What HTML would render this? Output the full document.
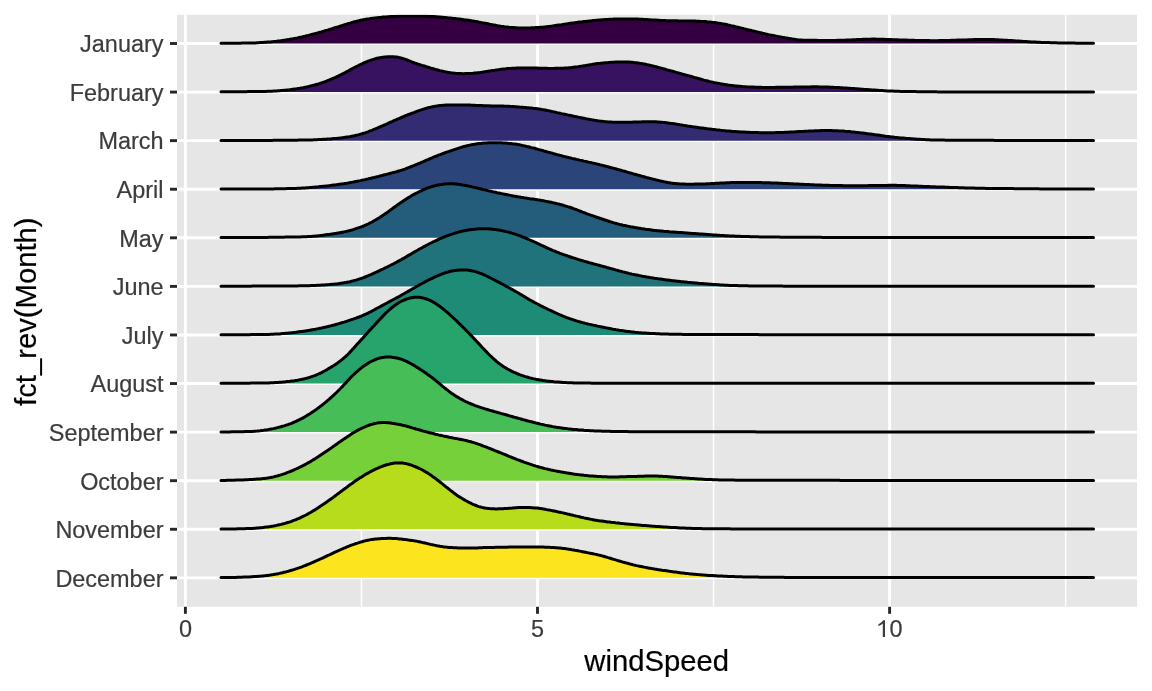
<!DOCTYPE html><html><head><meta charset="utf-8"><style>html,body{margin:0;padding:0;background:#fff;width:1152px;height:691px;overflow:hidden}svg{display:block;will-change:transform}text{font-family:"Liberation Sans",sans-serif}</style></head><body>
<svg width="1152" height="691" viewBox="0 0 1152 691">
<defs><clipPath id="pc"><rect x="177" y="14.8" width="960" height="592"/></clipPath></defs>
<rect x="177" y="14.8" width="960" height="592" fill="#e6e6e6"/>
<g stroke="#fff" fill="none" clip-path="url(#pc)">
<line x1="361.45" y1="14.8" x2="361.45" y2="606.8" stroke-width="1.5"/>
<line x1="713.55" y1="14.8" x2="713.55" y2="606.8" stroke-width="1.5"/>
<line x1="1065.65" y1="14.8" x2="1065.65" y2="606.8" stroke-width="1.5"/>
<line x1="185.40" y1="14.8" x2="185.40" y2="606.8" stroke-width="2.9"/>
<line x1="537.50" y1="14.8" x2="537.50" y2="606.8" stroke-width="2.9"/>
<line x1="889.60" y1="14.8" x2="889.60" y2="606.8" stroke-width="2.9"/>
<line x1="177" y1="43.50" x2="1137" y2="43.50" stroke-width="2.9"/>
<line x1="177" y1="92.08" x2="1137" y2="92.08" stroke-width="2.9"/>
<line x1="177" y1="140.65" x2="1137" y2="140.65" stroke-width="2.9"/>
<line x1="177" y1="189.23" x2="1137" y2="189.23" stroke-width="2.9"/>
<line x1="177" y1="237.81" x2="1137" y2="237.81" stroke-width="2.9"/>
<line x1="177" y1="286.38" x2="1137" y2="286.38" stroke-width="2.9"/>
<line x1="177" y1="334.96" x2="1137" y2="334.96" stroke-width="2.9"/>
<line x1="177" y1="383.54" x2="1137" y2="383.54" stroke-width="2.9"/>
<line x1="177" y1="432.12" x2="1137" y2="432.12" stroke-width="2.9"/>
<line x1="177" y1="480.69" x2="1137" y2="480.69" stroke-width="2.9"/>
<line x1="177" y1="529.27" x2="1137" y2="529.27" stroke-width="2.9"/>
<line x1="177" y1="577.85" x2="1137" y2="577.85" stroke-width="2.9"/>
</g>
<g clip-path="url(#pc)">
<path d="M221.0,43.50 L221.0,43.3 L222.5,43.3 L224.0,43.3 L225.5,43.3 L227.0,43.3 L228.5,43.3 L230.0,43.3 L231.5,43.3 L233.0,43.2 L234.5,43.2 L236.0,43.2 L237.5,43.2 L239.0,43.2 L240.5,43.2 L242.0,43.1 L243.5,43.1 L245.0,43.1 L246.5,43.1 L248.0,43.1 L249.5,43.0 L251.0,43.0 L252.5,43.0 L254.0,42.9 L255.5,42.9 L257.0,42.8 L258.5,42.7 L260.0,42.6 L261.5,42.5 L263.0,42.5 L264.5,42.3 L266.0,42.2 L267.5,42.1 L269.0,42.0 L270.5,41.9 L272.0,41.7 L273.5,41.6 L275.0,41.4 L276.5,41.3 L278.0,41.1 L279.5,40.9 L281.0,40.7 L282.5,40.5 L284.0,40.3 L285.5,40.1 L287.0,39.8 L288.5,39.6 L290.0,39.3 L291.5,39.0 L293.0,38.8 L294.5,38.5 L296.0,38.2 L297.5,37.9 L299.0,37.5 L300.5,37.2 L302.0,36.9 L303.5,36.5 L305.0,36.2 L306.5,35.8 L308.0,35.5 L309.5,35.1 L311.0,34.7 L312.5,34.3 L314.0,33.9 L315.5,33.5 L317.0,33.1 L318.5,32.7 L320.0,32.3 L321.5,31.9 L323.0,31.4 L324.5,31.0 L326.0,30.5 L327.5,30.1 L329.0,29.6 L330.5,29.1 L332.0,28.7 L333.5,28.2 L335.0,27.7 L336.5,27.3 L338.0,26.8 L339.5,26.3 L341.0,25.8 L342.5,25.4 L344.0,24.9 L345.5,24.4 L347.0,24.0 L348.5,23.5 L350.0,23.1 L351.5,22.6 L353.0,22.2 L354.5,21.8 L356.0,21.4 L357.5,21.0 L359.0,20.7 L360.5,20.3 L362.0,20.0 L363.5,19.7 L365.0,19.4 L366.5,19.1 L368.0,18.9 L369.5,18.7 L371.0,18.4 L372.5,18.2 L374.0,18.1 L375.5,17.9 L377.0,17.7 L378.5,17.6 L380.0,17.4 L381.5,17.3 L383.0,17.1 L384.5,17.0 L386.0,16.9 L387.5,16.8 L389.0,16.7 L390.5,16.6 L392.0,16.5 L393.5,16.4 L395.0,16.3 L396.5,16.3 L398.0,16.2 L399.5,16.1 L401.0,16.1 L402.5,16.1 L404.0,16.0 L405.5,16.0 L407.0,16.0 L408.5,15.9 L410.0,15.9 L411.5,15.9 L413.0,15.9 L414.5,15.9 L416.0,15.9 L417.5,16.0 L419.0,16.0 L420.5,16.0 L422.0,16.0 L423.5,16.1 L425.0,16.1 L426.5,16.2 L428.0,16.2 L429.5,16.3 L431.0,16.4 L432.5,16.5 L434.0,16.6 L435.5,16.7 L437.0,16.8 L438.5,16.9 L440.0,17.0 L441.5,17.2 L443.0,17.3 L444.5,17.4 L446.0,17.6 L447.5,17.7 L449.0,17.9 L450.5,18.0 L452.0,18.2 L453.5,18.4 L455.0,18.5 L456.5,18.7 L458.0,18.9 L459.5,19.1 L461.0,19.3 L462.5,19.5 L464.0,19.7 L465.5,19.9 L467.0,20.1 L468.5,20.3 L470.0,20.5 L471.5,20.8 L473.0,21.0 L474.5,21.3 L476.0,21.5 L477.5,21.8 L479.0,22.1 L480.5,22.4 L482.0,22.7 L483.5,22.9 L485.0,23.2 L486.5,23.5 L488.0,23.8 L489.5,24.2 L491.0,24.5 L492.5,24.8 L494.0,25.0 L495.5,25.3 L497.0,25.6 L498.5,25.9 L500.0,26.1 L501.5,26.4 L503.0,26.6 L504.5,26.8 L506.0,26.9 L507.5,27.1 L509.0,27.3 L510.5,27.4 L512.0,27.5 L513.5,27.6 L515.0,27.7 L516.5,27.8 L518.0,27.9 L519.5,27.9 L521.0,28.0 L522.5,28.0 L524.0,28.0 L525.5,28.0 L527.0,27.9 L528.5,27.9 L530.0,27.9 L531.5,27.8 L533.0,27.7 L534.5,27.7 L536.0,27.6 L537.5,27.5 L539.0,27.4 L540.5,27.3 L542.0,27.2 L543.5,27.1 L545.0,26.9 L546.5,26.7 L548.0,26.5 L549.5,26.4 L551.0,26.2 L552.5,26.0 L554.0,25.7 L555.5,25.5 L557.0,25.3 L558.5,25.1 L560.0,24.9 L561.5,24.7 L563.0,24.4 L564.5,24.2 L566.0,24.0 L567.5,23.8 L569.0,23.5 L570.5,23.3 L572.0,23.1 L573.5,22.9 L575.0,22.7 L576.5,22.5 L578.0,22.3 L579.5,22.1 L581.0,21.9 L582.5,21.8 L584.0,21.6 L585.5,21.4 L587.0,21.2 L588.5,21.1 L590.0,20.9 L591.5,20.8 L593.0,20.6 L594.5,20.4 L596.0,20.3 L597.5,20.2 L599.0,20.0 L600.5,19.9 L602.0,19.8 L603.5,19.7 L605.0,19.6 L606.5,19.5 L608.0,19.4 L609.5,19.3 L611.0,19.2 L612.5,19.2 L614.0,19.1 L615.5,19.1 L617.0,19.0 L618.5,19.0 L620.0,19.0 L621.5,19.0 L623.0,19.0 L624.5,19.0 L626.0,19.0 L627.5,19.0 L629.0,19.0 L630.5,19.0 L632.0,19.0 L633.5,19.0 L635.0,19.1 L636.5,19.1 L638.0,19.1 L639.5,19.2 L641.0,19.2 L642.5,19.3 L644.0,19.4 L645.5,19.5 L647.0,19.6 L648.5,19.7 L650.0,19.8 L651.5,19.9 L653.0,20.0 L654.5,20.0 L656.0,20.1 L657.5,20.2 L659.0,20.3 L660.5,20.4 L662.0,20.5 L663.5,20.6 L665.0,20.6 L666.5,20.7 L668.0,20.7 L669.5,20.8 L671.0,20.8 L672.5,20.8 L674.0,20.8 L675.5,20.8 L677.0,20.8 L678.5,20.9 L680.0,20.9 L681.5,20.9 L683.0,20.9 L684.5,20.9 L686.0,20.9 L687.5,20.9 L689.0,21.0 L690.5,21.0 L692.0,21.0 L693.5,21.1 L695.0,21.1 L696.5,21.2 L698.0,21.2 L699.5,21.3 L701.0,21.4 L702.5,21.4 L704.0,21.5 L705.5,21.6 L707.0,21.8 L708.5,21.9 L710.0,22.0 L711.5,22.2 L713.0,22.4 L714.5,22.5 L716.0,22.7 L717.5,23.0 L719.0,23.2 L720.5,23.4 L722.0,23.7 L723.5,23.9 L725.0,24.2 L726.5,24.5 L728.0,24.9 L729.5,25.2 L731.0,25.6 L732.5,25.9 L734.0,26.3 L735.5,26.7 L737.0,27.0 L738.5,27.4 L740.0,27.8 L741.5,28.1 L743.0,28.5 L744.5,28.9 L746.0,29.2 L747.5,29.6 L749.0,30.0 L750.5,30.3 L752.0,30.7 L753.5,31.0 L755.0,31.4 L756.5,31.8 L758.0,32.1 L759.5,32.5 L761.0,32.8 L762.5,33.2 L764.0,33.5 L765.5,33.9 L767.0,34.2 L768.5,34.6 L770.0,34.9 L771.5,35.2 L773.0,35.5 L774.5,35.8 L776.0,36.1 L777.5,36.4 L779.0,36.7 L780.5,37.0 L782.0,37.3 L783.5,37.5 L785.0,37.8 L786.5,38.0 L788.0,38.3 L789.5,38.6 L791.0,38.8 L792.5,39.1 L794.0,39.3 L795.5,39.5 L797.0,39.7 L798.5,39.9 L800.0,40.0 L801.5,40.1 L803.0,40.2 L804.5,40.2 L806.0,40.3 L807.5,40.3 L809.0,40.3 L810.5,40.3 L812.0,40.3 L813.5,40.3 L815.0,40.3 L816.5,40.3 L818.0,40.4 L819.5,40.4 L821.0,40.4 L822.5,40.4 L824.0,40.4 L825.5,40.4 L827.0,40.4 L828.5,40.4 L830.0,40.4 L831.5,40.4 L833.0,40.4 L834.5,40.4 L836.0,40.4 L837.5,40.3 L839.0,40.3 L840.5,40.3 L842.0,40.3 L843.5,40.2 L845.0,40.2 L846.5,40.1 L848.0,40.0 L849.5,40.0 L851.0,39.9 L852.5,39.8 L854.0,39.8 L855.5,39.7 L857.0,39.6 L858.5,39.5 L860.0,39.5 L861.5,39.4 L863.0,39.3 L864.5,39.3 L866.0,39.3 L867.5,39.2 L869.0,39.2 L870.5,39.2 L872.0,39.1 L873.5,39.1 L875.0,39.1 L876.5,39.2 L878.0,39.2 L879.5,39.2 L881.0,39.2 L882.5,39.3 L884.0,39.3 L885.5,39.4 L887.0,39.4 L888.5,39.5 L890.0,39.5 L891.5,39.6 L893.0,39.7 L894.5,39.7 L896.0,39.8 L897.5,39.8 L899.0,39.9 L900.5,39.9 L902.0,40.0 L903.5,40.0 L905.0,40.1 L906.5,40.1 L908.0,40.2 L909.5,40.2 L911.0,40.3 L912.5,40.3 L914.0,40.3 L915.5,40.4 L917.0,40.4 L918.5,40.4 L920.0,40.5 L921.5,40.5 L923.0,40.5 L924.5,40.6 L926.0,40.6 L927.5,40.6 L929.0,40.6 L930.5,40.7 L932.0,40.7 L933.5,40.7 L935.0,40.7 L936.5,40.7 L938.0,40.7 L939.5,40.6 L941.0,40.6 L942.5,40.6 L944.0,40.6 L945.5,40.5 L947.0,40.5 L948.5,40.4 L950.0,40.4 L951.5,40.3 L953.0,40.3 L954.5,40.2 L956.0,40.2 L957.5,40.1 L959.0,40.1 L960.5,40.0 L962.0,40.0 L963.5,39.9 L965.0,39.9 L966.5,39.9 L968.0,39.8 L969.5,39.8 L971.0,39.7 L972.5,39.7 L974.0,39.6 L975.5,39.6 L977.0,39.5 L978.5,39.5 L980.0,39.5 L981.5,39.5 L983.0,39.4 L984.5,39.4 L986.0,39.5 L987.5,39.5 L989.0,39.5 L990.5,39.5 L992.0,39.6 L993.5,39.6 L995.0,39.7 L996.5,39.8 L998.0,39.8 L999.5,39.9 L1001.0,40.0 L1002.5,40.1 L1004.0,40.2 L1005.5,40.2 L1007.0,40.3 L1008.5,40.4 L1010.0,40.5 L1011.5,40.6 L1013.0,40.7 L1014.5,40.8 L1016.0,40.9 L1017.5,41.0 L1019.0,41.1 L1020.5,41.2 L1022.0,41.3 L1023.5,41.4 L1025.0,41.5 L1026.5,41.6 L1028.0,41.7 L1029.5,41.8 L1031.0,41.9 L1032.5,42.0 L1034.0,42.1 L1035.5,42.1 L1037.0,42.2 L1038.5,42.3 L1040.0,42.3 L1041.5,42.4 L1043.0,42.4 L1044.5,42.5 L1046.0,42.5 L1047.5,42.6 L1049.0,42.6 L1050.5,42.7 L1052.0,42.7 L1053.5,42.8 L1055.0,42.8 L1056.5,42.8 L1058.0,42.9 L1059.5,42.9 L1061.0,42.9 L1062.5,42.9 L1064.0,43.0 L1065.5,43.0 L1067.0,43.0 L1068.5,43.0 L1070.0,43.1 L1071.5,43.1 L1073.0,43.1 L1074.5,43.1 L1076.0,43.2 L1077.5,43.2 L1079.0,43.2 L1080.5,43.2 L1082.0,43.2 L1083.5,43.2 L1085.0,43.3 L1086.5,43.3 L1088.0,43.3 L1089.5,43.3 L1091.0,43.3 L1092.5,43.3 L1093.5,43.3 L1093.5,43.50 Z" fill="#340042" stroke="none"/>
<path d="M221.0,43.3 L222.5,43.3 L224.0,43.3 L225.5,43.3 L227.0,43.3 L228.5,43.3 L230.0,43.3 L231.5,43.3 L233.0,43.2 L234.5,43.2 L236.0,43.2 L237.5,43.2 L239.0,43.2 L240.5,43.2 L242.0,43.1 L243.5,43.1 L245.0,43.1 L246.5,43.1 L248.0,43.1 L249.5,43.0 L251.0,43.0 L252.5,43.0 L254.0,42.9 L255.5,42.9 L257.0,42.8 L258.5,42.7 L260.0,42.6 L261.5,42.5 L263.0,42.5 L264.5,42.3 L266.0,42.2 L267.5,42.1 L269.0,42.0 L270.5,41.9 L272.0,41.7 L273.5,41.6 L275.0,41.4 L276.5,41.3 L278.0,41.1 L279.5,40.9 L281.0,40.7 L282.5,40.5 L284.0,40.3 L285.5,40.1 L287.0,39.8 L288.5,39.6 L290.0,39.3 L291.5,39.0 L293.0,38.8 L294.5,38.5 L296.0,38.2 L297.5,37.9 L299.0,37.5 L300.5,37.2 L302.0,36.9 L303.5,36.5 L305.0,36.2 L306.5,35.8 L308.0,35.5 L309.5,35.1 L311.0,34.7 L312.5,34.3 L314.0,33.9 L315.5,33.5 L317.0,33.1 L318.5,32.7 L320.0,32.3 L321.5,31.9 L323.0,31.4 L324.5,31.0 L326.0,30.5 L327.5,30.1 L329.0,29.6 L330.5,29.1 L332.0,28.7 L333.5,28.2 L335.0,27.7 L336.5,27.3 L338.0,26.8 L339.5,26.3 L341.0,25.8 L342.5,25.4 L344.0,24.9 L345.5,24.4 L347.0,24.0 L348.5,23.5 L350.0,23.1 L351.5,22.6 L353.0,22.2 L354.5,21.8 L356.0,21.4 L357.5,21.0 L359.0,20.7 L360.5,20.3 L362.0,20.0 L363.5,19.7 L365.0,19.4 L366.5,19.1 L368.0,18.9 L369.5,18.7 L371.0,18.4 L372.5,18.2 L374.0,18.1 L375.5,17.9 L377.0,17.7 L378.5,17.6 L380.0,17.4 L381.5,17.3 L383.0,17.1 L384.5,17.0 L386.0,16.9 L387.5,16.8 L389.0,16.7 L390.5,16.6 L392.0,16.5 L393.5,16.4 L395.0,16.3 L396.5,16.3 L398.0,16.2 L399.5,16.1 L401.0,16.1 L402.5,16.1 L404.0,16.0 L405.5,16.0 L407.0,16.0 L408.5,15.9 L410.0,15.9 L411.5,15.9 L413.0,15.9 L414.5,15.9 L416.0,15.9 L417.5,16.0 L419.0,16.0 L420.5,16.0 L422.0,16.0 L423.5,16.1 L425.0,16.1 L426.5,16.2 L428.0,16.2 L429.5,16.3 L431.0,16.4 L432.5,16.5 L434.0,16.6 L435.5,16.7 L437.0,16.8 L438.5,16.9 L440.0,17.0 L441.5,17.2 L443.0,17.3 L444.5,17.4 L446.0,17.6 L447.5,17.7 L449.0,17.9 L450.5,18.0 L452.0,18.2 L453.5,18.4 L455.0,18.5 L456.5,18.7 L458.0,18.9 L459.5,19.1 L461.0,19.3 L462.5,19.5 L464.0,19.7 L465.5,19.9 L467.0,20.1 L468.5,20.3 L470.0,20.5 L471.5,20.8 L473.0,21.0 L474.5,21.3 L476.0,21.5 L477.5,21.8 L479.0,22.1 L480.5,22.4 L482.0,22.7 L483.5,22.9 L485.0,23.2 L486.5,23.5 L488.0,23.8 L489.5,24.2 L491.0,24.5 L492.5,24.8 L494.0,25.0 L495.5,25.3 L497.0,25.6 L498.5,25.9 L500.0,26.1 L501.5,26.4 L503.0,26.6 L504.5,26.8 L506.0,26.9 L507.5,27.1 L509.0,27.3 L510.5,27.4 L512.0,27.5 L513.5,27.6 L515.0,27.7 L516.5,27.8 L518.0,27.9 L519.5,27.9 L521.0,28.0 L522.5,28.0 L524.0,28.0 L525.5,28.0 L527.0,27.9 L528.5,27.9 L530.0,27.9 L531.5,27.8 L533.0,27.7 L534.5,27.7 L536.0,27.6 L537.5,27.5 L539.0,27.4 L540.5,27.3 L542.0,27.2 L543.5,27.1 L545.0,26.9 L546.5,26.7 L548.0,26.5 L549.5,26.4 L551.0,26.2 L552.5,26.0 L554.0,25.7 L555.5,25.5 L557.0,25.3 L558.5,25.1 L560.0,24.9 L561.5,24.7 L563.0,24.4 L564.5,24.2 L566.0,24.0 L567.5,23.8 L569.0,23.5 L570.5,23.3 L572.0,23.1 L573.5,22.9 L575.0,22.7 L576.5,22.5 L578.0,22.3 L579.5,22.1 L581.0,21.9 L582.5,21.8 L584.0,21.6 L585.5,21.4 L587.0,21.2 L588.5,21.1 L590.0,20.9 L591.5,20.8 L593.0,20.6 L594.5,20.4 L596.0,20.3 L597.5,20.2 L599.0,20.0 L600.5,19.9 L602.0,19.8 L603.5,19.7 L605.0,19.6 L606.5,19.5 L608.0,19.4 L609.5,19.3 L611.0,19.2 L612.5,19.2 L614.0,19.1 L615.5,19.1 L617.0,19.0 L618.5,19.0 L620.0,19.0 L621.5,19.0 L623.0,19.0 L624.5,19.0 L626.0,19.0 L627.5,19.0 L629.0,19.0 L630.5,19.0 L632.0,19.0 L633.5,19.0 L635.0,19.1 L636.5,19.1 L638.0,19.1 L639.5,19.2 L641.0,19.2 L642.5,19.3 L644.0,19.4 L645.5,19.5 L647.0,19.6 L648.5,19.7 L650.0,19.8 L651.5,19.9 L653.0,20.0 L654.5,20.0 L656.0,20.1 L657.5,20.2 L659.0,20.3 L660.5,20.4 L662.0,20.5 L663.5,20.6 L665.0,20.6 L666.5,20.7 L668.0,20.7 L669.5,20.8 L671.0,20.8 L672.5,20.8 L674.0,20.8 L675.5,20.8 L677.0,20.8 L678.5,20.9 L680.0,20.9 L681.5,20.9 L683.0,20.9 L684.5,20.9 L686.0,20.9 L687.5,20.9 L689.0,21.0 L690.5,21.0 L692.0,21.0 L693.5,21.1 L695.0,21.1 L696.5,21.2 L698.0,21.2 L699.5,21.3 L701.0,21.4 L702.5,21.4 L704.0,21.5 L705.5,21.6 L707.0,21.8 L708.5,21.9 L710.0,22.0 L711.5,22.2 L713.0,22.4 L714.5,22.5 L716.0,22.7 L717.5,23.0 L719.0,23.2 L720.5,23.4 L722.0,23.7 L723.5,23.9 L725.0,24.2 L726.5,24.5 L728.0,24.9 L729.5,25.2 L731.0,25.6 L732.5,25.9 L734.0,26.3 L735.5,26.7 L737.0,27.0 L738.5,27.4 L740.0,27.8 L741.5,28.1 L743.0,28.5 L744.5,28.9 L746.0,29.2 L747.5,29.6 L749.0,30.0 L750.5,30.3 L752.0,30.7 L753.5,31.0 L755.0,31.4 L756.5,31.8 L758.0,32.1 L759.5,32.5 L761.0,32.8 L762.5,33.2 L764.0,33.5 L765.5,33.9 L767.0,34.2 L768.5,34.6 L770.0,34.9 L771.5,35.2 L773.0,35.5 L774.5,35.8 L776.0,36.1 L777.5,36.4 L779.0,36.7 L780.5,37.0 L782.0,37.3 L783.5,37.5 L785.0,37.8 L786.5,38.0 L788.0,38.3 L789.5,38.6 L791.0,38.8 L792.5,39.1 L794.0,39.3 L795.5,39.5 L797.0,39.7 L798.5,39.9 L800.0,40.0 L801.5,40.1 L803.0,40.2 L804.5,40.2 L806.0,40.3 L807.5,40.3 L809.0,40.3 L810.5,40.3 L812.0,40.3 L813.5,40.3 L815.0,40.3 L816.5,40.3 L818.0,40.4 L819.5,40.4 L821.0,40.4 L822.5,40.4 L824.0,40.4 L825.5,40.4 L827.0,40.4 L828.5,40.4 L830.0,40.4 L831.5,40.4 L833.0,40.4 L834.5,40.4 L836.0,40.4 L837.5,40.3 L839.0,40.3 L840.5,40.3 L842.0,40.3 L843.5,40.2 L845.0,40.2 L846.5,40.1 L848.0,40.0 L849.5,40.0 L851.0,39.9 L852.5,39.8 L854.0,39.8 L855.5,39.7 L857.0,39.6 L858.5,39.5 L860.0,39.5 L861.5,39.4 L863.0,39.3 L864.5,39.3 L866.0,39.3 L867.5,39.2 L869.0,39.2 L870.5,39.2 L872.0,39.1 L873.5,39.1 L875.0,39.1 L876.5,39.2 L878.0,39.2 L879.5,39.2 L881.0,39.2 L882.5,39.3 L884.0,39.3 L885.5,39.4 L887.0,39.4 L888.5,39.5 L890.0,39.5 L891.5,39.6 L893.0,39.7 L894.5,39.7 L896.0,39.8 L897.5,39.8 L899.0,39.9 L900.5,39.9 L902.0,40.0 L903.5,40.0 L905.0,40.1 L906.5,40.1 L908.0,40.2 L909.5,40.2 L911.0,40.3 L912.5,40.3 L914.0,40.3 L915.5,40.4 L917.0,40.4 L918.5,40.4 L920.0,40.5 L921.5,40.5 L923.0,40.5 L924.5,40.6 L926.0,40.6 L927.5,40.6 L929.0,40.6 L930.5,40.7 L932.0,40.7 L933.5,40.7 L935.0,40.7 L936.5,40.7 L938.0,40.7 L939.5,40.6 L941.0,40.6 L942.5,40.6 L944.0,40.6 L945.5,40.5 L947.0,40.5 L948.5,40.4 L950.0,40.4 L951.5,40.3 L953.0,40.3 L954.5,40.2 L956.0,40.2 L957.5,40.1 L959.0,40.1 L960.5,40.0 L962.0,40.0 L963.5,39.9 L965.0,39.9 L966.5,39.9 L968.0,39.8 L969.5,39.8 L971.0,39.7 L972.5,39.7 L974.0,39.6 L975.5,39.6 L977.0,39.5 L978.5,39.5 L980.0,39.5 L981.5,39.5 L983.0,39.4 L984.5,39.4 L986.0,39.5 L987.5,39.5 L989.0,39.5 L990.5,39.5 L992.0,39.6 L993.5,39.6 L995.0,39.7 L996.5,39.8 L998.0,39.8 L999.5,39.9 L1001.0,40.0 L1002.5,40.1 L1004.0,40.2 L1005.5,40.2 L1007.0,40.3 L1008.5,40.4 L1010.0,40.5 L1011.5,40.6 L1013.0,40.7 L1014.5,40.8 L1016.0,40.9 L1017.5,41.0 L1019.0,41.1 L1020.5,41.2 L1022.0,41.3 L1023.5,41.4 L1025.0,41.5 L1026.5,41.6 L1028.0,41.7 L1029.5,41.8 L1031.0,41.9 L1032.5,42.0 L1034.0,42.1 L1035.5,42.1 L1037.0,42.2 L1038.5,42.3 L1040.0,42.3 L1041.5,42.4 L1043.0,42.4 L1044.5,42.5 L1046.0,42.5 L1047.5,42.6 L1049.0,42.6 L1050.5,42.7 L1052.0,42.7 L1053.5,42.8 L1055.0,42.8 L1056.5,42.8 L1058.0,42.9 L1059.5,42.9 L1061.0,42.9 L1062.5,42.9 L1064.0,43.0 L1065.5,43.0 L1067.0,43.0 L1068.5,43.0 L1070.0,43.1 L1071.5,43.1 L1073.0,43.1 L1074.5,43.1 L1076.0,43.2 L1077.5,43.2 L1079.0,43.2 L1080.5,43.2 L1082.0,43.2 L1083.5,43.2 L1085.0,43.3 L1086.5,43.3 L1088.0,43.3 L1089.5,43.3 L1091.0,43.3 L1092.5,43.3 L1093.5,43.3" fill="none" stroke="#000" stroke-width="3.0" stroke-linejoin="round" stroke-linecap="round"/>
<path d="M221.0,92.08 L221.0,91.8 L222.5,91.8 L224.0,91.8 L225.5,91.8 L227.0,91.8 L228.5,91.8 L230.0,91.8 L231.5,91.8 L233.0,91.8 L234.5,91.8 L236.0,91.7 L237.5,91.7 L239.0,91.7 L240.5,91.7 L242.0,91.7 L243.5,91.7 L245.0,91.7 L246.5,91.7 L248.0,91.6 L249.5,91.6 L251.0,91.6 L252.5,91.6 L254.0,91.6 L255.5,91.5 L257.0,91.5 L258.5,91.5 L260.0,91.5 L261.5,91.4 L263.0,91.4 L264.5,91.4 L266.0,91.4 L267.5,91.3 L269.0,91.3 L270.5,91.2 L272.0,91.2 L273.5,91.1 L275.0,91.0 L276.5,90.9 L278.0,90.8 L279.5,90.7 L281.0,90.6 L282.5,90.5 L284.0,90.3 L285.5,90.2 L287.0,90.0 L288.5,89.9 L290.0,89.7 L291.5,89.5 L293.0,89.3 L294.5,89.1 L296.0,88.9 L297.5,88.6 L299.0,88.4 L300.5,88.1 L302.0,87.9 L303.5,87.6 L305.0,87.3 L306.5,87.0 L308.0,86.6 L309.5,86.3 L311.0,85.9 L312.5,85.5 L314.0,85.1 L315.5,84.7 L317.0,84.3 L318.5,83.9 L320.0,83.4 L321.5,82.9 L323.0,82.4 L324.5,81.9 L326.0,81.3 L327.5,80.7 L329.0,80.1 L330.5,79.5 L332.0,78.9 L333.5,78.2 L335.0,77.6 L336.5,76.9 L338.0,76.2 L339.5,75.4 L341.0,74.7 L342.5,73.9 L344.0,73.2 L345.5,72.4 L347.0,71.5 L348.5,70.7 L350.0,69.9 L351.5,69.1 L353.0,68.3 L354.5,67.5 L356.0,66.7 L357.5,66.0 L359.0,65.2 L360.5,64.5 L362.0,63.8 L363.5,63.1 L365.0,62.4 L366.5,61.8 L368.0,61.2 L369.5,60.7 L371.0,60.1 L372.5,59.6 L374.0,59.2 L375.5,58.7 L377.0,58.3 L378.5,58.0 L380.0,57.7 L381.5,57.4 L383.0,57.2 L384.5,57.0 L386.0,56.9 L387.5,56.8 L389.0,56.7 L390.5,56.7 L392.0,56.7 L393.5,56.8 L395.0,56.9 L396.5,57.1 L398.0,57.3 L399.5,57.6 L401.0,58.0 L402.5,58.4 L404.0,58.9 L405.5,59.4 L407.0,60.0 L408.5,60.6 L410.0,61.2 L411.5,61.8 L413.0,62.4 L414.5,63.0 L416.0,63.5 L417.5,64.0 L419.0,64.4 L420.5,64.9 L422.0,65.4 L423.5,65.8 L425.0,66.2 L426.5,66.7 L428.0,67.1 L429.5,67.6 L431.0,68.1 L432.5,68.5 L434.0,68.9 L435.5,69.4 L437.0,69.8 L438.5,70.2 L440.0,70.6 L441.5,70.9 L443.0,71.3 L444.5,71.6 L446.0,71.9 L447.5,72.2 L449.0,72.4 L450.5,72.7 L452.0,72.9 L453.5,73.1 L455.0,73.2 L456.5,73.4 L458.0,73.5 L459.5,73.6 L461.0,73.6 L462.5,73.7 L464.0,73.7 L465.5,73.6 L467.0,73.6 L468.5,73.5 L470.0,73.5 L471.5,73.4 L473.0,73.3 L474.5,73.1 L476.0,73.0 L477.5,72.8 L479.0,72.7 L480.5,72.5 L482.0,72.3 L483.5,72.0 L485.0,71.8 L486.5,71.6 L488.0,71.3 L489.5,71.1 L491.0,70.8 L492.5,70.6 L494.0,70.4 L495.5,70.1 L497.0,69.9 L498.5,69.7 L500.0,69.5 L501.5,69.3 L503.0,69.1 L504.5,68.9 L506.0,68.8 L507.5,68.6 L509.0,68.5 L510.5,68.4 L512.0,68.3 L513.5,68.2 L515.0,68.2 L516.5,68.1 L518.0,68.1 L519.5,68.0 L521.0,68.0 L522.5,68.0 L524.0,68.0 L525.5,68.0 L527.0,67.9 L528.5,67.9 L530.0,67.9 L531.5,68.0 L533.0,68.0 L534.5,68.0 L536.0,68.1 L537.5,68.1 L539.0,68.2 L540.5,68.2 L542.0,68.2 L543.5,68.3 L545.0,68.3 L546.5,68.3 L548.0,68.4 L549.5,68.4 L551.0,68.4 L552.5,68.4 L554.0,68.4 L555.5,68.3 L557.0,68.3 L558.5,68.3 L560.0,68.3 L561.5,68.2 L563.0,68.2 L564.5,68.1 L566.0,68.0 L567.5,67.9 L569.0,67.8 L570.5,67.7 L572.0,67.5 L573.5,67.3 L575.0,67.1 L576.5,66.9 L578.0,66.7 L579.5,66.4 L581.0,66.2 L582.5,66.0 L584.0,65.7 L585.5,65.5 L587.0,65.2 L588.5,65.0 L590.0,64.7 L591.5,64.5 L593.0,64.2 L594.5,64.0 L596.0,63.8 L597.5,63.6 L599.0,63.4 L600.5,63.2 L602.0,63.1 L603.5,62.9 L605.0,62.8 L606.5,62.7 L608.0,62.6 L609.5,62.4 L611.0,62.3 L612.5,62.3 L614.0,62.2 L615.5,62.1 L617.0,62.0 L618.5,62.0 L620.0,61.9 L621.5,61.9 L623.0,61.9 L624.5,61.9 L626.0,61.9 L627.5,62.0 L629.0,62.1 L630.5,62.2 L632.0,62.3 L633.5,62.5 L635.0,62.7 L636.5,62.8 L638.0,63.0 L639.5,63.3 L641.0,63.5 L642.5,63.7 L644.0,64.0 L645.5,64.3 L647.0,64.6 L648.5,64.9 L650.0,65.3 L651.5,65.6 L653.0,66.0 L654.5,66.4 L656.0,66.8 L657.5,67.2 L659.0,67.6 L660.5,68.0 L662.0,68.4 L663.5,68.8 L665.0,69.2 L666.5,69.7 L668.0,70.1 L669.5,70.5 L671.0,70.9 L672.5,71.3 L674.0,71.7 L675.5,72.2 L677.0,72.6 L678.5,73.0 L680.0,73.4 L681.5,73.8 L683.0,74.3 L684.5,74.7 L686.0,75.1 L687.5,75.5 L689.0,75.9 L690.5,76.3 L692.0,76.7 L693.5,77.2 L695.0,77.6 L696.5,78.0 L698.0,78.4 L699.5,78.8 L701.0,79.2 L702.5,79.6 L704.0,80.1 L705.5,80.5 L707.0,80.8 L708.5,81.2 L710.0,81.6 L711.5,81.9 L713.0,82.3 L714.5,82.6 L716.0,82.9 L717.5,83.2 L719.0,83.5 L720.5,83.8 L722.0,84.0 L723.5,84.3 L725.0,84.5 L726.5,84.7 L728.0,85.0 L729.5,85.2 L731.0,85.4 L732.5,85.5 L734.0,85.7 L735.5,85.9 L737.0,86.0 L738.5,86.2 L740.0,86.3 L741.5,86.4 L743.0,86.6 L744.5,86.7 L746.0,86.8 L747.5,86.9 L749.0,86.9 L750.5,87.0 L752.0,87.1 L753.5,87.1 L755.0,87.2 L756.5,87.2 L758.0,87.3 L759.5,87.3 L761.0,87.3 L762.5,87.4 L764.0,87.4 L765.5,87.4 L767.0,87.4 L768.5,87.4 L770.0,87.4 L771.5,87.4 L773.0,87.4 L774.5,87.4 L776.0,87.3 L777.5,87.3 L779.0,87.3 L780.5,87.3 L782.0,87.3 L783.5,87.3 L785.0,87.3 L786.5,87.2 L788.0,87.2 L789.5,87.2 L791.0,87.2 L792.5,87.2 L794.0,87.1 L795.5,87.1 L797.0,87.1 L798.5,87.1 L800.0,87.0 L801.5,87.0 L803.0,87.0 L804.5,86.9 L806.0,86.9 L807.5,86.9 L809.0,86.9 L810.5,86.9 L812.0,86.8 L813.5,86.8 L815.0,86.8 L816.5,86.8 L818.0,86.8 L819.5,86.9 L821.0,86.9 L822.5,86.9 L824.0,87.0 L825.5,87.0 L827.0,87.1 L828.5,87.1 L830.0,87.2 L831.5,87.3 L833.0,87.3 L834.5,87.4 L836.0,87.5 L837.5,87.6 L839.0,87.6 L840.5,87.7 L842.0,87.8 L843.5,87.9 L845.0,88.0 L846.5,88.1 L848.0,88.2 L849.5,88.3 L851.0,88.4 L852.5,88.5 L854.0,88.6 L855.5,88.7 L857.0,88.8 L858.5,89.0 L860.0,89.1 L861.5,89.2 L863.0,89.3 L864.5,89.4 L866.0,89.5 L867.5,89.6 L869.0,89.7 L870.5,89.8 L872.0,89.9 L873.5,90.0 L875.0,90.1 L876.5,90.2 L878.0,90.3 L879.5,90.4 L881.0,90.5 L882.5,90.6 L884.0,90.7 L885.5,90.8 L887.0,90.9 L888.5,90.9 L890.0,91.0 L891.5,91.1 L893.0,91.1 L894.5,91.2 L896.0,91.2 L897.5,91.3 L899.0,91.3 L900.5,91.4 L902.0,91.4 L903.5,91.4 L905.0,91.5 L906.5,91.5 L908.0,91.5 L909.5,91.5 L911.0,91.6 L912.5,91.6 L914.0,91.6 L915.5,91.6 L917.0,91.7 L918.5,91.7 L920.0,91.7 L921.5,91.7 L923.0,91.7 L924.5,91.7 L926.0,91.8 L927.5,91.8 L929.0,91.8 L930.5,91.8 L932.0,91.8 L933.5,91.8 L935.0,91.8 L936.5,91.8 L938.0,91.9 L939.5,91.9 L941.0,91.9 L942.5,91.9 L944.0,91.9 L945.5,91.9 L947.0,91.9 L948.5,91.9 L950.0,91.9 L951.5,91.9 L953.0,91.9 L954.5,91.9 L956.0,91.9 L957.5,91.9 L959.0,91.9 L960.5,91.9 L962.0,91.9 L963.5,91.9 L965.0,91.9 L966.5,91.9 L968.0,91.9 L969.5,91.9 L971.0,91.9 L972.5,91.9 L974.0,91.9 L975.5,91.9 L977.0,91.9 L978.5,91.9 L980.0,91.9 L981.5,91.9 L983.0,91.9 L984.5,91.9 L986.0,91.9 L987.5,91.9 L989.0,91.9 L990.5,91.9 L992.0,91.9 L993.5,91.9 L995.0,91.9 L996.5,91.9 L998.0,91.9 L999.5,91.9 L1001.0,91.9 L1002.5,91.9 L1004.0,91.9 L1005.5,91.9 L1007.0,91.9 L1008.5,91.9 L1010.0,91.9 L1011.5,91.9 L1013.0,91.9 L1014.5,91.9 L1016.0,91.9 L1017.5,91.9 L1019.0,91.9 L1020.5,91.9 L1022.0,91.9 L1023.5,91.9 L1025.0,91.9 L1026.5,91.9 L1028.0,91.9 L1029.5,91.9 L1031.0,91.9 L1032.5,91.9 L1034.0,91.9 L1035.5,91.9 L1037.0,91.9 L1038.5,91.9 L1040.0,91.9 L1041.5,91.9 L1043.0,91.9 L1044.5,91.9 L1046.0,91.9 L1047.5,91.9 L1049.0,91.9 L1050.5,91.9 L1052.0,91.9 L1053.5,91.9 L1055.0,91.9 L1056.5,91.9 L1058.0,91.9 L1059.5,91.9 L1061.0,91.9 L1062.5,91.9 L1064.0,91.9 L1065.5,91.9 L1067.0,91.9 L1068.5,91.9 L1070.0,91.9 L1071.5,91.9 L1073.0,91.9 L1074.5,91.9 L1076.0,91.9 L1077.5,91.9 L1079.0,91.9 L1080.5,91.9 L1082.0,91.9 L1083.5,91.9 L1085.0,91.9 L1086.5,91.9 L1088.0,91.9 L1089.5,91.9 L1091.0,91.9 L1092.5,91.9 L1093.5,91.9 L1093.5,92.08 Z" fill="#371260" stroke="none"/>
<path d="M221.0,91.8 L222.5,91.8 L224.0,91.8 L225.5,91.8 L227.0,91.8 L228.5,91.8 L230.0,91.8 L231.5,91.8 L233.0,91.8 L234.5,91.8 L236.0,91.7 L237.5,91.7 L239.0,91.7 L240.5,91.7 L242.0,91.7 L243.5,91.7 L245.0,91.7 L246.5,91.7 L248.0,91.6 L249.5,91.6 L251.0,91.6 L252.5,91.6 L254.0,91.6 L255.5,91.5 L257.0,91.5 L258.5,91.5 L260.0,91.5 L261.5,91.4 L263.0,91.4 L264.5,91.4 L266.0,91.4 L267.5,91.3 L269.0,91.3 L270.5,91.2 L272.0,91.2 L273.5,91.1 L275.0,91.0 L276.5,90.9 L278.0,90.8 L279.5,90.7 L281.0,90.6 L282.5,90.5 L284.0,90.3 L285.5,90.2 L287.0,90.0 L288.5,89.9 L290.0,89.7 L291.5,89.5 L293.0,89.3 L294.5,89.1 L296.0,88.9 L297.5,88.6 L299.0,88.4 L300.5,88.1 L302.0,87.9 L303.5,87.6 L305.0,87.3 L306.5,87.0 L308.0,86.6 L309.5,86.3 L311.0,85.9 L312.5,85.5 L314.0,85.1 L315.5,84.7 L317.0,84.3 L318.5,83.9 L320.0,83.4 L321.5,82.9 L323.0,82.4 L324.5,81.9 L326.0,81.3 L327.5,80.7 L329.0,80.1 L330.5,79.5 L332.0,78.9 L333.5,78.2 L335.0,77.6 L336.5,76.9 L338.0,76.2 L339.5,75.4 L341.0,74.7 L342.5,73.9 L344.0,73.2 L345.5,72.4 L347.0,71.5 L348.5,70.7 L350.0,69.9 L351.5,69.1 L353.0,68.3 L354.5,67.5 L356.0,66.7 L357.5,66.0 L359.0,65.2 L360.5,64.5 L362.0,63.8 L363.5,63.1 L365.0,62.4 L366.5,61.8 L368.0,61.2 L369.5,60.7 L371.0,60.1 L372.5,59.6 L374.0,59.2 L375.5,58.7 L377.0,58.3 L378.5,58.0 L380.0,57.7 L381.5,57.4 L383.0,57.2 L384.5,57.0 L386.0,56.9 L387.5,56.8 L389.0,56.7 L390.5,56.7 L392.0,56.7 L393.5,56.8 L395.0,56.9 L396.5,57.1 L398.0,57.3 L399.5,57.6 L401.0,58.0 L402.5,58.4 L404.0,58.9 L405.5,59.4 L407.0,60.0 L408.5,60.6 L410.0,61.2 L411.5,61.8 L413.0,62.4 L414.5,63.0 L416.0,63.5 L417.5,64.0 L419.0,64.4 L420.5,64.9 L422.0,65.4 L423.5,65.8 L425.0,66.2 L426.5,66.7 L428.0,67.1 L429.5,67.6 L431.0,68.1 L432.5,68.5 L434.0,68.9 L435.5,69.4 L437.0,69.8 L438.5,70.2 L440.0,70.6 L441.5,70.9 L443.0,71.3 L444.5,71.6 L446.0,71.9 L447.5,72.2 L449.0,72.4 L450.5,72.7 L452.0,72.9 L453.5,73.1 L455.0,73.2 L456.5,73.4 L458.0,73.5 L459.5,73.6 L461.0,73.6 L462.5,73.7 L464.0,73.7 L465.5,73.6 L467.0,73.6 L468.5,73.5 L470.0,73.5 L471.5,73.4 L473.0,73.3 L474.5,73.1 L476.0,73.0 L477.5,72.8 L479.0,72.7 L480.5,72.5 L482.0,72.3 L483.5,72.0 L485.0,71.8 L486.5,71.6 L488.0,71.3 L489.5,71.1 L491.0,70.8 L492.5,70.6 L494.0,70.4 L495.5,70.1 L497.0,69.9 L498.5,69.7 L500.0,69.5 L501.5,69.3 L503.0,69.1 L504.5,68.9 L506.0,68.8 L507.5,68.6 L509.0,68.5 L510.5,68.4 L512.0,68.3 L513.5,68.2 L515.0,68.2 L516.5,68.1 L518.0,68.1 L519.5,68.0 L521.0,68.0 L522.5,68.0 L524.0,68.0 L525.5,68.0 L527.0,67.9 L528.5,67.9 L530.0,67.9 L531.5,68.0 L533.0,68.0 L534.5,68.0 L536.0,68.1 L537.5,68.1 L539.0,68.2 L540.5,68.2 L542.0,68.2 L543.5,68.3 L545.0,68.3 L546.5,68.3 L548.0,68.4 L549.5,68.4 L551.0,68.4 L552.5,68.4 L554.0,68.4 L555.5,68.3 L557.0,68.3 L558.5,68.3 L560.0,68.3 L561.5,68.2 L563.0,68.2 L564.5,68.1 L566.0,68.0 L567.5,67.9 L569.0,67.8 L570.5,67.7 L572.0,67.5 L573.5,67.3 L575.0,67.1 L576.5,66.9 L578.0,66.7 L579.5,66.4 L581.0,66.2 L582.5,66.0 L584.0,65.7 L585.5,65.5 L587.0,65.2 L588.5,65.0 L590.0,64.7 L591.5,64.5 L593.0,64.2 L594.5,64.0 L596.0,63.8 L597.5,63.6 L599.0,63.4 L600.5,63.2 L602.0,63.1 L603.5,62.9 L605.0,62.8 L606.5,62.7 L608.0,62.6 L609.5,62.4 L611.0,62.3 L612.5,62.3 L614.0,62.2 L615.5,62.1 L617.0,62.0 L618.5,62.0 L620.0,61.9 L621.5,61.9 L623.0,61.9 L624.5,61.9 L626.0,61.9 L627.5,62.0 L629.0,62.1 L630.5,62.2 L632.0,62.3 L633.5,62.5 L635.0,62.7 L636.5,62.8 L638.0,63.0 L639.5,63.3 L641.0,63.5 L642.5,63.7 L644.0,64.0 L645.5,64.3 L647.0,64.6 L648.5,64.9 L650.0,65.3 L651.5,65.6 L653.0,66.0 L654.5,66.4 L656.0,66.8 L657.5,67.2 L659.0,67.6 L660.5,68.0 L662.0,68.4 L663.5,68.8 L665.0,69.2 L666.5,69.7 L668.0,70.1 L669.5,70.5 L671.0,70.9 L672.5,71.3 L674.0,71.7 L675.5,72.2 L677.0,72.6 L678.5,73.0 L680.0,73.4 L681.5,73.8 L683.0,74.3 L684.5,74.7 L686.0,75.1 L687.5,75.5 L689.0,75.9 L690.5,76.3 L692.0,76.7 L693.5,77.2 L695.0,77.6 L696.5,78.0 L698.0,78.4 L699.5,78.8 L701.0,79.2 L702.5,79.6 L704.0,80.1 L705.5,80.5 L707.0,80.8 L708.5,81.2 L710.0,81.6 L711.5,81.9 L713.0,82.3 L714.5,82.6 L716.0,82.9 L717.5,83.2 L719.0,83.5 L720.5,83.8 L722.0,84.0 L723.5,84.3 L725.0,84.5 L726.5,84.7 L728.0,85.0 L729.5,85.2 L731.0,85.4 L732.5,85.5 L734.0,85.7 L735.5,85.9 L737.0,86.0 L738.5,86.2 L740.0,86.3 L741.5,86.4 L743.0,86.6 L744.5,86.7 L746.0,86.8 L747.5,86.9 L749.0,86.9 L750.5,87.0 L752.0,87.1 L753.5,87.1 L755.0,87.2 L756.5,87.2 L758.0,87.3 L759.5,87.3 L761.0,87.3 L762.5,87.4 L764.0,87.4 L765.5,87.4 L767.0,87.4 L768.5,87.4 L770.0,87.4 L771.5,87.4 L773.0,87.4 L774.5,87.4 L776.0,87.3 L777.5,87.3 L779.0,87.3 L780.5,87.3 L782.0,87.3 L783.5,87.3 L785.0,87.3 L786.5,87.2 L788.0,87.2 L789.5,87.2 L791.0,87.2 L792.5,87.2 L794.0,87.1 L795.5,87.1 L797.0,87.1 L798.5,87.1 L800.0,87.0 L801.5,87.0 L803.0,87.0 L804.5,86.9 L806.0,86.9 L807.5,86.9 L809.0,86.9 L810.5,86.9 L812.0,86.8 L813.5,86.8 L815.0,86.8 L816.5,86.8 L818.0,86.8 L819.5,86.9 L821.0,86.9 L822.5,86.9 L824.0,87.0 L825.5,87.0 L827.0,87.1 L828.5,87.1 L830.0,87.2 L831.5,87.3 L833.0,87.3 L834.5,87.4 L836.0,87.5 L837.5,87.6 L839.0,87.6 L840.5,87.7 L842.0,87.8 L843.5,87.9 L845.0,88.0 L846.5,88.1 L848.0,88.2 L849.5,88.3 L851.0,88.4 L852.5,88.5 L854.0,88.6 L855.5,88.7 L857.0,88.8 L858.5,89.0 L860.0,89.1 L861.5,89.2 L863.0,89.3 L864.5,89.4 L866.0,89.5 L867.5,89.6 L869.0,89.7 L870.5,89.8 L872.0,89.9 L873.5,90.0 L875.0,90.1 L876.5,90.2 L878.0,90.3 L879.5,90.4 L881.0,90.5 L882.5,90.6 L884.0,90.7 L885.5,90.8 L887.0,90.9 L888.5,90.9 L890.0,91.0 L891.5,91.1 L893.0,91.1 L894.5,91.2 L896.0,91.2 L897.5,91.3 L899.0,91.3 L900.5,91.4 L902.0,91.4 L903.5,91.4 L905.0,91.5 L906.5,91.5 L908.0,91.5 L909.5,91.5 L911.0,91.6 L912.5,91.6 L914.0,91.6 L915.5,91.6 L917.0,91.7 L918.5,91.7 L920.0,91.7 L921.5,91.7 L923.0,91.7 L924.5,91.7 L926.0,91.8 L927.5,91.8 L929.0,91.8 L930.5,91.8 L932.0,91.8 L933.5,91.8 L935.0,91.8 L936.5,91.8 L938.0,91.9 L939.5,91.9 L941.0,91.9 L942.5,91.9 L944.0,91.9 L945.5,91.9 L947.0,91.9 L948.5,91.9 L950.0,91.9 L951.5,91.9 L953.0,91.9 L954.5,91.9 L956.0,91.9 L957.5,91.9 L959.0,91.9 L960.5,91.9 L962.0,91.9 L963.5,91.9 L965.0,91.9 L966.5,91.9 L968.0,91.9 L969.5,91.9 L971.0,91.9 L972.5,91.9 L974.0,91.9 L975.5,91.9 L977.0,91.9 L978.5,91.9 L980.0,91.9 L981.5,91.9 L983.0,91.9 L984.5,91.9 L986.0,91.9 L987.5,91.9 L989.0,91.9 L990.5,91.9 L992.0,91.9 L993.5,91.9 L995.0,91.9 L996.5,91.9 L998.0,91.9 L999.5,91.9 L1001.0,91.9 L1002.5,91.9 L1004.0,91.9 L1005.5,91.9 L1007.0,91.9 L1008.5,91.9 L1010.0,91.9 L1011.5,91.9 L1013.0,91.9 L1014.5,91.9 L1016.0,91.9 L1017.5,91.9 L1019.0,91.9 L1020.5,91.9 L1022.0,91.9 L1023.5,91.9 L1025.0,91.9 L1026.5,91.9 L1028.0,91.9 L1029.5,91.9 L1031.0,91.9 L1032.5,91.9 L1034.0,91.9 L1035.5,91.9 L1037.0,91.9 L1038.5,91.9 L1040.0,91.9 L1041.5,91.9 L1043.0,91.9 L1044.5,91.9 L1046.0,91.9 L1047.5,91.9 L1049.0,91.9 L1050.5,91.9 L1052.0,91.9 L1053.5,91.9 L1055.0,91.9 L1056.5,91.9 L1058.0,91.9 L1059.5,91.9 L1061.0,91.9 L1062.5,91.9 L1064.0,91.9 L1065.5,91.9 L1067.0,91.9 L1068.5,91.9 L1070.0,91.9 L1071.5,91.9 L1073.0,91.9 L1074.5,91.9 L1076.0,91.9 L1077.5,91.9 L1079.0,91.9 L1080.5,91.9 L1082.0,91.9 L1083.5,91.9 L1085.0,91.9 L1086.5,91.9 L1088.0,91.9 L1089.5,91.9 L1091.0,91.9 L1092.5,91.9 L1093.5,91.9" fill="none" stroke="#000" stroke-width="3.0" stroke-linejoin="round" stroke-linecap="round"/>
<path d="M221.0,140.65 L221.0,140.5 L222.5,140.5 L224.0,140.5 L225.5,140.5 L227.0,140.5 L228.5,140.5 L230.0,140.5 L231.5,140.5 L233.0,140.5 L234.5,140.5 L236.0,140.5 L237.5,140.5 L239.0,140.5 L240.5,140.5 L242.0,140.5 L243.5,140.5 L245.0,140.5 L246.5,140.5 L248.0,140.5 L249.5,140.5 L251.0,140.5 L252.5,140.4 L254.0,140.4 L255.5,140.4 L257.0,140.4 L258.5,140.4 L260.0,140.4 L261.5,140.4 L263.0,140.4 L264.5,140.4 L266.0,140.4 L267.5,140.4 L269.0,140.4 L270.5,140.4 L272.0,140.4 L273.5,140.3 L275.0,140.3 L276.5,140.3 L278.0,140.3 L279.5,140.3 L281.0,140.3 L282.5,140.3 L284.0,140.3 L285.5,140.3 L287.0,140.3 L288.5,140.2 L290.0,140.2 L291.5,140.2 L293.0,140.2 L294.5,140.2 L296.0,140.2 L297.5,140.2 L299.0,140.1 L300.5,140.1 L302.0,140.1 L303.5,140.1 L305.0,140.1 L306.5,140.0 L308.0,140.0 L309.5,140.0 L311.0,139.9 L312.5,139.9 L314.0,139.8 L315.5,139.7 L317.0,139.7 L318.5,139.6 L320.0,139.5 L321.5,139.4 L323.0,139.3 L324.5,139.3 L326.0,139.2 L327.5,139.1 L329.0,139.0 L330.5,138.9 L332.0,138.7 L333.5,138.6 L335.0,138.5 L336.5,138.4 L338.0,138.2 L339.5,138.1 L341.0,137.9 L342.5,137.7 L344.0,137.5 L345.5,137.3 L347.0,137.1 L348.5,136.9 L350.0,136.6 L351.5,136.3 L353.0,136.0 L354.5,135.7 L356.0,135.3 L357.5,135.0 L359.0,134.6 L360.5,134.1 L362.0,133.7 L363.5,133.3 L365.0,132.8 L366.5,132.3 L368.0,131.8 L369.5,131.2 L371.0,130.7 L372.5,130.1 L374.0,129.4 L375.5,128.8 L377.0,128.2 L378.5,127.5 L380.0,126.9 L381.5,126.2 L383.0,125.6 L384.5,124.9 L386.0,124.3 L387.5,123.6 L389.0,122.9 L390.5,122.2 L392.0,121.6 L393.5,120.9 L395.0,120.2 L396.5,119.6 L398.0,118.9 L399.5,118.3 L401.0,117.6 L402.5,117.0 L404.0,116.4 L405.5,115.7 L407.0,115.1 L408.5,114.5 L410.0,114.0 L411.5,113.4 L413.0,112.8 L414.5,112.3 L416.0,111.7 L417.5,111.2 L419.0,110.7 L420.5,110.2 L422.0,109.7 L423.5,109.2 L425.0,108.7 L426.5,108.2 L428.0,107.8 L429.5,107.4 L431.0,107.1 L432.5,106.8 L434.0,106.5 L435.5,106.2 L437.0,106.0 L438.5,105.8 L440.0,105.6 L441.5,105.5 L443.0,105.3 L444.5,105.2 L446.0,105.1 L447.5,105.0 L449.0,105.0 L450.5,104.9 L452.0,104.9 L453.5,104.9 L455.0,104.9 L456.5,104.9 L458.0,104.9 L459.5,104.9 L461.0,104.9 L462.5,104.9 L464.0,105.0 L465.5,105.0 L467.0,105.1 L468.5,105.1 L470.0,105.1 L471.5,105.2 L473.0,105.2 L474.5,105.3 L476.0,105.4 L477.5,105.4 L479.0,105.5 L480.5,105.6 L482.0,105.6 L483.5,105.7 L485.0,105.7 L486.5,105.8 L488.0,105.8 L489.5,105.8 L491.0,105.9 L492.5,105.9 L494.0,105.9 L495.5,105.9 L497.0,106.0 L498.5,106.0 L500.0,106.0 L501.5,106.1 L503.0,106.1 L504.5,106.2 L506.0,106.2 L507.5,106.3 L509.0,106.3 L510.5,106.4 L512.0,106.5 L513.5,106.6 L515.0,106.7 L516.5,106.8 L518.0,106.9 L519.5,107.1 L521.0,107.2 L522.5,107.3 L524.0,107.4 L525.5,107.5 L527.0,107.7 L528.5,107.8 L530.0,107.9 L531.5,108.1 L533.0,108.3 L534.5,108.4 L536.0,108.6 L537.5,108.8 L539.0,109.0 L540.5,109.2 L542.0,109.5 L543.5,109.7 L545.0,110.0 L546.5,110.3 L548.0,110.6 L549.5,110.9 L551.0,111.3 L552.5,111.6 L554.0,111.9 L555.5,112.2 L557.0,112.6 L558.5,112.9 L560.0,113.2 L561.5,113.6 L563.0,113.9 L564.5,114.2 L566.0,114.5 L567.5,114.9 L569.0,115.2 L570.5,115.5 L572.0,115.8 L573.5,116.2 L575.0,116.5 L576.5,116.8 L578.0,117.1 L579.5,117.4 L581.0,117.7 L582.5,118.0 L584.0,118.3 L585.5,118.6 L587.0,118.9 L588.5,119.2 L590.0,119.5 L591.5,119.8 L593.0,120.0 L594.5,120.3 L596.0,120.5 L597.5,120.8 L599.0,121.0 L600.5,121.2 L602.0,121.3 L603.5,121.5 L605.0,121.7 L606.5,121.8 L608.0,121.9 L609.5,122.0 L611.0,122.1 L612.5,122.2 L614.0,122.3 L615.5,122.3 L617.0,122.3 L618.5,122.3 L620.0,122.3 L621.5,122.3 L623.0,122.3 L624.5,122.3 L626.0,122.3 L627.5,122.3 L629.0,122.2 L630.5,122.2 L632.0,122.2 L633.5,122.1 L635.0,122.1 L636.5,122.0 L638.0,122.0 L639.5,121.9 L641.0,121.9 L642.5,121.8 L644.0,121.8 L645.5,121.8 L647.0,121.7 L648.5,121.7 L650.0,121.7 L651.5,121.7 L653.0,121.7 L654.5,121.8 L656.0,121.8 L657.5,121.9 L659.0,122.0 L660.5,122.2 L662.0,122.3 L663.5,122.4 L665.0,122.6 L666.5,122.8 L668.0,123.0 L669.5,123.2 L671.0,123.4 L672.5,123.6 L674.0,123.8 L675.5,124.0 L677.0,124.3 L678.5,124.5 L680.0,124.8 L681.5,125.0 L683.0,125.3 L684.5,125.5 L686.0,125.7 L687.5,126.0 L689.0,126.2 L690.5,126.4 L692.0,126.6 L693.5,126.9 L695.0,127.1 L696.5,127.3 L698.0,127.5 L699.5,127.7 L701.0,127.9 L702.5,128.1 L704.0,128.3 L705.5,128.5 L707.0,128.7 L708.5,128.9 L710.0,129.0 L711.5,129.2 L713.0,129.4 L714.5,129.6 L716.0,129.8 L717.5,129.9 L719.0,130.1 L720.5,130.3 L722.0,130.4 L723.5,130.6 L725.0,130.7 L726.5,130.9 L728.0,131.0 L729.5,131.1 L731.0,131.2 L732.5,131.4 L734.0,131.5 L735.5,131.6 L737.0,131.7 L738.5,131.8 L740.0,131.9 L741.5,132.0 L743.0,132.0 L744.5,132.1 L746.0,132.2 L747.5,132.3 L749.0,132.3 L750.5,132.4 L752.0,132.5 L753.5,132.5 L755.0,132.5 L756.5,132.6 L758.0,132.6 L759.5,132.7 L761.0,132.7 L762.5,132.7 L764.0,132.7 L765.5,132.8 L767.0,132.8 L768.5,132.8 L770.0,132.7 L771.5,132.7 L773.0,132.7 L774.5,132.7 L776.0,132.6 L777.5,132.6 L779.0,132.5 L780.5,132.5 L782.0,132.4 L783.5,132.4 L785.0,132.3 L786.5,132.2 L788.0,132.2 L789.5,132.1 L791.0,132.0 L792.5,131.9 L794.0,131.9 L795.5,131.8 L797.0,131.7 L798.5,131.6 L800.0,131.6 L801.5,131.5 L803.0,131.4 L804.5,131.3 L806.0,131.2 L807.5,131.2 L809.0,131.1 L810.5,131.0 L812.0,131.0 L813.5,130.9 L815.0,130.8 L816.5,130.8 L818.0,130.7 L819.5,130.7 L821.0,130.6 L822.5,130.6 L824.0,130.6 L825.5,130.6 L827.0,130.6 L828.5,130.6 L830.0,130.6 L831.5,130.6 L833.0,130.7 L834.5,130.7 L836.0,130.8 L837.5,130.8 L839.0,130.9 L840.5,131.0 L842.0,131.1 L843.5,131.1 L845.0,131.3 L846.5,131.4 L848.0,131.5 L849.5,131.6 L851.0,131.8 L852.5,131.9 L854.0,132.1 L855.5,132.2 L857.0,132.4 L858.5,132.6 L860.0,132.7 L861.5,132.9 L863.0,133.1 L864.5,133.3 L866.0,133.5 L867.5,133.7 L869.0,133.9 L870.5,134.1 L872.0,134.3 L873.5,134.5 L875.0,134.7 L876.5,134.9 L878.0,135.1 L879.5,135.3 L881.0,135.5 L882.5,135.7 L884.0,135.9 L885.5,136.2 L887.0,136.4 L888.5,136.5 L890.0,136.7 L891.5,136.9 L893.0,137.1 L894.5,137.3 L896.0,137.4 L897.5,137.6 L899.0,137.7 L900.5,137.9 L902.0,138.0 L903.5,138.1 L905.0,138.2 L906.5,138.4 L908.0,138.5 L909.5,138.6 L911.0,138.7 L912.5,138.8 L914.0,138.9 L915.5,139.0 L917.0,139.2 L918.5,139.3 L920.0,139.3 L921.5,139.4 L923.0,139.5 L924.5,139.6 L926.0,139.7 L927.5,139.7 L929.0,139.8 L930.5,139.9 L932.0,139.9 L933.5,139.9 L935.0,140.0 L936.5,140.0 L938.0,140.0 L939.5,140.1 L941.0,140.1 L942.5,140.1 L944.0,140.1 L945.5,140.2 L947.0,140.2 L948.5,140.2 L950.0,140.2 L951.5,140.2 L953.0,140.3 L954.5,140.3 L956.0,140.3 L957.5,140.3 L959.0,140.3 L960.5,140.3 L962.0,140.3 L963.5,140.3 L965.0,140.3 L966.5,140.3 L968.0,140.3 L969.5,140.3 L971.0,140.3 L972.5,140.3 L974.0,140.3 L975.5,140.3 L977.0,140.3 L978.5,140.3 L980.0,140.3 L981.5,140.3 L983.0,140.3 L984.5,140.3 L986.0,140.3 L987.5,140.3 L989.0,140.3 L990.5,140.3 L992.0,140.3 L993.5,140.3 L995.0,140.4 L996.5,140.4 L998.0,140.4 L999.5,140.4 L1001.0,140.4 L1002.5,140.4 L1004.0,140.4 L1005.5,140.4 L1007.0,140.4 L1008.5,140.4 L1010.0,140.4 L1011.5,140.4 L1013.0,140.4 L1014.5,140.4 L1016.0,140.4 L1017.5,140.4 L1019.0,140.4 L1020.5,140.4 L1022.0,140.4 L1023.5,140.4 L1025.0,140.4 L1026.5,140.4 L1028.0,140.4 L1029.5,140.4 L1031.0,140.4 L1032.5,140.4 L1034.0,140.4 L1035.5,140.4 L1037.0,140.4 L1038.5,140.4 L1040.0,140.4 L1041.5,140.4 L1043.0,140.4 L1044.5,140.4 L1046.0,140.4 L1047.5,140.4 L1049.0,140.4 L1050.5,140.4 L1052.0,140.4 L1053.5,140.4 L1055.0,140.4 L1056.5,140.4 L1058.0,140.4 L1059.5,140.4 L1061.0,140.4 L1062.5,140.4 L1064.0,140.4 L1065.5,140.4 L1067.0,140.4 L1068.5,140.4 L1070.0,140.4 L1071.5,140.4 L1073.0,140.4 L1074.5,140.4 L1076.0,140.4 L1077.5,140.4 L1079.0,140.4 L1080.5,140.4 L1082.0,140.4 L1083.5,140.4 L1085.0,140.4 L1086.5,140.4 L1088.0,140.4 L1089.5,140.4 L1091.0,140.4 L1092.5,140.4 L1093.5,140.4 L1093.5,140.65 Z" fill="#332c72" stroke="none"/>
<path d="M221.0,140.5 L222.5,140.5 L224.0,140.5 L225.5,140.5 L227.0,140.5 L228.5,140.5 L230.0,140.5 L231.5,140.5 L233.0,140.5 L234.5,140.5 L236.0,140.5 L237.5,140.5 L239.0,140.5 L240.5,140.5 L242.0,140.5 L243.5,140.5 L245.0,140.5 L246.5,140.5 L248.0,140.5 L249.5,140.5 L251.0,140.5 L252.5,140.4 L254.0,140.4 L255.5,140.4 L257.0,140.4 L258.5,140.4 L260.0,140.4 L261.5,140.4 L263.0,140.4 L264.5,140.4 L266.0,140.4 L267.5,140.4 L269.0,140.4 L270.5,140.4 L272.0,140.4 L273.5,140.3 L275.0,140.3 L276.5,140.3 L278.0,140.3 L279.5,140.3 L281.0,140.3 L282.5,140.3 L284.0,140.3 L285.5,140.3 L287.0,140.3 L288.5,140.2 L290.0,140.2 L291.5,140.2 L293.0,140.2 L294.5,140.2 L296.0,140.2 L297.5,140.2 L299.0,140.1 L300.5,140.1 L302.0,140.1 L303.5,140.1 L305.0,140.1 L306.5,140.0 L308.0,140.0 L309.5,140.0 L311.0,139.9 L312.5,139.9 L314.0,139.8 L315.5,139.7 L317.0,139.7 L318.5,139.6 L320.0,139.5 L321.5,139.4 L323.0,139.3 L324.5,139.3 L326.0,139.2 L327.5,139.1 L329.0,139.0 L330.5,138.9 L332.0,138.7 L333.5,138.6 L335.0,138.5 L336.5,138.4 L338.0,138.2 L339.5,138.1 L341.0,137.9 L342.5,137.7 L344.0,137.5 L345.5,137.3 L347.0,137.1 L348.5,136.9 L350.0,136.6 L351.5,136.3 L353.0,136.0 L354.5,135.7 L356.0,135.3 L357.5,135.0 L359.0,134.6 L360.5,134.1 L362.0,133.7 L363.5,133.3 L365.0,132.8 L366.5,132.3 L368.0,131.8 L369.5,131.2 L371.0,130.7 L372.5,130.1 L374.0,129.4 L375.5,128.8 L377.0,128.2 L378.5,127.5 L380.0,126.9 L381.5,126.2 L383.0,125.6 L384.5,124.9 L386.0,124.3 L387.5,123.6 L389.0,122.9 L390.5,122.2 L392.0,121.6 L393.5,120.9 L395.0,120.2 L396.5,119.6 L398.0,118.9 L399.5,118.3 L401.0,117.6 L402.5,117.0 L404.0,116.4 L405.5,115.7 L407.0,115.1 L408.5,114.5 L410.0,114.0 L411.5,113.4 L413.0,112.8 L414.5,112.3 L416.0,111.7 L417.5,111.2 L419.0,110.7 L420.5,110.2 L422.0,109.7 L423.5,109.2 L425.0,108.7 L426.5,108.2 L428.0,107.8 L429.5,107.4 L431.0,107.1 L432.5,106.8 L434.0,106.5 L435.5,106.2 L437.0,106.0 L438.5,105.8 L440.0,105.6 L441.5,105.5 L443.0,105.3 L444.5,105.2 L446.0,105.1 L447.5,105.0 L449.0,105.0 L450.5,104.9 L452.0,104.9 L453.5,104.9 L455.0,104.9 L456.5,104.9 L458.0,104.9 L459.5,104.9 L461.0,104.9 L462.5,104.9 L464.0,105.0 L465.5,105.0 L467.0,105.1 L468.5,105.1 L470.0,105.1 L471.5,105.2 L473.0,105.2 L474.5,105.3 L476.0,105.4 L477.5,105.4 L479.0,105.5 L480.5,105.6 L482.0,105.6 L483.5,105.7 L485.0,105.7 L486.5,105.8 L488.0,105.8 L489.5,105.8 L491.0,105.9 L492.5,105.9 L494.0,105.9 L495.5,105.9 L497.0,106.0 L498.5,106.0 L500.0,106.0 L501.5,106.1 L503.0,106.1 L504.5,106.2 L506.0,106.2 L507.5,106.3 L509.0,106.3 L510.5,106.4 L512.0,106.5 L513.5,106.6 L515.0,106.7 L516.5,106.8 L518.0,106.9 L519.5,107.1 L521.0,107.2 L522.5,107.3 L524.0,107.4 L525.5,107.5 L527.0,107.7 L528.5,107.8 L530.0,107.9 L531.5,108.1 L533.0,108.3 L534.5,108.4 L536.0,108.6 L537.5,108.8 L539.0,109.0 L540.5,109.2 L542.0,109.5 L543.5,109.7 L545.0,110.0 L546.5,110.3 L548.0,110.6 L549.5,110.9 L551.0,111.3 L552.5,111.6 L554.0,111.9 L555.5,112.2 L557.0,112.6 L558.5,112.9 L560.0,113.2 L561.5,113.6 L563.0,113.9 L564.5,114.2 L566.0,114.5 L567.5,114.9 L569.0,115.2 L570.5,115.5 L572.0,115.8 L573.5,116.2 L575.0,116.5 L576.5,116.8 L578.0,117.1 L579.5,117.4 L581.0,117.7 L582.5,118.0 L584.0,118.3 L585.5,118.6 L587.0,118.9 L588.5,119.2 L590.0,119.5 L591.5,119.8 L593.0,120.0 L594.5,120.3 L596.0,120.5 L597.5,120.8 L599.0,121.0 L600.5,121.2 L602.0,121.3 L603.5,121.5 L605.0,121.7 L606.5,121.8 L608.0,121.9 L609.5,122.0 L611.0,122.1 L612.5,122.2 L614.0,122.3 L615.5,122.3 L617.0,122.3 L618.5,122.3 L620.0,122.3 L621.5,122.3 L623.0,122.3 L624.5,122.3 L626.0,122.3 L627.5,122.3 L629.0,122.2 L630.5,122.2 L632.0,122.2 L633.5,122.1 L635.0,122.1 L636.5,122.0 L638.0,122.0 L639.5,121.9 L641.0,121.9 L642.5,121.8 L644.0,121.8 L645.5,121.8 L647.0,121.7 L648.5,121.7 L650.0,121.7 L651.5,121.7 L653.0,121.7 L654.5,121.8 L656.0,121.8 L657.5,121.9 L659.0,122.0 L660.5,122.2 L662.0,122.3 L663.5,122.4 L665.0,122.6 L666.5,122.8 L668.0,123.0 L669.5,123.2 L671.0,123.4 L672.5,123.6 L674.0,123.8 L675.5,124.0 L677.0,124.3 L678.5,124.5 L680.0,124.8 L681.5,125.0 L683.0,125.3 L684.5,125.5 L686.0,125.7 L687.5,126.0 L689.0,126.2 L690.5,126.4 L692.0,126.6 L693.5,126.9 L695.0,127.1 L696.5,127.3 L698.0,127.5 L699.5,127.7 L701.0,127.9 L702.5,128.1 L704.0,128.3 L705.5,128.5 L707.0,128.7 L708.5,128.9 L710.0,129.0 L711.5,129.2 L713.0,129.4 L714.5,129.6 L716.0,129.8 L717.5,129.9 L719.0,130.1 L720.5,130.3 L722.0,130.4 L723.5,130.6 L725.0,130.7 L726.5,130.9 L728.0,131.0 L729.5,131.1 L731.0,131.2 L732.5,131.4 L734.0,131.5 L735.5,131.6 L737.0,131.7 L738.5,131.8 L740.0,131.9 L741.5,132.0 L743.0,132.0 L744.5,132.1 L746.0,132.2 L747.5,132.3 L749.0,132.3 L750.5,132.4 L752.0,132.5 L753.5,132.5 L755.0,132.5 L756.5,132.6 L758.0,132.6 L759.5,132.7 L761.0,132.7 L762.5,132.7 L764.0,132.7 L765.5,132.8 L767.0,132.8 L768.5,132.8 L770.0,132.7 L771.5,132.7 L773.0,132.7 L774.5,132.7 L776.0,132.6 L777.5,132.6 L779.0,132.5 L780.5,132.5 L782.0,132.4 L783.5,132.4 L785.0,132.3 L786.5,132.2 L788.0,132.2 L789.5,132.1 L791.0,132.0 L792.5,131.9 L794.0,131.9 L795.5,131.8 L797.0,131.7 L798.5,131.6 L800.0,131.6 L801.5,131.5 L803.0,131.4 L804.5,131.3 L806.0,131.2 L807.5,131.2 L809.0,131.1 L810.5,131.0 L812.0,131.0 L813.5,130.9 L815.0,130.8 L816.5,130.8 L818.0,130.7 L819.5,130.7 L821.0,130.6 L822.5,130.6 L824.0,130.6 L825.5,130.6 L827.0,130.6 L828.5,130.6 L830.0,130.6 L831.5,130.6 L833.0,130.7 L834.5,130.7 L836.0,130.8 L837.5,130.8 L839.0,130.9 L840.5,131.0 L842.0,131.1 L843.5,131.1 L845.0,131.3 L846.5,131.4 L848.0,131.5 L849.5,131.6 L851.0,131.8 L852.5,131.9 L854.0,132.1 L855.5,132.2 L857.0,132.4 L858.5,132.6 L860.0,132.7 L861.5,132.9 L863.0,133.1 L864.5,133.3 L866.0,133.5 L867.5,133.7 L869.0,133.9 L870.5,134.1 L872.0,134.3 L873.5,134.5 L875.0,134.7 L876.5,134.9 L878.0,135.1 L879.5,135.3 L881.0,135.5 L882.5,135.7 L884.0,135.9 L885.5,136.2 L887.0,136.4 L888.5,136.5 L890.0,136.7 L891.5,136.9 L893.0,137.1 L894.5,137.3 L896.0,137.4 L897.5,137.6 L899.0,137.7 L900.5,137.9 L902.0,138.0 L903.5,138.1 L905.0,138.2 L906.5,138.4 L908.0,138.5 L909.5,138.6 L911.0,138.7 L912.5,138.8 L914.0,138.9 L915.5,139.0 L917.0,139.2 L918.5,139.3 L920.0,139.3 L921.5,139.4 L923.0,139.5 L924.5,139.6 L926.0,139.7 L927.5,139.7 L929.0,139.8 L930.5,139.9 L932.0,139.9 L933.5,139.9 L935.0,140.0 L936.5,140.0 L938.0,140.0 L939.5,140.1 L941.0,140.1 L942.5,140.1 L944.0,140.1 L945.5,140.2 L947.0,140.2 L948.5,140.2 L950.0,140.2 L951.5,140.2 L953.0,140.3 L954.5,140.3 L956.0,140.3 L957.5,140.3 L959.0,140.3 L960.5,140.3 L962.0,140.3 L963.5,140.3 L965.0,140.3 L966.5,140.3 L968.0,140.3 L969.5,140.3 L971.0,140.3 L972.5,140.3 L974.0,140.3 L975.5,140.3 L977.0,140.3 L978.5,140.3 L980.0,140.3 L981.5,140.3 L983.0,140.3 L984.5,140.3 L986.0,140.3 L987.5,140.3 L989.0,140.3 L990.5,140.3 L992.0,140.3 L993.5,140.3 L995.0,140.4 L996.5,140.4 L998.0,140.4 L999.5,140.4 L1001.0,140.4 L1002.5,140.4 L1004.0,140.4 L1005.5,140.4 L1007.0,140.4 L1008.5,140.4 L1010.0,140.4 L1011.5,140.4 L1013.0,140.4 L1014.5,140.4 L1016.0,140.4 L1017.5,140.4 L1019.0,140.4 L1020.5,140.4 L1022.0,140.4 L1023.5,140.4 L1025.0,140.4 L1026.5,140.4 L1028.0,140.4 L1029.5,140.4 L1031.0,140.4 L1032.5,140.4 L1034.0,140.4 L1035.5,140.4 L1037.0,140.4 L1038.5,140.4 L1040.0,140.4 L1041.5,140.4 L1043.0,140.4 L1044.5,140.4 L1046.0,140.4 L1047.5,140.4 L1049.0,140.4 L1050.5,140.4 L1052.0,140.4 L1053.5,140.4 L1055.0,140.4 L1056.5,140.4 L1058.0,140.4 L1059.5,140.4 L1061.0,140.4 L1062.5,140.4 L1064.0,140.4 L1065.5,140.4 L1067.0,140.4 L1068.5,140.4 L1070.0,140.4 L1071.5,140.4 L1073.0,140.4 L1074.5,140.4 L1076.0,140.4 L1077.5,140.4 L1079.0,140.4 L1080.5,140.4 L1082.0,140.4 L1083.5,140.4 L1085.0,140.4 L1086.5,140.4 L1088.0,140.4 L1089.5,140.4 L1091.0,140.4 L1092.5,140.4 L1093.5,140.4" fill="none" stroke="#000" stroke-width="3.0" stroke-linejoin="round" stroke-linecap="round"/>
<path d="M221.0,189.23 L221.0,189.1 L222.5,189.1 L224.0,189.1 L225.5,189.1 L227.0,189.1 L228.5,189.1 L230.0,189.1 L231.5,189.1 L233.0,189.1 L234.5,189.1 L236.0,189.1 L237.5,189.1 L239.0,189.1 L240.5,189.1 L242.0,189.1 L243.5,189.0 L245.0,189.0 L246.5,189.0 L248.0,189.0 L249.5,189.0 L251.0,189.0 L252.5,189.0 L254.0,189.0 L255.5,189.0 L257.0,189.0 L258.5,189.0 L260.0,189.0 L261.5,189.0 L263.0,188.9 L264.5,188.9 L266.0,188.9 L267.5,188.9 L269.0,188.9 L270.5,188.9 L272.0,188.9 L273.5,188.9 L275.0,188.8 L276.5,188.8 L278.0,188.8 L279.5,188.8 L281.0,188.7 L282.5,188.7 L284.0,188.7 L285.5,188.7 L287.0,188.6 L288.5,188.6 L290.0,188.5 L291.5,188.5 L293.0,188.5 L294.5,188.4 L296.0,188.4 L297.5,188.3 L299.0,188.2 L300.5,188.2 L302.0,188.1 L303.5,188.0 L305.0,187.9 L306.5,187.8 L308.0,187.7 L309.5,187.6 L311.0,187.4 L312.5,187.3 L314.0,187.2 L315.5,187.0 L317.0,186.9 L318.5,186.8 L320.0,186.6 L321.5,186.5 L323.0,186.3 L324.5,186.2 L326.0,186.0 L327.5,185.9 L329.0,185.7 L330.5,185.5 L332.0,185.3 L333.5,185.1 L335.0,184.9 L336.5,184.7 L338.0,184.5 L339.5,184.3 L341.0,184.1 L342.5,183.9 L344.0,183.6 L345.5,183.4 L347.0,183.2 L348.5,182.9 L350.0,182.6 L351.5,182.4 L353.0,182.1 L354.5,181.8 L356.0,181.5 L357.5,181.2 L359.0,180.9 L360.5,180.6 L362.0,180.2 L363.5,179.9 L365.0,179.6 L366.5,179.2 L368.0,178.9 L369.5,178.5 L371.0,178.2 L372.5,177.8 L374.0,177.5 L375.5,177.1 L377.0,176.7 L378.5,176.4 L380.0,176.0 L381.5,175.6 L383.0,175.2 L384.5,174.8 L386.0,174.5 L387.5,174.1 L389.0,173.7 L390.5,173.3 L392.0,172.9 L393.5,172.5 L395.0,172.1 L396.5,171.7 L398.0,171.2 L399.5,170.8 L401.0,170.3 L402.5,169.8 L404.0,169.3 L405.5,168.8 L407.0,168.2 L408.5,167.7 L410.0,167.1 L411.5,166.5 L413.0,165.9 L414.5,165.3 L416.0,164.7 L417.5,164.1 L419.0,163.5 L420.5,162.9 L422.0,162.2 L423.5,161.6 L425.0,160.9 L426.5,160.2 L428.0,159.6 L429.5,158.9 L431.0,158.3 L432.5,157.7 L434.0,157.0 L435.5,156.4 L437.0,155.8 L438.5,155.2 L440.0,154.7 L441.5,154.1 L443.0,153.5 L444.5,153.0 L446.0,152.4 L447.5,151.9 L449.0,151.4 L450.5,150.8 L452.0,150.3 L453.5,149.8 L455.0,149.3 L456.5,148.8 L458.0,148.3 L459.5,147.8 L461.0,147.4 L462.5,146.9 L464.0,146.5 L465.5,146.1 L467.0,145.7 L468.5,145.4 L470.0,145.1 L471.5,144.8 L473.0,144.5 L474.5,144.3 L476.0,144.0 L477.5,143.8 L479.0,143.6 L480.5,143.4 L482.0,143.2 L483.5,143.1 L485.0,143.0 L486.5,142.9 L488.0,142.8 L489.5,142.8 L491.0,142.7 L492.5,142.7 L494.0,142.7 L495.5,142.7 L497.0,142.7 L498.5,142.7 L500.0,142.7 L501.5,142.8 L503.0,142.9 L504.5,143.0 L506.0,143.1 L507.5,143.2 L509.0,143.4 L510.5,143.5 L512.0,143.7 L513.5,143.9 L515.0,144.1 L516.5,144.3 L518.0,144.6 L519.5,144.8 L521.0,145.1 L522.5,145.5 L524.0,145.8 L525.5,146.1 L527.0,146.5 L528.5,146.8 L530.0,147.2 L531.5,147.6 L533.0,147.9 L534.5,148.3 L536.0,148.7 L537.5,149.1 L539.0,149.6 L540.5,150.0 L542.0,150.4 L543.5,150.8 L545.0,151.3 L546.5,151.7 L548.0,152.1 L549.5,152.5 L551.0,152.9 L552.5,153.3 L554.0,153.8 L555.5,154.2 L557.0,154.6 L558.5,155.0 L560.0,155.4 L561.5,155.8 L563.0,156.2 L564.5,156.5 L566.0,156.9 L567.5,157.3 L569.0,157.6 L570.5,158.0 L572.0,158.4 L573.5,158.7 L575.0,159.0 L576.5,159.4 L578.0,159.7 L579.5,160.1 L581.0,160.4 L582.5,160.7 L584.0,161.1 L585.5,161.4 L587.0,161.7 L588.5,162.1 L590.0,162.4 L591.5,162.8 L593.0,163.1 L594.5,163.4 L596.0,163.8 L597.5,164.1 L599.0,164.5 L600.5,164.9 L602.0,165.2 L603.5,165.6 L605.0,166.0 L606.5,166.4 L608.0,166.8 L609.5,167.2 L611.0,167.6 L612.5,168.0 L614.0,168.4 L615.5,168.8 L617.0,169.2 L618.5,169.6 L620.0,170.0 L621.5,170.5 L623.0,170.9 L624.5,171.3 L626.0,171.7 L627.5,172.2 L629.0,172.6 L630.5,173.0 L632.0,173.4 L633.5,173.9 L635.0,174.3 L636.5,174.7 L638.0,175.1 L639.5,175.5 L641.0,176.0 L642.5,176.4 L644.0,176.8 L645.5,177.2 L647.0,177.6 L648.5,178.0 L650.0,178.4 L651.5,178.8 L653.0,179.1 L654.5,179.5 L656.0,179.9 L657.5,180.3 L659.0,180.6 L660.5,181.0 L662.0,181.3 L663.5,181.6 L665.0,181.9 L666.5,182.2 L668.0,182.5 L669.5,182.7 L671.0,183.0 L672.5,183.2 L674.0,183.4 L675.5,183.5 L677.0,183.7 L678.5,183.8 L680.0,183.9 L681.5,184.0 L683.0,184.1 L684.5,184.1 L686.0,184.2 L687.5,184.2 L689.0,184.2 L690.5,184.2 L692.0,184.2 L693.5,184.2 L695.0,184.1 L696.5,184.1 L698.0,184.1 L699.5,184.1 L701.0,184.0 L702.5,184.0 L704.0,183.9 L705.5,183.9 L707.0,183.8 L708.5,183.7 L710.0,183.7 L711.5,183.6 L713.0,183.5 L714.5,183.4 L716.0,183.3 L717.5,183.2 L719.0,183.2 L720.5,183.1 L722.0,183.0 L723.5,183.0 L725.0,182.9 L726.5,182.8 L728.0,182.8 L729.5,182.7 L731.0,182.6 L732.5,182.6 L734.0,182.5 L735.5,182.5 L737.0,182.5 L738.5,182.5 L740.0,182.4 L741.5,182.4 L743.0,182.4 L744.5,182.4 L746.0,182.4 L747.5,182.4 L749.0,182.5 L750.5,182.5 L752.0,182.5 L753.5,182.5 L755.0,182.5 L756.5,182.6 L758.0,182.6 L759.5,182.6 L761.0,182.6 L762.5,182.7 L764.0,182.7 L765.5,182.7 L767.0,182.8 L768.5,182.8 L770.0,182.8 L771.5,182.9 L773.0,182.9 L774.5,183.0 L776.0,183.1 L777.5,183.1 L779.0,183.2 L780.5,183.3 L782.0,183.3 L783.5,183.4 L785.0,183.5 L786.5,183.5 L788.0,183.6 L789.5,183.7 L791.0,183.7 L792.5,183.8 L794.0,183.9 L795.5,184.0 L797.0,184.0 L798.5,184.1 L800.0,184.2 L801.5,184.3 L803.0,184.3 L804.5,184.4 L806.0,184.5 L807.5,184.6 L809.0,184.6 L810.5,184.7 L812.0,184.8 L813.5,184.8 L815.0,184.9 L816.5,184.9 L818.0,185.0 L819.5,185.1 L821.0,185.1 L822.5,185.2 L824.0,185.2 L825.5,185.2 L827.0,185.3 L828.5,185.3 L830.0,185.4 L831.5,185.4 L833.0,185.4 L834.5,185.5 L836.0,185.5 L837.5,185.5 L839.0,185.6 L840.5,185.6 L842.0,185.6 L843.5,185.7 L845.0,185.7 L846.5,185.7 L848.0,185.7 L849.5,185.7 L851.0,185.7 L852.5,185.8 L854.0,185.8 L855.5,185.8 L857.0,185.8 L858.5,185.8 L860.0,185.8 L861.5,185.8 L863.0,185.7 L864.5,185.7 L866.0,185.7 L867.5,185.7 L869.0,185.6 L870.5,185.6 L872.0,185.6 L873.5,185.6 L875.0,185.5 L876.5,185.5 L878.0,185.5 L879.5,185.5 L881.0,185.4 L882.5,185.4 L884.0,185.4 L885.5,185.4 L887.0,185.4 L888.5,185.3 L890.0,185.3 L891.5,185.3 L893.0,185.3 L894.5,185.3 L896.0,185.3 L897.5,185.4 L899.0,185.4 L900.5,185.4 L902.0,185.5 L903.5,185.5 L905.0,185.6 L906.5,185.7 L908.0,185.7 L909.5,185.8 L911.0,185.9 L912.5,185.9 L914.0,186.0 L915.5,186.1 L917.0,186.1 L918.5,186.2 L920.0,186.3 L921.5,186.3 L923.0,186.4 L924.5,186.4 L926.0,186.5 L927.5,186.6 L929.0,186.6 L930.5,186.7 L932.0,186.7 L933.5,186.8 L935.0,186.8 L936.5,186.9 L938.0,186.9 L939.5,187.0 L941.0,187.0 L942.5,187.1 L944.0,187.1 L945.5,187.2 L947.0,187.3 L948.5,187.3 L950.0,187.4 L951.5,187.4 L953.0,187.5 L954.5,187.5 L956.0,187.6 L957.5,187.6 L959.0,187.7 L960.5,187.7 L962.0,187.8 L963.5,187.8 L965.0,187.9 L966.5,187.9 L968.0,187.9 L969.5,188.0 L971.0,188.0 L972.5,188.1 L974.0,188.1 L975.5,188.2 L977.0,188.2 L978.5,188.2 L980.0,188.3 L981.5,188.3 L983.0,188.3 L984.5,188.3 L986.0,188.4 L987.5,188.4 L989.0,188.4 L990.5,188.4 L992.0,188.4 L993.5,188.5 L995.0,188.5 L996.5,188.5 L998.0,188.5 L999.5,188.5 L1001.0,188.5 L1002.5,188.5 L1004.0,188.6 L1005.5,188.6 L1007.0,188.6 L1008.5,188.6 L1010.0,188.6 L1011.5,188.6 L1013.0,188.6 L1014.5,188.7 L1016.0,188.7 L1017.5,188.7 L1019.0,188.7 L1020.5,188.7 L1022.0,188.7 L1023.5,188.7 L1025.0,188.7 L1026.5,188.8 L1028.0,188.8 L1029.5,188.8 L1031.0,188.8 L1032.5,188.8 L1034.0,188.8 L1035.5,188.8 L1037.0,188.8 L1038.5,188.8 L1040.0,188.9 L1041.5,188.9 L1043.0,188.9 L1044.5,188.9 L1046.0,188.9 L1047.5,188.9 L1049.0,188.9 L1050.5,188.9 L1052.0,188.9 L1053.5,188.9 L1055.0,188.9 L1056.5,188.9 L1058.0,188.9 L1059.5,188.9 L1061.0,188.9 L1062.5,188.9 L1064.0,188.9 L1065.5,189.0 L1067.0,189.0 L1068.5,189.0 L1070.0,189.0 L1071.5,189.0 L1073.0,189.0 L1074.5,189.0 L1076.0,189.0 L1077.5,189.0 L1079.0,189.0 L1080.5,189.0 L1082.0,189.0 L1083.5,189.0 L1085.0,189.0 L1086.5,189.0 L1088.0,189.0 L1089.5,189.0 L1091.0,189.0 L1092.5,189.0 L1093.5,189.0 L1093.5,189.23 Z" fill="#2b4479" stroke="none"/>
<path d="M221.0,189.1 L222.5,189.1 L224.0,189.1 L225.5,189.1 L227.0,189.1 L228.5,189.1 L230.0,189.1 L231.5,189.1 L233.0,189.1 L234.5,189.1 L236.0,189.1 L237.5,189.1 L239.0,189.1 L240.5,189.1 L242.0,189.1 L243.5,189.0 L245.0,189.0 L246.5,189.0 L248.0,189.0 L249.5,189.0 L251.0,189.0 L252.5,189.0 L254.0,189.0 L255.5,189.0 L257.0,189.0 L258.5,189.0 L260.0,189.0 L261.5,189.0 L263.0,188.9 L264.5,188.9 L266.0,188.9 L267.5,188.9 L269.0,188.9 L270.5,188.9 L272.0,188.9 L273.5,188.9 L275.0,188.8 L276.5,188.8 L278.0,188.8 L279.5,188.8 L281.0,188.7 L282.5,188.7 L284.0,188.7 L285.5,188.7 L287.0,188.6 L288.5,188.6 L290.0,188.5 L291.5,188.5 L293.0,188.5 L294.5,188.4 L296.0,188.4 L297.5,188.3 L299.0,188.2 L300.5,188.2 L302.0,188.1 L303.5,188.0 L305.0,187.9 L306.5,187.8 L308.0,187.7 L309.5,187.6 L311.0,187.4 L312.5,187.3 L314.0,187.2 L315.5,187.0 L317.0,186.9 L318.5,186.8 L320.0,186.6 L321.5,186.5 L323.0,186.3 L324.5,186.2 L326.0,186.0 L327.5,185.9 L329.0,185.7 L330.5,185.5 L332.0,185.3 L333.5,185.1 L335.0,184.9 L336.5,184.7 L338.0,184.5 L339.5,184.3 L341.0,184.1 L342.5,183.9 L344.0,183.6 L345.5,183.4 L347.0,183.2 L348.5,182.9 L350.0,182.6 L351.5,182.4 L353.0,182.1 L354.5,181.8 L356.0,181.5 L357.5,181.2 L359.0,180.9 L360.5,180.6 L362.0,180.2 L363.5,179.9 L365.0,179.6 L366.5,179.2 L368.0,178.9 L369.5,178.5 L371.0,178.2 L372.5,177.8 L374.0,177.5 L375.5,177.1 L377.0,176.7 L378.5,176.4 L380.0,176.0 L381.5,175.6 L383.0,175.2 L384.5,174.8 L386.0,174.5 L387.5,174.1 L389.0,173.7 L390.5,173.3 L392.0,172.9 L393.5,172.5 L395.0,172.1 L396.5,171.7 L398.0,171.2 L399.5,170.8 L401.0,170.3 L402.5,169.8 L404.0,169.3 L405.5,168.8 L407.0,168.2 L408.5,167.7 L410.0,167.1 L411.5,166.5 L413.0,165.9 L414.5,165.3 L416.0,164.7 L417.5,164.1 L419.0,163.5 L420.5,162.9 L422.0,162.2 L423.5,161.6 L425.0,160.9 L426.5,160.2 L428.0,159.6 L429.5,158.9 L431.0,158.3 L432.5,157.7 L434.0,157.0 L435.5,156.4 L437.0,155.8 L438.5,155.2 L440.0,154.7 L441.5,154.1 L443.0,153.5 L444.5,153.0 L446.0,152.4 L447.5,151.9 L449.0,151.4 L450.5,150.8 L452.0,150.3 L453.5,149.8 L455.0,149.3 L456.5,148.8 L458.0,148.3 L459.5,147.8 L461.0,147.4 L462.5,146.9 L464.0,146.5 L465.5,146.1 L467.0,145.7 L468.5,145.4 L470.0,145.1 L471.5,144.8 L473.0,144.5 L474.5,144.3 L476.0,144.0 L477.5,143.8 L479.0,143.6 L480.5,143.4 L482.0,143.2 L483.5,143.1 L485.0,143.0 L486.5,142.9 L488.0,142.8 L489.5,142.8 L491.0,142.7 L492.5,142.7 L494.0,142.7 L495.5,142.7 L497.0,142.7 L498.5,142.7 L500.0,142.7 L501.5,142.8 L503.0,142.9 L504.5,143.0 L506.0,143.1 L507.5,143.2 L509.0,143.4 L510.5,143.5 L512.0,143.7 L513.5,143.9 L515.0,144.1 L516.5,144.3 L518.0,144.6 L519.5,144.8 L521.0,145.1 L522.5,145.5 L524.0,145.8 L525.5,146.1 L527.0,146.5 L528.5,146.8 L530.0,147.2 L531.5,147.6 L533.0,147.9 L534.5,148.3 L536.0,148.7 L537.5,149.1 L539.0,149.6 L540.5,150.0 L542.0,150.4 L543.5,150.8 L545.0,151.3 L546.5,151.7 L548.0,152.1 L549.5,152.5 L551.0,152.9 L552.5,153.3 L554.0,153.8 L555.5,154.2 L557.0,154.6 L558.5,155.0 L560.0,155.4 L561.5,155.8 L563.0,156.2 L564.5,156.5 L566.0,156.9 L567.5,157.3 L569.0,157.6 L570.5,158.0 L572.0,158.4 L573.5,158.7 L575.0,159.0 L576.5,159.4 L578.0,159.7 L579.5,160.1 L581.0,160.4 L582.5,160.7 L584.0,161.1 L585.5,161.4 L587.0,161.7 L588.5,162.1 L590.0,162.4 L591.5,162.8 L593.0,163.1 L594.5,163.4 L596.0,163.8 L597.5,164.1 L599.0,164.5 L600.5,164.9 L602.0,165.2 L603.5,165.6 L605.0,166.0 L606.5,166.4 L608.0,166.8 L609.5,167.2 L611.0,167.6 L612.5,168.0 L614.0,168.4 L615.5,168.8 L617.0,169.2 L618.5,169.6 L620.0,170.0 L621.5,170.5 L623.0,170.9 L624.5,171.3 L626.0,171.7 L627.5,172.2 L629.0,172.6 L630.5,173.0 L632.0,173.4 L633.5,173.9 L635.0,174.3 L636.5,174.7 L638.0,175.1 L639.5,175.5 L641.0,176.0 L642.5,176.4 L644.0,176.8 L645.5,177.2 L647.0,177.6 L648.5,178.0 L650.0,178.4 L651.5,178.8 L653.0,179.1 L654.5,179.5 L656.0,179.9 L657.5,180.3 L659.0,180.6 L660.5,181.0 L662.0,181.3 L663.5,181.6 L665.0,181.9 L666.5,182.2 L668.0,182.5 L669.5,182.7 L671.0,183.0 L672.5,183.2 L674.0,183.4 L675.5,183.5 L677.0,183.7 L678.5,183.8 L680.0,183.9 L681.5,184.0 L683.0,184.1 L684.5,184.1 L686.0,184.2 L687.5,184.2 L689.0,184.2 L690.5,184.2 L692.0,184.2 L693.5,184.2 L695.0,184.1 L696.5,184.1 L698.0,184.1 L699.5,184.1 L701.0,184.0 L702.5,184.0 L704.0,183.9 L705.5,183.9 L707.0,183.8 L708.5,183.7 L710.0,183.7 L711.5,183.6 L713.0,183.5 L714.5,183.4 L716.0,183.3 L717.5,183.2 L719.0,183.2 L720.5,183.1 L722.0,183.0 L723.5,183.0 L725.0,182.9 L726.5,182.8 L728.0,182.8 L729.5,182.7 L731.0,182.6 L732.5,182.6 L734.0,182.5 L735.5,182.5 L737.0,182.5 L738.5,182.5 L740.0,182.4 L741.5,182.4 L743.0,182.4 L744.5,182.4 L746.0,182.4 L747.5,182.4 L749.0,182.5 L750.5,182.5 L752.0,182.5 L753.5,182.5 L755.0,182.5 L756.5,182.6 L758.0,182.6 L759.5,182.6 L761.0,182.6 L762.5,182.7 L764.0,182.7 L765.5,182.7 L767.0,182.8 L768.5,182.8 L770.0,182.8 L771.5,182.9 L773.0,182.9 L774.5,183.0 L776.0,183.1 L777.5,183.1 L779.0,183.2 L780.5,183.3 L782.0,183.3 L783.5,183.4 L785.0,183.5 L786.5,183.5 L788.0,183.6 L789.5,183.7 L791.0,183.7 L792.5,183.8 L794.0,183.9 L795.5,184.0 L797.0,184.0 L798.5,184.1 L800.0,184.2 L801.5,184.3 L803.0,184.3 L804.5,184.4 L806.0,184.5 L807.5,184.6 L809.0,184.6 L810.5,184.7 L812.0,184.8 L813.5,184.8 L815.0,184.9 L816.5,184.9 L818.0,185.0 L819.5,185.1 L821.0,185.1 L822.5,185.2 L824.0,185.2 L825.5,185.2 L827.0,185.3 L828.5,185.3 L830.0,185.4 L831.5,185.4 L833.0,185.4 L834.5,185.5 L836.0,185.5 L837.5,185.5 L839.0,185.6 L840.5,185.6 L842.0,185.6 L843.5,185.7 L845.0,185.7 L846.5,185.7 L848.0,185.7 L849.5,185.7 L851.0,185.7 L852.5,185.8 L854.0,185.8 L855.5,185.8 L857.0,185.8 L858.5,185.8 L860.0,185.8 L861.5,185.8 L863.0,185.7 L864.5,185.7 L866.0,185.7 L867.5,185.7 L869.0,185.6 L870.5,185.6 L872.0,185.6 L873.5,185.6 L875.0,185.5 L876.5,185.5 L878.0,185.5 L879.5,185.5 L881.0,185.4 L882.5,185.4 L884.0,185.4 L885.5,185.4 L887.0,185.4 L888.5,185.3 L890.0,185.3 L891.5,185.3 L893.0,185.3 L894.5,185.3 L896.0,185.3 L897.5,185.4 L899.0,185.4 L900.5,185.4 L902.0,185.5 L903.5,185.5 L905.0,185.6 L906.5,185.7 L908.0,185.7 L909.5,185.8 L911.0,185.9 L912.5,185.9 L914.0,186.0 L915.5,186.1 L917.0,186.1 L918.5,186.2 L920.0,186.3 L921.5,186.3 L923.0,186.4 L924.5,186.4 L926.0,186.5 L927.5,186.6 L929.0,186.6 L930.5,186.7 L932.0,186.7 L933.5,186.8 L935.0,186.8 L936.5,186.9 L938.0,186.9 L939.5,187.0 L941.0,187.0 L942.5,187.1 L944.0,187.1 L945.5,187.2 L947.0,187.3 L948.5,187.3 L950.0,187.4 L951.5,187.4 L953.0,187.5 L954.5,187.5 L956.0,187.6 L957.5,187.6 L959.0,187.7 L960.5,187.7 L962.0,187.8 L963.5,187.8 L965.0,187.9 L966.5,187.9 L968.0,187.9 L969.5,188.0 L971.0,188.0 L972.5,188.1 L974.0,188.1 L975.5,188.2 L977.0,188.2 L978.5,188.2 L980.0,188.3 L981.5,188.3 L983.0,188.3 L984.5,188.3 L986.0,188.4 L987.5,188.4 L989.0,188.4 L990.5,188.4 L992.0,188.4 L993.5,188.5 L995.0,188.5 L996.5,188.5 L998.0,188.5 L999.5,188.5 L1001.0,188.5 L1002.5,188.5 L1004.0,188.6 L1005.5,188.6 L1007.0,188.6 L1008.5,188.6 L1010.0,188.6 L1011.5,188.6 L1013.0,188.6 L1014.5,188.7 L1016.0,188.7 L1017.5,188.7 L1019.0,188.7 L1020.5,188.7 L1022.0,188.7 L1023.5,188.7 L1025.0,188.7 L1026.5,188.8 L1028.0,188.8 L1029.5,188.8 L1031.0,188.8 L1032.5,188.8 L1034.0,188.8 L1035.5,188.8 L1037.0,188.8 L1038.5,188.8 L1040.0,188.9 L1041.5,188.9 L1043.0,188.9 L1044.5,188.9 L1046.0,188.9 L1047.5,188.9 L1049.0,188.9 L1050.5,188.9 L1052.0,188.9 L1053.5,188.9 L1055.0,188.9 L1056.5,188.9 L1058.0,188.9 L1059.5,188.9 L1061.0,188.9 L1062.5,188.9 L1064.0,188.9 L1065.5,189.0 L1067.0,189.0 L1068.5,189.0 L1070.0,189.0 L1071.5,189.0 L1073.0,189.0 L1074.5,189.0 L1076.0,189.0 L1077.5,189.0 L1079.0,189.0 L1080.5,189.0 L1082.0,189.0 L1083.5,189.0 L1085.0,189.0 L1086.5,189.0 L1088.0,189.0 L1089.5,189.0 L1091.0,189.0 L1092.5,189.0 L1093.5,189.0" fill="none" stroke="#000" stroke-width="3.0" stroke-linejoin="round" stroke-linecap="round"/>
<path d="M221.0,237.81 L221.0,237.6 L222.5,237.6 L224.0,237.6 L225.5,237.6 L227.0,237.6 L228.5,237.6 L230.0,237.6 L231.5,237.6 L233.0,237.6 L234.5,237.6 L236.0,237.6 L237.5,237.6 L239.0,237.6 L240.5,237.6 L242.0,237.6 L243.5,237.5 L245.0,237.5 L246.5,237.5 L248.0,237.5 L249.5,237.5 L251.0,237.5 L252.5,237.5 L254.0,237.5 L255.5,237.5 L257.0,237.5 L258.5,237.4 L260.0,237.4 L261.5,237.4 L263.0,237.4 L264.5,237.4 L266.0,237.4 L267.5,237.4 L269.0,237.3 L270.5,237.3 L272.0,237.3 L273.5,237.3 L275.0,237.3 L276.5,237.3 L278.0,237.2 L279.5,237.2 L281.0,237.2 L282.5,237.2 L284.0,237.2 L285.5,237.1 L287.0,237.1 L288.5,237.1 L290.0,237.1 L291.5,237.0 L293.0,237.0 L294.5,237.0 L296.0,237.0 L297.5,236.9 L299.0,236.9 L300.5,236.9 L302.0,236.8 L303.5,236.8 L305.0,236.7 L306.5,236.7 L308.0,236.6 L309.5,236.5 L311.0,236.4 L312.5,236.3 L314.0,236.2 L315.5,236.0 L317.0,235.9 L318.5,235.7 L320.0,235.6 L321.5,235.4 L323.0,235.2 L324.5,235.0 L326.0,234.8 L327.5,234.6 L329.0,234.4 L330.5,234.2 L332.0,234.0 L333.5,233.8 L335.0,233.6 L336.5,233.3 L338.0,233.1 L339.5,232.8 L341.0,232.5 L342.5,232.2 L344.0,231.9 L345.5,231.6 L347.0,231.3 L348.5,230.9 L350.0,230.5 L351.5,230.1 L353.0,229.7 L354.5,229.2 L356.0,228.7 L357.5,228.2 L359.0,227.7 L360.5,227.2 L362.0,226.6 L363.5,226.0 L365.0,225.3 L366.5,224.7 L368.0,224.0 L369.5,223.2 L371.0,222.5 L372.5,221.7 L374.0,220.8 L375.5,220.0 L377.0,219.1 L378.5,218.2 L380.0,217.3 L381.5,216.3 L383.0,215.3 L384.5,214.3 L386.0,213.2 L387.5,212.2 L389.0,211.1 L390.5,210.0 L392.0,208.9 L393.5,207.8 L395.0,206.7 L396.5,205.6 L398.0,204.5 L399.5,203.5 L401.0,202.4 L402.5,201.4 L404.0,200.4 L405.5,199.5 L407.0,198.5 L408.5,197.6 L410.0,196.7 L411.5,195.8 L413.0,194.9 L414.5,194.1 L416.0,193.3 L417.5,192.6 L419.0,191.8 L420.5,191.1 L422.0,190.4 L423.5,189.7 L425.0,189.0 L426.5,188.4 L428.0,187.8 L429.5,187.3 L431.0,186.8 L432.5,186.4 L434.0,186.0 L435.5,185.6 L437.0,185.3 L438.5,185.0 L440.0,184.7 L441.5,184.4 L443.0,184.2 L444.5,184.0 L446.0,183.9 L447.5,183.8 L449.0,183.7 L450.5,183.7 L452.0,183.8 L453.5,183.8 L455.0,183.9 L456.5,184.1 L458.0,184.3 L459.5,184.5 L461.0,184.7 L462.5,185.0 L464.0,185.2 L465.5,185.5 L467.0,185.8 L468.5,186.1 L470.0,186.4 L471.5,186.7 L473.0,187.1 L474.5,187.4 L476.0,187.7 L477.5,188.1 L479.0,188.5 L480.5,188.8 L482.0,189.2 L483.5,189.6 L485.0,189.9 L486.5,190.3 L488.0,190.6 L489.5,191.0 L491.0,191.3 L492.5,191.7 L494.0,192.0 L495.5,192.3 L497.0,192.7 L498.5,193.0 L500.0,193.3 L501.5,193.6 L503.0,193.9 L504.5,194.2 L506.0,194.5 L507.5,194.8 L509.0,195.1 L510.5,195.4 L512.0,195.7 L513.5,196.0 L515.0,196.2 L516.5,196.5 L518.0,196.8 L519.5,197.0 L521.0,197.3 L522.5,197.5 L524.0,197.8 L525.5,198.0 L527.0,198.2 L528.5,198.4 L530.0,198.7 L531.5,198.9 L533.0,199.1 L534.5,199.3 L536.0,199.6 L537.5,199.8 L539.0,200.1 L540.5,200.3 L542.0,200.6 L543.5,200.8 L545.0,201.1 L546.5,201.4 L548.0,201.7 L549.5,202.0 L551.0,202.3 L552.5,202.6 L554.0,203.0 L555.5,203.3 L557.0,203.7 L558.5,204.0 L560.0,204.4 L561.5,204.8 L563.0,205.2 L564.5,205.7 L566.0,206.1 L567.5,206.6 L569.0,207.0 L570.5,207.5 L572.0,208.0 L573.5,208.6 L575.0,209.1 L576.5,209.7 L578.0,210.3 L579.5,210.9 L581.0,211.5 L582.5,212.1 L584.0,212.6 L585.5,213.2 L587.0,213.8 L588.5,214.3 L590.0,214.9 L591.5,215.4 L593.0,215.9 L594.5,216.4 L596.0,217.0 L597.5,217.5 L599.0,218.0 L600.5,218.5 L602.0,219.0 L603.5,219.5 L605.0,220.0 L606.5,220.5 L608.0,221.0 L609.5,221.5 L611.0,221.9 L612.5,222.4 L614.0,222.9 L615.5,223.3 L617.0,223.7 L618.5,224.1 L620.0,224.5 L621.5,224.8 L623.0,225.2 L624.5,225.5 L626.0,225.8 L627.5,226.1 L629.0,226.4 L630.5,226.7 L632.0,226.9 L633.5,227.2 L635.0,227.5 L636.5,227.7 L638.0,228.0 L639.5,228.2 L641.0,228.5 L642.5,228.7 L644.0,228.9 L645.5,229.2 L647.0,229.4 L648.5,229.6 L650.0,229.8 L651.5,230.0 L653.0,230.2 L654.5,230.4 L656.0,230.5 L657.5,230.7 L659.0,230.8 L660.5,231.0 L662.0,231.1 L663.5,231.3 L665.0,231.4 L666.5,231.5 L668.0,231.6 L669.5,231.8 L671.0,231.9 L672.5,232.0 L674.0,232.1 L675.5,232.2 L677.0,232.3 L678.5,232.4 L680.0,232.5 L681.5,232.6 L683.0,232.7 L684.5,232.8 L686.0,232.9 L687.5,233.0 L689.0,233.2 L690.5,233.3 L692.0,233.4 L693.5,233.5 L695.0,233.6 L696.5,233.7 L698.0,233.8 L699.5,233.9 L701.0,234.0 L702.5,234.1 L704.0,234.2 L705.5,234.3 L707.0,234.4 L708.5,234.5 L710.0,234.7 L711.5,234.8 L713.0,234.9 L714.5,235.0 L716.0,235.1 L717.5,235.2 L719.0,235.3 L720.5,235.4 L722.0,235.5 L723.5,235.6 L725.0,235.7 L726.5,235.8 L728.0,235.8 L729.5,235.9 L731.0,236.0 L732.5,236.0 L734.0,236.1 L735.5,236.2 L737.0,236.2 L738.5,236.3 L740.0,236.3 L741.5,236.4 L743.0,236.4 L744.5,236.5 L746.0,236.5 L747.5,236.6 L749.0,236.6 L750.5,236.7 L752.0,236.7 L753.5,236.7 L755.0,236.8 L756.5,236.8 L758.0,236.8 L759.5,236.9 L761.0,236.9 L762.5,236.9 L764.0,236.9 L765.5,237.0 L767.0,237.0 L768.5,237.0 L770.0,237.0 L771.5,237.0 L773.0,237.1 L774.5,237.1 L776.0,237.1 L777.5,237.1 L779.0,237.1 L780.5,237.2 L782.0,237.2 L783.5,237.2 L785.0,237.2 L786.5,237.2 L788.0,237.2 L789.5,237.2 L791.0,237.3 L792.5,237.3 L794.0,237.3 L795.5,237.3 L797.0,237.3 L798.5,237.3 L800.0,237.3 L801.5,237.3 L803.0,237.3 L804.5,237.3 L806.0,237.3 L807.5,237.3 L809.0,237.3 L810.5,237.3 L812.0,237.3 L813.5,237.3 L815.0,237.3 L816.5,237.3 L818.0,237.3 L819.5,237.3 L821.0,237.3 L822.5,237.4 L824.0,237.4 L825.5,237.4 L827.0,237.4 L828.5,237.4 L830.0,237.4 L831.5,237.4 L833.0,237.4 L834.5,237.4 L836.0,237.4 L837.5,237.4 L839.0,237.4 L840.5,237.4 L842.0,237.4 L843.5,237.4 L845.0,237.4 L846.5,237.4 L848.0,237.4 L849.5,237.4 L851.0,237.4 L852.5,237.4 L854.0,237.4 L855.5,237.4 L857.0,237.4 L858.5,237.4 L860.0,237.4 L861.5,237.4 L863.0,237.4 L864.5,237.4 L866.0,237.4 L867.5,237.4 L869.0,237.4 L870.5,237.4 L872.0,237.4 L873.5,237.4 L875.0,237.4 L876.5,237.4 L878.0,237.5 L879.5,237.5 L881.0,237.5 L882.5,237.5 L884.0,237.5 L885.5,237.5 L887.0,237.5 L888.5,237.5 L890.0,237.5 L891.5,237.5 L893.0,237.5 L894.5,237.5 L896.0,237.5 L897.5,237.5 L899.0,237.5 L900.5,237.5 L902.0,237.5 L903.5,237.5 L905.0,237.5 L906.5,237.5 L908.0,237.5 L909.5,237.5 L911.0,237.5 L912.5,237.5 L914.0,237.5 L915.5,237.5 L917.0,237.5 L918.5,237.5 L920.0,237.5 L921.5,237.5 L923.0,237.5 L924.5,237.5 L926.0,237.5 L927.5,237.5 L929.0,237.5 L930.5,237.5 L932.0,237.5 L933.5,237.5 L935.0,237.5 L936.5,237.5 L938.0,237.5 L939.5,237.5 L941.0,237.5 L942.5,237.5 L944.0,237.5 L945.5,237.5 L947.0,237.5 L948.5,237.5 L950.0,237.5 L951.5,237.5 L953.0,237.5 L954.5,237.5 L956.0,237.5 L957.5,237.5 L959.0,237.5 L960.5,237.5 L962.0,237.6 L963.5,237.6 L965.0,237.6 L966.5,237.6 L968.0,237.6 L969.5,237.6 L971.0,237.6 L972.5,237.6 L974.0,237.6 L975.5,237.6 L977.0,237.6 L978.5,237.6 L980.0,237.6 L981.5,237.6 L983.0,237.6 L984.5,237.6 L986.0,237.6 L987.5,237.6 L989.0,237.6 L990.5,237.6 L992.0,237.6 L993.5,237.6 L995.0,237.6 L996.5,237.6 L998.0,237.6 L999.5,237.6 L1001.0,237.6 L1002.5,237.6 L1004.0,237.6 L1005.5,237.6 L1007.0,237.6 L1008.5,237.6 L1010.0,237.6 L1011.5,237.6 L1013.0,237.6 L1014.5,237.6 L1016.0,237.6 L1017.5,237.6 L1019.0,237.6 L1020.5,237.6 L1022.0,237.6 L1023.5,237.6 L1025.0,237.6 L1026.5,237.6 L1028.0,237.6 L1029.5,237.6 L1031.0,237.6 L1032.5,237.6 L1034.0,237.6 L1035.5,237.6 L1037.0,237.6 L1038.5,237.6 L1040.0,237.6 L1041.5,237.6 L1043.0,237.6 L1044.5,237.6 L1046.0,237.6 L1047.5,237.6 L1049.0,237.6 L1050.5,237.6 L1052.0,237.6 L1053.5,237.6 L1055.0,237.6 L1056.5,237.6 L1058.0,237.6 L1059.5,237.6 L1061.0,237.6 L1062.5,237.6 L1064.0,237.6 L1065.5,237.6 L1067.0,237.6 L1068.5,237.6 L1070.0,237.6 L1071.5,237.6 L1073.0,237.6 L1074.5,237.6 L1076.0,237.6 L1077.5,237.6 L1079.0,237.6 L1080.5,237.6 L1082.0,237.6 L1083.5,237.6 L1085.0,237.6 L1086.5,237.6 L1088.0,237.6 L1089.5,237.6 L1091.0,237.6 L1092.5,237.6 L1093.5,237.6 L1093.5,237.81 Z" fill="#245c7b" stroke="none"/>
<path d="M221.0,237.6 L222.5,237.6 L224.0,237.6 L225.5,237.6 L227.0,237.6 L228.5,237.6 L230.0,237.6 L231.5,237.6 L233.0,237.6 L234.5,237.6 L236.0,237.6 L237.5,237.6 L239.0,237.6 L240.5,237.6 L242.0,237.6 L243.5,237.5 L245.0,237.5 L246.5,237.5 L248.0,237.5 L249.5,237.5 L251.0,237.5 L252.5,237.5 L254.0,237.5 L255.5,237.5 L257.0,237.5 L258.5,237.4 L260.0,237.4 L261.5,237.4 L263.0,237.4 L264.5,237.4 L266.0,237.4 L267.5,237.4 L269.0,237.3 L270.5,237.3 L272.0,237.3 L273.5,237.3 L275.0,237.3 L276.5,237.3 L278.0,237.2 L279.5,237.2 L281.0,237.2 L282.5,237.2 L284.0,237.2 L285.5,237.1 L287.0,237.1 L288.5,237.1 L290.0,237.1 L291.5,237.0 L293.0,237.0 L294.5,237.0 L296.0,237.0 L297.5,236.9 L299.0,236.9 L300.5,236.9 L302.0,236.8 L303.5,236.8 L305.0,236.7 L306.5,236.7 L308.0,236.6 L309.5,236.5 L311.0,236.4 L312.5,236.3 L314.0,236.2 L315.5,236.0 L317.0,235.9 L318.5,235.7 L320.0,235.6 L321.5,235.4 L323.0,235.2 L324.5,235.0 L326.0,234.8 L327.5,234.6 L329.0,234.4 L330.5,234.2 L332.0,234.0 L333.5,233.8 L335.0,233.6 L336.5,233.3 L338.0,233.1 L339.5,232.8 L341.0,232.5 L342.5,232.2 L344.0,231.9 L345.5,231.6 L347.0,231.3 L348.5,230.9 L350.0,230.5 L351.5,230.1 L353.0,229.7 L354.5,229.2 L356.0,228.7 L357.5,228.2 L359.0,227.7 L360.5,227.2 L362.0,226.6 L363.5,226.0 L365.0,225.3 L366.5,224.7 L368.0,224.0 L369.5,223.2 L371.0,222.5 L372.5,221.7 L374.0,220.8 L375.5,220.0 L377.0,219.1 L378.5,218.2 L380.0,217.3 L381.5,216.3 L383.0,215.3 L384.5,214.3 L386.0,213.2 L387.5,212.2 L389.0,211.1 L390.5,210.0 L392.0,208.9 L393.5,207.8 L395.0,206.7 L396.5,205.6 L398.0,204.5 L399.5,203.5 L401.0,202.4 L402.5,201.4 L404.0,200.4 L405.5,199.5 L407.0,198.5 L408.5,197.6 L410.0,196.7 L411.5,195.8 L413.0,194.9 L414.5,194.1 L416.0,193.3 L417.5,192.6 L419.0,191.8 L420.5,191.1 L422.0,190.4 L423.5,189.7 L425.0,189.0 L426.5,188.4 L428.0,187.8 L429.5,187.3 L431.0,186.8 L432.5,186.4 L434.0,186.0 L435.5,185.6 L437.0,185.3 L438.5,185.0 L440.0,184.7 L441.5,184.4 L443.0,184.2 L444.5,184.0 L446.0,183.9 L447.5,183.8 L449.0,183.7 L450.5,183.7 L452.0,183.8 L453.5,183.8 L455.0,183.9 L456.5,184.1 L458.0,184.3 L459.5,184.5 L461.0,184.7 L462.5,185.0 L464.0,185.2 L465.5,185.5 L467.0,185.8 L468.5,186.1 L470.0,186.4 L471.5,186.7 L473.0,187.1 L474.5,187.4 L476.0,187.7 L477.5,188.1 L479.0,188.5 L480.5,188.8 L482.0,189.2 L483.5,189.6 L485.0,189.9 L486.5,190.3 L488.0,190.6 L489.5,191.0 L491.0,191.3 L492.5,191.7 L494.0,192.0 L495.5,192.3 L497.0,192.7 L498.5,193.0 L500.0,193.3 L501.5,193.6 L503.0,193.9 L504.5,194.2 L506.0,194.5 L507.5,194.8 L509.0,195.1 L510.5,195.4 L512.0,195.7 L513.5,196.0 L515.0,196.2 L516.5,196.5 L518.0,196.8 L519.5,197.0 L521.0,197.3 L522.5,197.5 L524.0,197.8 L525.5,198.0 L527.0,198.2 L528.5,198.4 L530.0,198.7 L531.5,198.9 L533.0,199.1 L534.5,199.3 L536.0,199.6 L537.5,199.8 L539.0,200.1 L540.5,200.3 L542.0,200.6 L543.5,200.8 L545.0,201.1 L546.5,201.4 L548.0,201.7 L549.5,202.0 L551.0,202.3 L552.5,202.6 L554.0,203.0 L555.5,203.3 L557.0,203.7 L558.5,204.0 L560.0,204.4 L561.5,204.8 L563.0,205.2 L564.5,205.7 L566.0,206.1 L567.5,206.6 L569.0,207.0 L570.5,207.5 L572.0,208.0 L573.5,208.6 L575.0,209.1 L576.5,209.7 L578.0,210.3 L579.5,210.9 L581.0,211.5 L582.5,212.1 L584.0,212.6 L585.5,213.2 L587.0,213.8 L588.5,214.3 L590.0,214.9 L591.5,215.4 L593.0,215.9 L594.5,216.4 L596.0,217.0 L597.5,217.5 L599.0,218.0 L600.5,218.5 L602.0,219.0 L603.5,219.5 L605.0,220.0 L606.5,220.5 L608.0,221.0 L609.5,221.5 L611.0,221.9 L612.5,222.4 L614.0,222.9 L615.5,223.3 L617.0,223.7 L618.5,224.1 L620.0,224.5 L621.5,224.8 L623.0,225.2 L624.5,225.5 L626.0,225.8 L627.5,226.1 L629.0,226.4 L630.5,226.7 L632.0,226.9 L633.5,227.2 L635.0,227.5 L636.5,227.7 L638.0,228.0 L639.5,228.2 L641.0,228.5 L642.5,228.7 L644.0,228.9 L645.5,229.2 L647.0,229.4 L648.5,229.6 L650.0,229.8 L651.5,230.0 L653.0,230.2 L654.5,230.4 L656.0,230.5 L657.5,230.7 L659.0,230.8 L660.5,231.0 L662.0,231.1 L663.5,231.3 L665.0,231.4 L666.5,231.5 L668.0,231.6 L669.5,231.8 L671.0,231.9 L672.5,232.0 L674.0,232.1 L675.5,232.2 L677.0,232.3 L678.5,232.4 L680.0,232.5 L681.5,232.6 L683.0,232.7 L684.5,232.8 L686.0,232.9 L687.5,233.0 L689.0,233.2 L690.5,233.3 L692.0,233.4 L693.5,233.5 L695.0,233.6 L696.5,233.7 L698.0,233.8 L699.5,233.9 L701.0,234.0 L702.5,234.1 L704.0,234.2 L705.5,234.3 L707.0,234.4 L708.5,234.5 L710.0,234.7 L711.5,234.8 L713.0,234.9 L714.5,235.0 L716.0,235.1 L717.5,235.2 L719.0,235.3 L720.5,235.4 L722.0,235.5 L723.5,235.6 L725.0,235.7 L726.5,235.8 L728.0,235.8 L729.5,235.9 L731.0,236.0 L732.5,236.0 L734.0,236.1 L735.5,236.2 L737.0,236.2 L738.5,236.3 L740.0,236.3 L741.5,236.4 L743.0,236.4 L744.5,236.5 L746.0,236.5 L747.5,236.6 L749.0,236.6 L750.5,236.7 L752.0,236.7 L753.5,236.7 L755.0,236.8 L756.5,236.8 L758.0,236.8 L759.5,236.9 L761.0,236.9 L762.5,236.9 L764.0,236.9 L765.5,237.0 L767.0,237.0 L768.5,237.0 L770.0,237.0 L771.5,237.0 L773.0,237.1 L774.5,237.1 L776.0,237.1 L777.5,237.1 L779.0,237.1 L780.5,237.2 L782.0,237.2 L783.5,237.2 L785.0,237.2 L786.5,237.2 L788.0,237.2 L789.5,237.2 L791.0,237.3 L792.5,237.3 L794.0,237.3 L795.5,237.3 L797.0,237.3 L798.5,237.3 L800.0,237.3 L801.5,237.3 L803.0,237.3 L804.5,237.3 L806.0,237.3 L807.5,237.3 L809.0,237.3 L810.5,237.3 L812.0,237.3 L813.5,237.3 L815.0,237.3 L816.5,237.3 L818.0,237.3 L819.5,237.3 L821.0,237.3 L822.5,237.4 L824.0,237.4 L825.5,237.4 L827.0,237.4 L828.5,237.4 L830.0,237.4 L831.5,237.4 L833.0,237.4 L834.5,237.4 L836.0,237.4 L837.5,237.4 L839.0,237.4 L840.5,237.4 L842.0,237.4 L843.5,237.4 L845.0,237.4 L846.5,237.4 L848.0,237.4 L849.5,237.4 L851.0,237.4 L852.5,237.4 L854.0,237.4 L855.5,237.4 L857.0,237.4 L858.5,237.4 L860.0,237.4 L861.5,237.4 L863.0,237.4 L864.5,237.4 L866.0,237.4 L867.5,237.4 L869.0,237.4 L870.5,237.4 L872.0,237.4 L873.5,237.4 L875.0,237.4 L876.5,237.4 L878.0,237.5 L879.5,237.5 L881.0,237.5 L882.5,237.5 L884.0,237.5 L885.5,237.5 L887.0,237.5 L888.5,237.5 L890.0,237.5 L891.5,237.5 L893.0,237.5 L894.5,237.5 L896.0,237.5 L897.5,237.5 L899.0,237.5 L900.5,237.5 L902.0,237.5 L903.5,237.5 L905.0,237.5 L906.5,237.5 L908.0,237.5 L909.5,237.5 L911.0,237.5 L912.5,237.5 L914.0,237.5 L915.5,237.5 L917.0,237.5 L918.5,237.5 L920.0,237.5 L921.5,237.5 L923.0,237.5 L924.5,237.5 L926.0,237.5 L927.5,237.5 L929.0,237.5 L930.5,237.5 L932.0,237.5 L933.5,237.5 L935.0,237.5 L936.5,237.5 L938.0,237.5 L939.5,237.5 L941.0,237.5 L942.5,237.5 L944.0,237.5 L945.5,237.5 L947.0,237.5 L948.5,237.5 L950.0,237.5 L951.5,237.5 L953.0,237.5 L954.5,237.5 L956.0,237.5 L957.5,237.5 L959.0,237.5 L960.5,237.5 L962.0,237.6 L963.5,237.6 L965.0,237.6 L966.5,237.6 L968.0,237.6 L969.5,237.6 L971.0,237.6 L972.5,237.6 L974.0,237.6 L975.5,237.6 L977.0,237.6 L978.5,237.6 L980.0,237.6 L981.5,237.6 L983.0,237.6 L984.5,237.6 L986.0,237.6 L987.5,237.6 L989.0,237.6 L990.5,237.6 L992.0,237.6 L993.5,237.6 L995.0,237.6 L996.5,237.6 L998.0,237.6 L999.5,237.6 L1001.0,237.6 L1002.5,237.6 L1004.0,237.6 L1005.5,237.6 L1007.0,237.6 L1008.5,237.6 L1010.0,237.6 L1011.5,237.6 L1013.0,237.6 L1014.5,237.6 L1016.0,237.6 L1017.5,237.6 L1019.0,237.6 L1020.5,237.6 L1022.0,237.6 L1023.5,237.6 L1025.0,237.6 L1026.5,237.6 L1028.0,237.6 L1029.5,237.6 L1031.0,237.6 L1032.5,237.6 L1034.0,237.6 L1035.5,237.6 L1037.0,237.6 L1038.5,237.6 L1040.0,237.6 L1041.5,237.6 L1043.0,237.6 L1044.5,237.6 L1046.0,237.6 L1047.5,237.6 L1049.0,237.6 L1050.5,237.6 L1052.0,237.6 L1053.5,237.6 L1055.0,237.6 L1056.5,237.6 L1058.0,237.6 L1059.5,237.6 L1061.0,237.6 L1062.5,237.6 L1064.0,237.6 L1065.5,237.6 L1067.0,237.6 L1068.5,237.6 L1070.0,237.6 L1071.5,237.6 L1073.0,237.6 L1074.5,237.6 L1076.0,237.6 L1077.5,237.6 L1079.0,237.6 L1080.5,237.6 L1082.0,237.6 L1083.5,237.6 L1085.0,237.6 L1086.5,237.6 L1088.0,237.6 L1089.5,237.6 L1091.0,237.6 L1092.5,237.6 L1093.5,237.6" fill="none" stroke="#000" stroke-width="3.0" stroke-linejoin="round" stroke-linecap="round"/>
<path d="M221.0,286.38 L221.0,286.2 L222.5,286.2 L224.0,286.2 L225.5,286.2 L227.0,286.2 L228.5,286.2 L230.0,286.2 L231.5,286.2 L233.0,286.2 L234.5,286.2 L236.0,286.2 L237.5,286.2 L239.0,286.2 L240.5,286.2 L242.0,286.2 L243.5,286.2 L245.0,286.2 L246.5,286.2 L248.0,286.2 L249.5,286.2 L251.0,286.2 L252.5,286.1 L254.0,286.1 L255.5,286.1 L257.0,286.1 L258.5,286.1 L260.0,286.1 L261.5,286.1 L263.0,286.1 L264.5,286.1 L266.0,286.1 L267.5,286.1 L269.0,286.1 L270.5,286.1 L272.0,286.1 L273.5,286.0 L275.0,286.0 L276.5,286.0 L278.0,286.0 L279.5,286.0 L281.0,286.0 L282.5,286.0 L284.0,286.0 L285.5,286.0 L287.0,286.0 L288.5,285.9 L290.0,285.9 L291.5,285.9 L293.0,285.9 L294.5,285.9 L296.0,285.9 L297.5,285.9 L299.0,285.8 L300.5,285.8 L302.0,285.8 L303.5,285.8 L305.0,285.8 L306.5,285.7 L308.0,285.7 L309.5,285.7 L311.0,285.6 L312.5,285.5 L314.0,285.5 L315.5,285.4 L317.0,285.3 L318.5,285.3 L320.0,285.2 L321.5,285.1 L323.0,285.0 L324.5,284.9 L326.0,284.8 L327.5,284.7 L329.0,284.6 L330.5,284.4 L332.0,284.3 L333.5,284.2 L335.0,284.0 L336.5,283.9 L338.0,283.7 L339.5,283.5 L341.0,283.3 L342.5,283.1 L344.0,282.8 L345.5,282.6 L347.0,282.3 L348.5,282.0 L350.0,281.7 L351.5,281.3 L353.0,280.9 L354.5,280.5 L356.0,280.1 L357.5,279.6 L359.0,279.1 L360.5,278.6 L362.0,278.1 L363.5,277.6 L365.0,277.0 L366.5,276.4 L368.0,275.8 L369.5,275.2 L371.0,274.6 L372.5,273.9 L374.0,273.2 L375.5,272.5 L377.0,271.8 L378.5,271.1 L380.0,270.4 L381.5,269.7 L383.0,269.0 L384.5,268.2 L386.0,267.5 L387.5,266.8 L389.0,266.0 L390.5,265.3 L392.0,264.5 L393.5,263.8 L395.0,263.0 L396.5,262.2 L398.0,261.4 L399.5,260.6 L401.0,259.8 L402.5,258.9 L404.0,258.1 L405.5,257.2 L407.0,256.3 L408.5,255.4 L410.0,254.6 L411.5,253.7 L413.0,252.8 L414.5,251.9 L416.0,251.0 L417.5,250.2 L419.0,249.3 L420.5,248.5 L422.0,247.7 L423.5,246.9 L425.0,246.1 L426.5,245.3 L428.0,244.5 L429.5,243.7 L431.0,243.0 L432.5,242.2 L434.0,241.5 L435.5,240.8 L437.0,240.1 L438.5,239.4 L440.0,238.7 L441.5,238.1 L443.0,237.5 L444.5,236.8 L446.0,236.2 L447.5,235.7 L449.0,235.1 L450.5,234.6 L452.0,234.1 L453.5,233.6 L455.0,233.1 L456.5,232.7 L458.0,232.3 L459.5,231.9 L461.0,231.5 L462.5,231.1 L464.0,230.8 L465.5,230.5 L467.0,230.2 L468.5,229.9 L470.0,229.7 L471.5,229.5 L473.0,229.4 L474.5,229.2 L476.0,229.1 L477.5,228.9 L479.0,228.8 L480.5,228.7 L482.0,228.7 L483.5,228.7 L485.0,228.7 L486.5,228.7 L488.0,228.8 L489.5,228.9 L491.0,229.0 L492.5,229.2 L494.0,229.4 L495.5,229.6 L497.0,229.8 L498.5,230.1 L500.0,230.3 L501.5,230.6 L503.0,230.9 L504.5,231.2 L506.0,231.6 L507.5,231.9 L509.0,232.3 L510.5,232.7 L512.0,233.2 L513.5,233.6 L515.0,234.1 L516.5,234.6 L518.0,235.1 L519.5,235.7 L521.0,236.2 L522.5,236.8 L524.0,237.4 L525.5,238.0 L527.0,238.6 L528.5,239.3 L530.0,240.0 L531.5,240.7 L533.0,241.3 L534.5,242.0 L536.0,242.7 L537.5,243.4 L539.0,244.1 L540.5,244.8 L542.0,245.5 L543.5,246.2 L545.0,246.9 L546.5,247.6 L548.0,248.3 L549.5,249.0 L551.0,249.6 L552.5,250.3 L554.0,250.9 L555.5,251.5 L557.0,252.1 L558.5,252.7 L560.0,253.3 L561.5,253.8 L563.0,254.4 L564.5,254.9 L566.0,255.4 L567.5,256.0 L569.0,256.5 L570.5,257.0 L572.0,257.5 L573.5,257.9 L575.0,258.4 L576.5,258.9 L578.0,259.4 L579.5,259.8 L581.0,260.3 L582.5,260.7 L584.0,261.2 L585.5,261.6 L587.0,262.0 L588.5,262.5 L590.0,262.9 L591.5,263.3 L593.0,263.7 L594.5,264.1 L596.0,264.5 L597.5,264.9 L599.0,265.3 L600.5,265.7 L602.0,266.1 L603.5,266.5 L605.0,266.9 L606.5,267.3 L608.0,267.8 L609.5,268.2 L611.0,268.6 L612.5,269.0 L614.0,269.4 L615.5,269.9 L617.0,270.3 L618.5,270.7 L620.0,271.1 L621.5,271.5 L623.0,271.9 L624.5,272.2 L626.0,272.6 L627.5,273.0 L629.0,273.4 L630.5,273.7 L632.0,274.1 L633.5,274.4 L635.0,274.7 L636.5,275.0 L638.0,275.3 L639.5,275.6 L641.0,275.9 L642.5,276.2 L644.0,276.4 L645.5,276.7 L647.0,277.0 L648.5,277.2 L650.0,277.5 L651.5,277.7 L653.0,277.9 L654.5,278.2 L656.0,278.4 L657.5,278.6 L659.0,278.9 L660.5,279.1 L662.0,279.3 L663.5,279.5 L665.0,279.7 L666.5,279.9 L668.0,280.1 L669.5,280.3 L671.0,280.5 L672.5,280.7 L674.0,280.8 L675.5,281.0 L677.0,281.2 L678.5,281.3 L680.0,281.5 L681.5,281.7 L683.0,281.8 L684.5,282.0 L686.0,282.1 L687.5,282.3 L689.0,282.4 L690.5,282.5 L692.0,282.7 L693.5,282.8 L695.0,283.0 L696.5,283.1 L698.0,283.2 L699.5,283.4 L701.0,283.5 L702.5,283.6 L704.0,283.7 L705.5,283.8 L707.0,284.0 L708.5,284.1 L710.0,284.2 L711.5,284.3 L713.0,284.4 L714.5,284.5 L716.0,284.6 L717.5,284.7 L719.0,284.8 L720.5,284.9 L722.0,285.0 L723.5,285.1 L725.0,285.2 L726.5,285.2 L728.0,285.3 L729.5,285.4 L731.0,285.4 L732.5,285.5 L734.0,285.5 L735.5,285.6 L737.0,285.6 L738.5,285.7 L740.0,285.7 L741.5,285.7 L743.0,285.8 L744.5,285.8 L746.0,285.8 L747.5,285.8 L749.0,285.9 L750.5,285.9 L752.0,285.9 L753.5,285.9 L755.0,285.9 L756.5,286.0 L758.0,286.0 L759.5,286.0 L761.0,286.0 L762.5,286.0 L764.0,286.0 L765.5,286.0 L767.0,286.1 L768.5,286.1 L770.0,286.1 L771.5,286.1 L773.0,286.1 L774.5,286.1 L776.0,286.1 L777.5,286.1 L779.0,286.1 L780.5,286.1 L782.0,286.1 L783.5,286.2 L785.0,286.2 L786.5,286.2 L788.0,286.2 L789.5,286.2 L791.0,286.2 L792.5,286.2 L794.0,286.2 L795.5,286.2 L797.0,286.2 L798.5,286.2 L800.0,286.2 L801.5,286.2 L803.0,286.2 L804.5,286.2 L806.0,286.2 L807.5,286.2 L809.0,286.2 L810.5,286.2 L812.0,286.2 L813.5,286.2 L815.0,286.2 L816.5,286.2 L818.0,286.2 L819.5,286.2 L821.0,286.2 L822.5,286.2 L824.0,286.2 L825.5,286.2 L827.0,286.2 L828.5,286.2 L830.0,286.2 L831.5,286.2 L833.0,286.2 L834.5,286.2 L836.0,286.2 L837.5,286.2 L839.0,286.2 L840.5,286.2 L842.0,286.2 L843.5,286.2 L845.0,286.2 L846.5,286.2 L848.0,286.2 L849.5,286.2 L851.0,286.2 L852.5,286.2 L854.0,286.2 L855.5,286.2 L857.0,286.2 L858.5,286.2 L860.0,286.2 L861.5,286.2 L863.0,286.2 L864.5,286.2 L866.0,286.2 L867.5,286.2 L869.0,286.2 L870.5,286.2 L872.0,286.2 L873.5,286.2 L875.0,286.2 L876.5,286.2 L878.0,286.2 L879.5,286.2 L881.0,286.2 L882.5,286.2 L884.0,286.2 L885.5,286.2 L887.0,286.2 L888.5,286.2 L890.0,286.2 L891.5,286.2 L893.0,286.2 L894.5,286.2 L896.0,286.2 L897.5,286.2 L899.0,286.2 L900.5,286.2 L902.0,286.2 L903.5,286.2 L905.0,286.2 L906.5,286.2 L908.0,286.2 L909.5,286.2 L911.0,286.2 L912.5,286.2 L914.0,286.2 L915.5,286.2 L917.0,286.2 L918.5,286.2 L920.0,286.2 L921.5,286.2 L923.0,286.2 L924.5,286.2 L926.0,286.2 L927.5,286.2 L929.0,286.2 L930.5,286.2 L932.0,286.2 L933.5,286.2 L935.0,286.2 L936.5,286.2 L938.0,286.2 L939.5,286.2 L941.0,286.2 L942.5,286.2 L944.0,286.2 L945.5,286.2 L947.0,286.2 L948.5,286.2 L950.0,286.2 L951.5,286.2 L953.0,286.2 L954.5,286.2 L956.0,286.2 L957.5,286.2 L959.0,286.2 L960.5,286.2 L962.0,286.2 L963.5,286.2 L965.0,286.2 L966.5,286.2 L968.0,286.2 L969.5,286.2 L971.0,286.2 L972.5,286.2 L974.0,286.2 L975.5,286.2 L977.0,286.2 L978.5,286.2 L980.0,286.2 L981.5,286.2 L983.0,286.2 L984.5,286.2 L986.0,286.2 L987.5,286.2 L989.0,286.2 L990.5,286.2 L992.0,286.2 L993.5,286.2 L995.0,286.2 L996.5,286.2 L998.0,286.2 L999.5,286.2 L1001.0,286.2 L1002.5,286.2 L1004.0,286.2 L1005.5,286.2 L1007.0,286.2 L1008.5,286.2 L1010.0,286.2 L1011.5,286.2 L1013.0,286.2 L1014.5,286.2 L1016.0,286.2 L1017.5,286.2 L1019.0,286.2 L1020.5,286.2 L1022.0,286.2 L1023.5,286.2 L1025.0,286.2 L1026.5,286.2 L1028.0,286.2 L1029.5,286.2 L1031.0,286.2 L1032.5,286.2 L1034.0,286.2 L1035.5,286.2 L1037.0,286.2 L1038.5,286.2 L1040.0,286.2 L1041.5,286.2 L1043.0,286.2 L1044.5,286.2 L1046.0,286.2 L1047.5,286.2 L1049.0,286.2 L1050.5,286.2 L1052.0,286.2 L1053.5,286.2 L1055.0,286.2 L1056.5,286.2 L1058.0,286.2 L1059.5,286.2 L1061.0,286.2 L1062.5,286.2 L1064.0,286.2 L1065.5,286.2 L1067.0,286.2 L1068.5,286.2 L1070.0,286.2 L1071.5,286.2 L1073.0,286.2 L1074.5,286.2 L1076.0,286.2 L1077.5,286.2 L1079.0,286.2 L1080.5,286.2 L1082.0,286.2 L1083.5,286.2 L1085.0,286.2 L1086.5,286.2 L1088.0,286.2 L1089.5,286.2 L1091.0,286.2 L1092.5,286.2 L1093.5,286.2 L1093.5,286.38 Z" fill="#20737b" stroke="none"/>
<path d="M221.0,286.2 L222.5,286.2 L224.0,286.2 L225.5,286.2 L227.0,286.2 L228.5,286.2 L230.0,286.2 L231.5,286.2 L233.0,286.2 L234.5,286.2 L236.0,286.2 L237.5,286.2 L239.0,286.2 L240.5,286.2 L242.0,286.2 L243.5,286.2 L245.0,286.2 L246.5,286.2 L248.0,286.2 L249.5,286.2 L251.0,286.2 L252.5,286.1 L254.0,286.1 L255.5,286.1 L257.0,286.1 L258.5,286.1 L260.0,286.1 L261.5,286.1 L263.0,286.1 L264.5,286.1 L266.0,286.1 L267.5,286.1 L269.0,286.1 L270.5,286.1 L272.0,286.1 L273.5,286.0 L275.0,286.0 L276.5,286.0 L278.0,286.0 L279.5,286.0 L281.0,286.0 L282.5,286.0 L284.0,286.0 L285.5,286.0 L287.0,286.0 L288.5,285.9 L290.0,285.9 L291.5,285.9 L293.0,285.9 L294.5,285.9 L296.0,285.9 L297.5,285.9 L299.0,285.8 L300.5,285.8 L302.0,285.8 L303.5,285.8 L305.0,285.8 L306.5,285.7 L308.0,285.7 L309.5,285.7 L311.0,285.6 L312.5,285.5 L314.0,285.5 L315.5,285.4 L317.0,285.3 L318.5,285.3 L320.0,285.2 L321.5,285.1 L323.0,285.0 L324.5,284.9 L326.0,284.8 L327.5,284.7 L329.0,284.6 L330.5,284.4 L332.0,284.3 L333.5,284.2 L335.0,284.0 L336.5,283.9 L338.0,283.7 L339.5,283.5 L341.0,283.3 L342.5,283.1 L344.0,282.8 L345.5,282.6 L347.0,282.3 L348.5,282.0 L350.0,281.7 L351.5,281.3 L353.0,280.9 L354.5,280.5 L356.0,280.1 L357.5,279.6 L359.0,279.1 L360.5,278.6 L362.0,278.1 L363.5,277.6 L365.0,277.0 L366.5,276.4 L368.0,275.8 L369.5,275.2 L371.0,274.6 L372.5,273.9 L374.0,273.2 L375.5,272.5 L377.0,271.8 L378.5,271.1 L380.0,270.4 L381.5,269.7 L383.0,269.0 L384.5,268.2 L386.0,267.5 L387.5,266.8 L389.0,266.0 L390.5,265.3 L392.0,264.5 L393.5,263.8 L395.0,263.0 L396.5,262.2 L398.0,261.4 L399.5,260.6 L401.0,259.8 L402.5,258.9 L404.0,258.1 L405.5,257.2 L407.0,256.3 L408.5,255.4 L410.0,254.6 L411.5,253.7 L413.0,252.8 L414.5,251.9 L416.0,251.0 L417.5,250.2 L419.0,249.3 L420.5,248.5 L422.0,247.7 L423.5,246.9 L425.0,246.1 L426.5,245.3 L428.0,244.5 L429.5,243.7 L431.0,243.0 L432.5,242.2 L434.0,241.5 L435.5,240.8 L437.0,240.1 L438.5,239.4 L440.0,238.7 L441.5,238.1 L443.0,237.5 L444.5,236.8 L446.0,236.2 L447.5,235.7 L449.0,235.1 L450.5,234.6 L452.0,234.1 L453.5,233.6 L455.0,233.1 L456.5,232.7 L458.0,232.3 L459.5,231.9 L461.0,231.5 L462.5,231.1 L464.0,230.8 L465.5,230.5 L467.0,230.2 L468.5,229.9 L470.0,229.7 L471.5,229.5 L473.0,229.4 L474.5,229.2 L476.0,229.1 L477.5,228.9 L479.0,228.8 L480.5,228.7 L482.0,228.7 L483.5,228.7 L485.0,228.7 L486.5,228.7 L488.0,228.8 L489.5,228.9 L491.0,229.0 L492.5,229.2 L494.0,229.4 L495.5,229.6 L497.0,229.8 L498.5,230.1 L500.0,230.3 L501.5,230.6 L503.0,230.9 L504.5,231.2 L506.0,231.6 L507.5,231.9 L509.0,232.3 L510.5,232.7 L512.0,233.2 L513.5,233.6 L515.0,234.1 L516.5,234.6 L518.0,235.1 L519.5,235.7 L521.0,236.2 L522.5,236.8 L524.0,237.4 L525.5,238.0 L527.0,238.6 L528.5,239.3 L530.0,240.0 L531.5,240.7 L533.0,241.3 L534.5,242.0 L536.0,242.7 L537.5,243.4 L539.0,244.1 L540.5,244.8 L542.0,245.5 L543.5,246.2 L545.0,246.9 L546.5,247.6 L548.0,248.3 L549.5,249.0 L551.0,249.6 L552.5,250.3 L554.0,250.9 L555.5,251.5 L557.0,252.1 L558.5,252.7 L560.0,253.3 L561.5,253.8 L563.0,254.4 L564.5,254.9 L566.0,255.4 L567.5,256.0 L569.0,256.5 L570.5,257.0 L572.0,257.5 L573.5,257.9 L575.0,258.4 L576.5,258.9 L578.0,259.4 L579.5,259.8 L581.0,260.3 L582.5,260.7 L584.0,261.2 L585.5,261.6 L587.0,262.0 L588.5,262.5 L590.0,262.9 L591.5,263.3 L593.0,263.7 L594.5,264.1 L596.0,264.5 L597.5,264.9 L599.0,265.3 L600.5,265.7 L602.0,266.1 L603.5,266.5 L605.0,266.9 L606.5,267.3 L608.0,267.8 L609.5,268.2 L611.0,268.6 L612.5,269.0 L614.0,269.4 L615.5,269.9 L617.0,270.3 L618.5,270.7 L620.0,271.1 L621.5,271.5 L623.0,271.9 L624.5,272.2 L626.0,272.6 L627.5,273.0 L629.0,273.4 L630.5,273.7 L632.0,274.1 L633.5,274.4 L635.0,274.7 L636.5,275.0 L638.0,275.3 L639.5,275.6 L641.0,275.9 L642.5,276.2 L644.0,276.4 L645.5,276.7 L647.0,277.0 L648.5,277.2 L650.0,277.5 L651.5,277.7 L653.0,277.9 L654.5,278.2 L656.0,278.4 L657.5,278.6 L659.0,278.9 L660.5,279.1 L662.0,279.3 L663.5,279.5 L665.0,279.7 L666.5,279.9 L668.0,280.1 L669.5,280.3 L671.0,280.5 L672.5,280.7 L674.0,280.8 L675.5,281.0 L677.0,281.2 L678.5,281.3 L680.0,281.5 L681.5,281.7 L683.0,281.8 L684.5,282.0 L686.0,282.1 L687.5,282.3 L689.0,282.4 L690.5,282.5 L692.0,282.7 L693.5,282.8 L695.0,283.0 L696.5,283.1 L698.0,283.2 L699.5,283.4 L701.0,283.5 L702.5,283.6 L704.0,283.7 L705.5,283.8 L707.0,284.0 L708.5,284.1 L710.0,284.2 L711.5,284.3 L713.0,284.4 L714.5,284.5 L716.0,284.6 L717.5,284.7 L719.0,284.8 L720.5,284.9 L722.0,285.0 L723.5,285.1 L725.0,285.2 L726.5,285.2 L728.0,285.3 L729.5,285.4 L731.0,285.4 L732.5,285.5 L734.0,285.5 L735.5,285.6 L737.0,285.6 L738.5,285.7 L740.0,285.7 L741.5,285.7 L743.0,285.8 L744.5,285.8 L746.0,285.8 L747.5,285.8 L749.0,285.9 L750.5,285.9 L752.0,285.9 L753.5,285.9 L755.0,285.9 L756.5,286.0 L758.0,286.0 L759.5,286.0 L761.0,286.0 L762.5,286.0 L764.0,286.0 L765.5,286.0 L767.0,286.1 L768.5,286.1 L770.0,286.1 L771.5,286.1 L773.0,286.1 L774.5,286.1 L776.0,286.1 L777.5,286.1 L779.0,286.1 L780.5,286.1 L782.0,286.1 L783.5,286.2 L785.0,286.2 L786.5,286.2 L788.0,286.2 L789.5,286.2 L791.0,286.2 L792.5,286.2 L794.0,286.2 L795.5,286.2 L797.0,286.2 L798.5,286.2 L800.0,286.2 L801.5,286.2 L803.0,286.2 L804.5,286.2 L806.0,286.2 L807.5,286.2 L809.0,286.2 L810.5,286.2 L812.0,286.2 L813.5,286.2 L815.0,286.2 L816.5,286.2 L818.0,286.2 L819.5,286.2 L821.0,286.2 L822.5,286.2 L824.0,286.2 L825.5,286.2 L827.0,286.2 L828.5,286.2 L830.0,286.2 L831.5,286.2 L833.0,286.2 L834.5,286.2 L836.0,286.2 L837.5,286.2 L839.0,286.2 L840.5,286.2 L842.0,286.2 L843.5,286.2 L845.0,286.2 L846.5,286.2 L848.0,286.2 L849.5,286.2 L851.0,286.2 L852.5,286.2 L854.0,286.2 L855.5,286.2 L857.0,286.2 L858.5,286.2 L860.0,286.2 L861.5,286.2 L863.0,286.2 L864.5,286.2 L866.0,286.2 L867.5,286.2 L869.0,286.2 L870.5,286.2 L872.0,286.2 L873.5,286.2 L875.0,286.2 L876.5,286.2 L878.0,286.2 L879.5,286.2 L881.0,286.2 L882.5,286.2 L884.0,286.2 L885.5,286.2 L887.0,286.2 L888.5,286.2 L890.0,286.2 L891.5,286.2 L893.0,286.2 L894.5,286.2 L896.0,286.2 L897.5,286.2 L899.0,286.2 L900.5,286.2 L902.0,286.2 L903.5,286.2 L905.0,286.2 L906.5,286.2 L908.0,286.2 L909.5,286.2 L911.0,286.2 L912.5,286.2 L914.0,286.2 L915.5,286.2 L917.0,286.2 L918.5,286.2 L920.0,286.2 L921.5,286.2 L923.0,286.2 L924.5,286.2 L926.0,286.2 L927.5,286.2 L929.0,286.2 L930.5,286.2 L932.0,286.2 L933.5,286.2 L935.0,286.2 L936.5,286.2 L938.0,286.2 L939.5,286.2 L941.0,286.2 L942.5,286.2 L944.0,286.2 L945.5,286.2 L947.0,286.2 L948.5,286.2 L950.0,286.2 L951.5,286.2 L953.0,286.2 L954.5,286.2 L956.0,286.2 L957.5,286.2 L959.0,286.2 L960.5,286.2 L962.0,286.2 L963.5,286.2 L965.0,286.2 L966.5,286.2 L968.0,286.2 L969.5,286.2 L971.0,286.2 L972.5,286.2 L974.0,286.2 L975.5,286.2 L977.0,286.2 L978.5,286.2 L980.0,286.2 L981.5,286.2 L983.0,286.2 L984.5,286.2 L986.0,286.2 L987.5,286.2 L989.0,286.2 L990.5,286.2 L992.0,286.2 L993.5,286.2 L995.0,286.2 L996.5,286.2 L998.0,286.2 L999.5,286.2 L1001.0,286.2 L1002.5,286.2 L1004.0,286.2 L1005.5,286.2 L1007.0,286.2 L1008.5,286.2 L1010.0,286.2 L1011.5,286.2 L1013.0,286.2 L1014.5,286.2 L1016.0,286.2 L1017.5,286.2 L1019.0,286.2 L1020.5,286.2 L1022.0,286.2 L1023.5,286.2 L1025.0,286.2 L1026.5,286.2 L1028.0,286.2 L1029.5,286.2 L1031.0,286.2 L1032.5,286.2 L1034.0,286.2 L1035.5,286.2 L1037.0,286.2 L1038.5,286.2 L1040.0,286.2 L1041.5,286.2 L1043.0,286.2 L1044.5,286.2 L1046.0,286.2 L1047.5,286.2 L1049.0,286.2 L1050.5,286.2 L1052.0,286.2 L1053.5,286.2 L1055.0,286.2 L1056.5,286.2 L1058.0,286.2 L1059.5,286.2 L1061.0,286.2 L1062.5,286.2 L1064.0,286.2 L1065.5,286.2 L1067.0,286.2 L1068.5,286.2 L1070.0,286.2 L1071.5,286.2 L1073.0,286.2 L1074.5,286.2 L1076.0,286.2 L1077.5,286.2 L1079.0,286.2 L1080.5,286.2 L1082.0,286.2 L1083.5,286.2 L1085.0,286.2 L1086.5,286.2 L1088.0,286.2 L1089.5,286.2 L1091.0,286.2 L1092.5,286.2 L1093.5,286.2" fill="none" stroke="#000" stroke-width="3.0" stroke-linejoin="round" stroke-linecap="round"/>
<path d="M221.0,334.96 L221.0,334.8 L222.5,334.8 L224.0,334.8 L225.5,334.8 L227.0,334.8 L228.5,334.8 L230.0,334.8 L231.5,334.8 L233.0,334.8 L234.5,334.8 L236.0,334.8 L237.5,334.7 L239.0,334.7 L240.5,334.7 L242.0,334.7 L243.5,334.7 L245.0,334.7 L246.5,334.7 L248.0,334.7 L249.5,334.7 L251.0,334.6 L252.5,334.6 L254.0,334.6 L255.5,334.6 L257.0,334.6 L258.5,334.6 L260.0,334.5 L261.5,334.5 L263.0,334.5 L264.5,334.5 L266.0,334.4 L267.5,334.4 L269.0,334.4 L270.5,334.3 L272.0,334.3 L273.5,334.2 L275.0,334.1 L276.5,334.1 L278.0,334.0 L279.5,333.9 L281.0,333.7 L282.5,333.6 L284.0,333.5 L285.5,333.3 L287.0,333.2 L288.5,333.0 L290.0,332.9 L291.5,332.7 L293.0,332.6 L294.5,332.4 L296.0,332.2 L297.5,332.0 L299.0,331.8 L300.5,331.6 L302.0,331.4 L303.5,331.2 L305.0,331.0 L306.5,330.8 L308.0,330.5 L309.5,330.3 L311.0,330.0 L312.5,329.7 L314.0,329.4 L315.5,329.2 L317.0,328.9 L318.5,328.6 L320.0,328.3 L321.5,328.0 L323.0,327.6 L324.5,327.3 L326.0,327.0 L327.5,326.6 L329.0,326.2 L330.5,325.9 L332.0,325.5 L333.5,325.1 L335.0,324.7 L336.5,324.3 L338.0,323.9 L339.5,323.4 L341.0,323.0 L342.5,322.5 L344.0,322.1 L345.5,321.6 L347.0,321.2 L348.5,320.7 L350.0,320.2 L351.5,319.7 L353.0,319.2 L354.5,318.6 L356.0,318.1 L357.5,317.5 L359.0,317.0 L360.5,316.4 L362.0,315.8 L363.5,315.1 L365.0,314.5 L366.5,313.8 L368.0,313.1 L369.5,312.3 L371.0,311.6 L372.5,310.8 L374.0,310.0 L375.5,309.1 L377.0,308.3 L378.5,307.5 L380.0,306.7 L381.5,305.9 L383.0,305.1 L384.5,304.3 L386.0,303.5 L387.5,302.7 L389.0,301.9 L390.5,301.1 L392.0,300.3 L393.5,299.5 L395.0,298.7 L396.5,297.9 L398.0,297.1 L399.5,296.2 L401.0,295.4 L402.5,294.5 L404.0,293.7 L405.5,292.8 L407.0,292.0 L408.5,291.1 L410.0,290.2 L411.5,289.4 L413.0,288.5 L414.5,287.7 L416.0,286.8 L417.5,286.0 L419.0,285.1 L420.5,284.3 L422.0,283.5 L423.5,282.7 L425.0,281.9 L426.5,281.1 L428.0,280.3 L429.5,279.5 L431.0,278.8 L432.5,278.1 L434.0,277.4 L435.5,276.7 L437.0,276.0 L438.5,275.4 L440.0,274.8 L441.5,274.2 L443.0,273.6 L444.5,273.0 L446.0,272.5 L447.5,272.1 L449.0,271.7 L450.5,271.3 L452.0,271.0 L453.5,270.7 L455.0,270.5 L456.5,270.3 L458.0,270.2 L459.5,270.1 L461.0,270.0 L462.5,269.9 L464.0,269.9 L465.5,270.0 L467.0,270.1 L468.5,270.3 L470.0,270.5 L471.5,270.8 L473.0,271.1 L474.5,271.4 L476.0,271.8 L477.5,272.3 L479.0,272.8 L480.5,273.3 L482.0,273.9 L483.5,274.6 L485.0,275.2 L486.5,276.0 L488.0,276.7 L489.5,277.5 L491.0,278.2 L492.5,279.0 L494.0,279.8 L495.5,280.6 L497.0,281.3 L498.5,282.1 L500.0,282.9 L501.5,283.7 L503.0,284.5 L504.5,285.3 L506.0,286.2 L507.5,287.0 L509.0,287.8 L510.5,288.6 L512.0,289.4 L513.5,290.3 L515.0,291.1 L516.5,292.0 L518.0,292.8 L519.5,293.7 L521.0,294.6 L522.5,295.5 L524.0,296.4 L525.5,297.3 L527.0,298.2 L528.5,299.1 L530.0,300.0 L531.5,300.8 L533.0,301.6 L534.5,302.5 L536.0,303.2 L537.5,304.0 L539.0,304.8 L540.5,305.6 L542.0,306.3 L543.5,307.1 L545.0,307.8 L546.5,308.5 L548.0,309.3 L549.5,310.0 L551.0,310.7 L552.5,311.4 L554.0,312.1 L555.5,312.8 L557.0,313.5 L558.5,314.2 L560.0,314.8 L561.5,315.4 L563.0,316.1 L564.5,316.7 L566.0,317.3 L567.5,317.8 L569.0,318.4 L570.5,318.9 L572.0,319.4 L573.5,319.9 L575.0,320.4 L576.5,320.9 L578.0,321.3 L579.5,321.8 L581.0,322.2 L582.5,322.6 L584.0,323.0 L585.5,323.4 L587.0,323.7 L588.5,324.1 L590.0,324.4 L591.5,324.8 L593.0,325.1 L594.5,325.4 L596.0,325.7 L597.5,326.1 L599.0,326.4 L600.5,326.7 L602.0,327.0 L603.5,327.3 L605.0,327.6 L606.5,327.9 L608.0,328.2 L609.5,328.5 L611.0,328.8 L612.5,329.1 L614.0,329.4 L615.5,329.6 L617.0,329.9 L618.5,330.1 L620.0,330.4 L621.5,330.6 L623.0,330.8 L624.5,331.0 L626.0,331.2 L627.5,331.4 L629.0,331.6 L630.5,331.8 L632.0,332.0 L633.5,332.1 L635.0,332.3 L636.5,332.4 L638.0,332.6 L639.5,332.7 L641.0,332.8 L642.5,332.9 L644.0,333.0 L645.5,333.1 L647.0,333.2 L648.5,333.3 L650.0,333.4 L651.5,333.5 L653.0,333.5 L654.5,333.6 L656.0,333.7 L657.5,333.8 L659.0,333.8 L660.5,333.9 L662.0,334.0 L663.5,334.0 L665.0,334.1 L666.5,334.1 L668.0,334.1 L669.5,334.2 L671.0,334.2 L672.5,334.2 L674.0,334.3 L675.5,334.3 L677.0,334.3 L678.5,334.3 L680.0,334.3 L681.5,334.3 L683.0,334.4 L684.5,334.4 L686.0,334.4 L687.5,334.4 L689.0,334.4 L690.5,334.4 L692.0,334.4 L693.5,334.4 L695.0,334.5 L696.5,334.5 L698.0,334.5 L699.5,334.5 L701.0,334.5 L702.5,334.5 L704.0,334.5 L705.5,334.5 L707.0,334.5 L708.5,334.5 L710.0,334.5 L711.5,334.5 L713.0,334.5 L714.5,334.5 L716.0,334.5 L717.5,334.5 L719.0,334.6 L720.5,334.6 L722.0,334.6 L723.5,334.6 L725.0,334.6 L726.5,334.6 L728.0,334.6 L729.5,334.6 L731.0,334.6 L732.5,334.6 L734.0,334.6 L735.5,334.6 L737.0,334.6 L738.5,334.6 L740.0,334.6 L741.5,334.6 L743.0,334.6 L744.5,334.6 L746.0,334.6 L747.5,334.6 L749.0,334.6 L750.5,334.6 L752.0,334.6 L753.5,334.6 L755.0,334.6 L756.5,334.6 L758.0,334.6 L759.5,334.7 L761.0,334.7 L762.5,334.7 L764.0,334.7 L765.5,334.7 L767.0,334.7 L768.5,334.7 L770.0,334.7 L771.5,334.7 L773.0,334.7 L774.5,334.7 L776.0,334.7 L777.5,334.7 L779.0,334.7 L780.5,334.7 L782.0,334.7 L783.5,334.7 L785.0,334.7 L786.5,334.7 L788.0,334.7 L789.5,334.7 L791.0,334.7 L792.5,334.7 L794.0,334.7 L795.5,334.7 L797.0,334.7 L798.5,334.7 L800.0,334.7 L801.5,334.7 L803.0,334.7 L804.5,334.7 L806.0,334.7 L807.5,334.7 L809.0,334.7 L810.5,334.7 L812.0,334.7 L813.5,334.7 L815.0,334.7 L816.5,334.7 L818.0,334.7 L819.5,334.7 L821.0,334.7 L822.5,334.7 L824.0,334.7 L825.5,334.7 L827.0,334.7 L828.5,334.7 L830.0,334.7 L831.5,334.7 L833.0,334.7 L834.5,334.7 L836.0,334.7 L837.5,334.7 L839.0,334.7 L840.5,334.7 L842.0,334.7 L843.5,334.7 L845.0,334.7 L846.5,334.7 L848.0,334.7 L849.5,334.7 L851.0,334.7 L852.5,334.7 L854.0,334.7 L855.5,334.7 L857.0,334.7 L858.5,334.7 L860.0,334.7 L861.5,334.7 L863.0,334.7 L864.5,334.7 L866.0,334.7 L867.5,334.7 L869.0,334.7 L870.5,334.7 L872.0,334.7 L873.5,334.7 L875.0,334.7 L876.5,334.7 L878.0,334.7 L879.5,334.7 L881.0,334.7 L882.5,334.7 L884.0,334.7 L885.5,334.7 L887.0,334.7 L888.5,334.8 L890.0,334.8 L891.5,334.8 L893.0,334.8 L894.5,334.8 L896.0,334.8 L897.5,334.8 L899.0,334.8 L900.5,334.8 L902.0,334.8 L903.5,334.8 L905.0,334.8 L906.5,334.8 L908.0,334.8 L909.5,334.8 L911.0,334.8 L912.5,334.8 L914.0,334.8 L915.5,334.8 L917.0,334.8 L918.5,334.8 L920.0,334.8 L921.5,334.8 L923.0,334.8 L924.5,334.8 L926.0,334.8 L927.5,334.8 L929.0,334.8 L930.5,334.8 L932.0,334.8 L933.5,334.8 L935.0,334.8 L936.5,334.8 L938.0,334.8 L939.5,334.8 L941.0,334.8 L942.5,334.8 L944.0,334.8 L945.5,334.8 L947.0,334.8 L948.5,334.8 L950.0,334.8 L951.5,334.8 L953.0,334.8 L954.5,334.8 L956.0,334.8 L957.5,334.8 L959.0,334.8 L960.5,334.8 L962.0,334.8 L963.5,334.8 L965.0,334.8 L966.5,334.8 L968.0,334.8 L969.5,334.8 L971.0,334.8 L972.5,334.8 L974.0,334.8 L975.5,334.8 L977.0,334.8 L978.5,334.8 L980.0,334.8 L981.5,334.8 L983.0,334.8 L984.5,334.8 L986.0,334.8 L987.5,334.8 L989.0,334.8 L990.5,334.8 L992.0,334.8 L993.5,334.8 L995.0,334.8 L996.5,334.8 L998.0,334.8 L999.5,334.8 L1001.0,334.8 L1002.5,334.8 L1004.0,334.8 L1005.5,334.8 L1007.0,334.8 L1008.5,334.8 L1010.0,334.8 L1011.5,334.8 L1013.0,334.8 L1014.5,334.8 L1016.0,334.8 L1017.5,334.8 L1019.0,334.8 L1020.5,334.8 L1022.0,334.8 L1023.5,334.8 L1025.0,334.8 L1026.5,334.8 L1028.0,334.8 L1029.5,334.8 L1031.0,334.8 L1032.5,334.8 L1034.0,334.8 L1035.5,334.8 L1037.0,334.8 L1038.5,334.8 L1040.0,334.8 L1041.5,334.8 L1043.0,334.8 L1044.5,334.8 L1046.0,334.8 L1047.5,334.8 L1049.0,334.8 L1050.5,334.8 L1052.0,334.8 L1053.5,334.8 L1055.0,334.8 L1056.5,334.8 L1058.0,334.8 L1059.5,334.8 L1061.0,334.8 L1062.5,334.8 L1064.0,334.8 L1065.5,334.8 L1067.0,334.8 L1068.5,334.8 L1070.0,334.8 L1071.5,334.8 L1073.0,334.8 L1074.5,334.8 L1076.0,334.8 L1077.5,334.8 L1079.0,334.8 L1080.5,334.8 L1082.0,334.8 L1083.5,334.8 L1085.0,334.8 L1086.5,334.8 L1088.0,334.8 L1089.5,334.8 L1091.0,334.8 L1092.5,334.8 L1093.5,334.8 L1093.5,334.96 Z" fill="#1e8b77" stroke="none"/>
<path d="M221.0,334.8 L222.5,334.8 L224.0,334.8 L225.5,334.8 L227.0,334.8 L228.5,334.8 L230.0,334.8 L231.5,334.8 L233.0,334.8 L234.5,334.8 L236.0,334.8 L237.5,334.7 L239.0,334.7 L240.5,334.7 L242.0,334.7 L243.5,334.7 L245.0,334.7 L246.5,334.7 L248.0,334.7 L249.5,334.7 L251.0,334.6 L252.5,334.6 L254.0,334.6 L255.5,334.6 L257.0,334.6 L258.5,334.6 L260.0,334.5 L261.5,334.5 L263.0,334.5 L264.5,334.5 L266.0,334.4 L267.5,334.4 L269.0,334.4 L270.5,334.3 L272.0,334.3 L273.5,334.2 L275.0,334.1 L276.5,334.1 L278.0,334.0 L279.5,333.9 L281.0,333.7 L282.5,333.6 L284.0,333.5 L285.5,333.3 L287.0,333.2 L288.5,333.0 L290.0,332.9 L291.5,332.7 L293.0,332.6 L294.5,332.4 L296.0,332.2 L297.5,332.0 L299.0,331.8 L300.5,331.6 L302.0,331.4 L303.5,331.2 L305.0,331.0 L306.5,330.8 L308.0,330.5 L309.5,330.3 L311.0,330.0 L312.5,329.7 L314.0,329.4 L315.5,329.2 L317.0,328.9 L318.5,328.6 L320.0,328.3 L321.5,328.0 L323.0,327.6 L324.5,327.3 L326.0,327.0 L327.5,326.6 L329.0,326.2 L330.5,325.9 L332.0,325.5 L333.5,325.1 L335.0,324.7 L336.5,324.3 L338.0,323.9 L339.5,323.4 L341.0,323.0 L342.5,322.5 L344.0,322.1 L345.5,321.6 L347.0,321.2 L348.5,320.7 L350.0,320.2 L351.5,319.7 L353.0,319.2 L354.5,318.6 L356.0,318.1 L357.5,317.5 L359.0,317.0 L360.5,316.4 L362.0,315.8 L363.5,315.1 L365.0,314.5 L366.5,313.8 L368.0,313.1 L369.5,312.3 L371.0,311.6 L372.5,310.8 L374.0,310.0 L375.5,309.1 L377.0,308.3 L378.5,307.5 L380.0,306.7 L381.5,305.9 L383.0,305.1 L384.5,304.3 L386.0,303.5 L387.5,302.7 L389.0,301.9 L390.5,301.1 L392.0,300.3 L393.5,299.5 L395.0,298.7 L396.5,297.9 L398.0,297.1 L399.5,296.2 L401.0,295.4 L402.5,294.5 L404.0,293.7 L405.5,292.8 L407.0,292.0 L408.5,291.1 L410.0,290.2 L411.5,289.4 L413.0,288.5 L414.5,287.7 L416.0,286.8 L417.5,286.0 L419.0,285.1 L420.5,284.3 L422.0,283.5 L423.5,282.7 L425.0,281.9 L426.5,281.1 L428.0,280.3 L429.5,279.5 L431.0,278.8 L432.5,278.1 L434.0,277.4 L435.5,276.7 L437.0,276.0 L438.5,275.4 L440.0,274.8 L441.5,274.2 L443.0,273.6 L444.5,273.0 L446.0,272.5 L447.5,272.1 L449.0,271.7 L450.5,271.3 L452.0,271.0 L453.5,270.7 L455.0,270.5 L456.5,270.3 L458.0,270.2 L459.5,270.1 L461.0,270.0 L462.5,269.9 L464.0,269.9 L465.5,270.0 L467.0,270.1 L468.5,270.3 L470.0,270.5 L471.5,270.8 L473.0,271.1 L474.5,271.4 L476.0,271.8 L477.5,272.3 L479.0,272.8 L480.5,273.3 L482.0,273.9 L483.5,274.6 L485.0,275.2 L486.5,276.0 L488.0,276.7 L489.5,277.5 L491.0,278.2 L492.5,279.0 L494.0,279.8 L495.5,280.6 L497.0,281.3 L498.5,282.1 L500.0,282.9 L501.5,283.7 L503.0,284.5 L504.5,285.3 L506.0,286.2 L507.5,287.0 L509.0,287.8 L510.5,288.6 L512.0,289.4 L513.5,290.3 L515.0,291.1 L516.5,292.0 L518.0,292.8 L519.5,293.7 L521.0,294.6 L522.5,295.5 L524.0,296.4 L525.5,297.3 L527.0,298.2 L528.5,299.1 L530.0,300.0 L531.5,300.8 L533.0,301.6 L534.5,302.5 L536.0,303.2 L537.5,304.0 L539.0,304.8 L540.5,305.6 L542.0,306.3 L543.5,307.1 L545.0,307.8 L546.5,308.5 L548.0,309.3 L549.5,310.0 L551.0,310.7 L552.5,311.4 L554.0,312.1 L555.5,312.8 L557.0,313.5 L558.5,314.2 L560.0,314.8 L561.5,315.4 L563.0,316.1 L564.5,316.7 L566.0,317.3 L567.5,317.8 L569.0,318.4 L570.5,318.9 L572.0,319.4 L573.5,319.9 L575.0,320.4 L576.5,320.9 L578.0,321.3 L579.5,321.8 L581.0,322.2 L582.5,322.6 L584.0,323.0 L585.5,323.4 L587.0,323.7 L588.5,324.1 L590.0,324.4 L591.5,324.8 L593.0,325.1 L594.5,325.4 L596.0,325.7 L597.5,326.1 L599.0,326.4 L600.5,326.7 L602.0,327.0 L603.5,327.3 L605.0,327.6 L606.5,327.9 L608.0,328.2 L609.5,328.5 L611.0,328.8 L612.5,329.1 L614.0,329.4 L615.5,329.6 L617.0,329.9 L618.5,330.1 L620.0,330.4 L621.5,330.6 L623.0,330.8 L624.5,331.0 L626.0,331.2 L627.5,331.4 L629.0,331.6 L630.5,331.8 L632.0,332.0 L633.5,332.1 L635.0,332.3 L636.5,332.4 L638.0,332.6 L639.5,332.7 L641.0,332.8 L642.5,332.9 L644.0,333.0 L645.5,333.1 L647.0,333.2 L648.5,333.3 L650.0,333.4 L651.5,333.5 L653.0,333.5 L654.5,333.6 L656.0,333.7 L657.5,333.8 L659.0,333.8 L660.5,333.9 L662.0,334.0 L663.5,334.0 L665.0,334.1 L666.5,334.1 L668.0,334.1 L669.5,334.2 L671.0,334.2 L672.5,334.2 L674.0,334.3 L675.5,334.3 L677.0,334.3 L678.5,334.3 L680.0,334.3 L681.5,334.3 L683.0,334.4 L684.5,334.4 L686.0,334.4 L687.5,334.4 L689.0,334.4 L690.5,334.4 L692.0,334.4 L693.5,334.4 L695.0,334.5 L696.5,334.5 L698.0,334.5 L699.5,334.5 L701.0,334.5 L702.5,334.5 L704.0,334.5 L705.5,334.5 L707.0,334.5 L708.5,334.5 L710.0,334.5 L711.5,334.5 L713.0,334.5 L714.5,334.5 L716.0,334.5 L717.5,334.5 L719.0,334.6 L720.5,334.6 L722.0,334.6 L723.5,334.6 L725.0,334.6 L726.5,334.6 L728.0,334.6 L729.5,334.6 L731.0,334.6 L732.5,334.6 L734.0,334.6 L735.5,334.6 L737.0,334.6 L738.5,334.6 L740.0,334.6 L741.5,334.6 L743.0,334.6 L744.5,334.6 L746.0,334.6 L747.5,334.6 L749.0,334.6 L750.5,334.6 L752.0,334.6 L753.5,334.6 L755.0,334.6 L756.5,334.6 L758.0,334.6 L759.5,334.7 L761.0,334.7 L762.5,334.7 L764.0,334.7 L765.5,334.7 L767.0,334.7 L768.5,334.7 L770.0,334.7 L771.5,334.7 L773.0,334.7 L774.5,334.7 L776.0,334.7 L777.5,334.7 L779.0,334.7 L780.5,334.7 L782.0,334.7 L783.5,334.7 L785.0,334.7 L786.5,334.7 L788.0,334.7 L789.5,334.7 L791.0,334.7 L792.5,334.7 L794.0,334.7 L795.5,334.7 L797.0,334.7 L798.5,334.7 L800.0,334.7 L801.5,334.7 L803.0,334.7 L804.5,334.7 L806.0,334.7 L807.5,334.7 L809.0,334.7 L810.5,334.7 L812.0,334.7 L813.5,334.7 L815.0,334.7 L816.5,334.7 L818.0,334.7 L819.5,334.7 L821.0,334.7 L822.5,334.7 L824.0,334.7 L825.5,334.7 L827.0,334.7 L828.5,334.7 L830.0,334.7 L831.5,334.7 L833.0,334.7 L834.5,334.7 L836.0,334.7 L837.5,334.7 L839.0,334.7 L840.5,334.7 L842.0,334.7 L843.5,334.7 L845.0,334.7 L846.5,334.7 L848.0,334.7 L849.5,334.7 L851.0,334.7 L852.5,334.7 L854.0,334.7 L855.5,334.7 L857.0,334.7 L858.5,334.7 L860.0,334.7 L861.5,334.7 L863.0,334.7 L864.5,334.7 L866.0,334.7 L867.5,334.7 L869.0,334.7 L870.5,334.7 L872.0,334.7 L873.5,334.7 L875.0,334.7 L876.5,334.7 L878.0,334.7 L879.5,334.7 L881.0,334.7 L882.5,334.7 L884.0,334.7 L885.5,334.7 L887.0,334.7 L888.5,334.8 L890.0,334.8 L891.5,334.8 L893.0,334.8 L894.5,334.8 L896.0,334.8 L897.5,334.8 L899.0,334.8 L900.5,334.8 L902.0,334.8 L903.5,334.8 L905.0,334.8 L906.5,334.8 L908.0,334.8 L909.5,334.8 L911.0,334.8 L912.5,334.8 L914.0,334.8 L915.5,334.8 L917.0,334.8 L918.5,334.8 L920.0,334.8 L921.5,334.8 L923.0,334.8 L924.5,334.8 L926.0,334.8 L927.5,334.8 L929.0,334.8 L930.5,334.8 L932.0,334.8 L933.5,334.8 L935.0,334.8 L936.5,334.8 L938.0,334.8 L939.5,334.8 L941.0,334.8 L942.5,334.8 L944.0,334.8 L945.5,334.8 L947.0,334.8 L948.5,334.8 L950.0,334.8 L951.5,334.8 L953.0,334.8 L954.5,334.8 L956.0,334.8 L957.5,334.8 L959.0,334.8 L960.5,334.8 L962.0,334.8 L963.5,334.8 L965.0,334.8 L966.5,334.8 L968.0,334.8 L969.5,334.8 L971.0,334.8 L972.5,334.8 L974.0,334.8 L975.5,334.8 L977.0,334.8 L978.5,334.8 L980.0,334.8 L981.5,334.8 L983.0,334.8 L984.5,334.8 L986.0,334.8 L987.5,334.8 L989.0,334.8 L990.5,334.8 L992.0,334.8 L993.5,334.8 L995.0,334.8 L996.5,334.8 L998.0,334.8 L999.5,334.8 L1001.0,334.8 L1002.5,334.8 L1004.0,334.8 L1005.5,334.8 L1007.0,334.8 L1008.5,334.8 L1010.0,334.8 L1011.5,334.8 L1013.0,334.8 L1014.5,334.8 L1016.0,334.8 L1017.5,334.8 L1019.0,334.8 L1020.5,334.8 L1022.0,334.8 L1023.5,334.8 L1025.0,334.8 L1026.5,334.8 L1028.0,334.8 L1029.5,334.8 L1031.0,334.8 L1032.5,334.8 L1034.0,334.8 L1035.5,334.8 L1037.0,334.8 L1038.5,334.8 L1040.0,334.8 L1041.5,334.8 L1043.0,334.8 L1044.5,334.8 L1046.0,334.8 L1047.5,334.8 L1049.0,334.8 L1050.5,334.8 L1052.0,334.8 L1053.5,334.8 L1055.0,334.8 L1056.5,334.8 L1058.0,334.8 L1059.5,334.8 L1061.0,334.8 L1062.5,334.8 L1064.0,334.8 L1065.5,334.8 L1067.0,334.8 L1068.5,334.8 L1070.0,334.8 L1071.5,334.8 L1073.0,334.8 L1074.5,334.8 L1076.0,334.8 L1077.5,334.8 L1079.0,334.8 L1080.5,334.8 L1082.0,334.8 L1083.5,334.8 L1085.0,334.8 L1086.5,334.8 L1088.0,334.8 L1089.5,334.8 L1091.0,334.8 L1092.5,334.8 L1093.5,334.8" fill="none" stroke="#000" stroke-width="3.0" stroke-linejoin="round" stroke-linecap="round"/>
<path d="M221.0,383.54 L221.0,383.3 L222.5,383.3 L224.0,383.3 L225.5,383.3 L227.0,383.3 L228.5,383.3 L230.0,383.3 L231.5,383.3 L233.0,383.3 L234.5,383.3 L236.0,383.3 L237.5,383.2 L239.0,383.2 L240.5,383.2 L242.0,383.2 L243.5,383.2 L245.0,383.2 L246.5,383.2 L248.0,383.2 L249.5,383.2 L251.0,383.1 L252.5,383.1 L254.0,383.1 L255.5,383.1 L257.0,383.1 L258.5,383.1 L260.0,383.0 L261.5,383.0 L263.0,383.0 L264.5,383.0 L266.0,382.9 L267.5,382.9 L269.0,382.9 L270.5,382.8 L272.0,382.8 L273.5,382.7 L275.0,382.6 L276.5,382.5 L278.0,382.4 L279.5,382.3 L281.0,382.2 L282.5,382.1 L284.0,381.9 L285.5,381.8 L287.0,381.6 L288.5,381.4 L290.0,381.3 L291.5,381.1 L293.0,380.9 L294.5,380.7 L296.0,380.4 L297.5,380.2 L299.0,379.9 L300.5,379.6 L302.0,379.3 L303.5,379.0 L305.0,378.6 L306.5,378.3 L308.0,377.8 L309.5,377.4 L311.0,376.9 L312.5,376.4 L314.0,375.9 L315.5,375.3 L317.0,374.7 L318.5,374.0 L320.0,373.3 L321.5,372.6 L323.0,371.8 L324.5,371.0 L326.0,370.2 L327.5,369.3 L329.0,368.4 L330.5,367.5 L332.0,366.6 L333.5,365.7 L335.0,364.7 L336.5,363.7 L338.0,362.6 L339.5,361.5 L341.0,360.4 L342.5,359.2 L344.0,357.9 L345.5,356.6 L347.0,355.2 L348.5,353.7 L350.0,352.1 L351.5,350.5 L353.0,348.9 L354.5,347.2 L356.0,345.5 L357.5,343.8 L359.0,342.2 L360.5,340.5 L362.0,338.9 L363.5,337.2 L365.0,335.6 L366.5,333.9 L368.0,332.3 L369.5,330.6 L371.0,329.0 L372.5,327.3 L374.0,325.7 L375.5,324.0 L377.0,322.4 L378.5,320.8 L380.0,319.2 L381.5,317.6 L383.0,316.0 L384.5,314.4 L386.0,312.9 L387.5,311.5 L389.0,310.1 L390.5,308.8 L392.0,307.5 L393.5,306.3 L395.0,305.2 L396.5,304.2 L398.0,303.2 L399.5,302.3 L401.0,301.5 L402.5,300.7 L404.0,300.1 L405.5,299.5 L407.0,298.9 L408.5,298.4 L410.0,298.0 L411.5,297.7 L413.0,297.5 L414.5,297.3 L416.0,297.2 L417.5,297.2 L419.0,297.3 L420.5,297.5 L422.0,297.8 L423.5,298.1 L425.0,298.5 L426.5,299.0 L428.0,299.6 L429.5,300.2 L431.0,300.9 L432.5,301.6 L434.0,302.5 L435.5,303.4 L437.0,304.4 L438.5,305.4 L440.0,306.5 L441.5,307.7 L443.0,308.8 L444.5,310.1 L446.0,311.3 L447.5,312.6 L449.0,313.9 L450.5,315.3 L452.0,316.6 L453.5,318.0 L455.0,319.5 L456.5,320.9 L458.0,322.3 L459.5,323.8 L461.0,325.3 L462.5,326.7 L464.0,328.2 L465.5,329.7 L467.0,331.3 L468.5,332.8 L470.0,334.3 L471.5,335.9 L473.0,337.5 L474.5,339.1 L476.0,340.7 L477.5,342.3 L479.0,343.9 L480.5,345.5 L482.0,347.2 L483.5,348.8 L485.0,350.4 L486.5,351.9 L488.0,353.5 L489.5,355.0 L491.0,356.4 L492.5,357.8 L494.0,359.2 L495.5,360.5 L497.0,361.8 L498.5,363.0 L500.0,364.1 L501.5,365.2 L503.0,366.3 L504.5,367.2 L506.0,368.1 L507.5,369.0 L509.0,369.8 L510.5,370.6 L512.0,371.4 L513.5,372.1 L515.0,372.7 L516.5,373.4 L518.0,374.0 L519.5,374.6 L521.0,375.1 L522.5,375.6 L524.0,376.1 L525.5,376.6 L527.0,377.0 L528.5,377.5 L530.0,377.9 L531.5,378.2 L533.0,378.6 L534.5,378.9 L536.0,379.3 L537.5,379.6 L539.0,379.8 L540.5,380.1 L542.0,380.3 L543.5,380.6 L545.0,380.8 L546.5,381.0 L548.0,381.2 L549.5,381.3 L551.0,381.5 L552.5,381.6 L554.0,381.8 L555.5,381.9 L557.0,382.0 L558.5,382.1 L560.0,382.2 L561.5,382.3 L563.0,382.4 L564.5,382.5 L566.0,382.6 L567.5,382.7 L569.0,382.7 L570.5,382.8 L572.0,382.8 L573.5,382.9 L575.0,382.9 L576.5,382.9 L578.0,383.0 L579.5,383.0 L581.0,383.0 L582.5,383.0 L584.0,383.1 L585.5,383.1 L587.0,383.1 L588.5,383.1 L590.0,383.1 L591.5,383.2 L593.0,383.2 L594.5,383.2 L596.0,383.2 L597.5,383.2 L599.0,383.2 L600.5,383.2 L602.0,383.2 L603.5,383.2 L605.0,383.2 L606.5,383.2 L608.0,383.2 L609.5,383.2 L611.0,383.2 L612.5,383.2 L614.0,383.2 L615.5,383.2 L617.0,383.2 L618.5,383.2 L620.0,383.2 L621.5,383.2 L623.0,383.2 L624.5,383.2 L626.0,383.2 L627.5,383.2 L629.0,383.2 L630.5,383.2 L632.0,383.2 L633.5,383.2 L635.0,383.2 L636.5,383.2 L638.0,383.2 L639.5,383.2 L641.0,383.2 L642.5,383.2 L644.0,383.2 L645.5,383.2 L647.0,383.2 L648.5,383.2 L650.0,383.2 L651.5,383.2 L653.0,383.2 L654.5,383.2 L656.0,383.2 L657.5,383.2 L659.0,383.2 L660.5,383.2 L662.0,383.2 L663.5,383.2 L665.0,383.2 L666.5,383.2 L668.0,383.2 L669.5,383.2 L671.0,383.2 L672.5,383.2 L674.0,383.2 L675.5,383.2 L677.0,383.2 L678.5,383.2 L680.0,383.2 L681.5,383.2 L683.0,383.2 L684.5,383.2 L686.0,383.2 L687.5,383.2 L689.0,383.2 L690.5,383.2 L692.0,383.2 L693.5,383.2 L695.0,383.2 L696.5,383.2 L698.0,383.2 L699.5,383.2 L701.0,383.2 L702.5,383.2 L704.0,383.2 L705.5,383.2 L707.0,383.2 L708.5,383.2 L710.0,383.2 L711.5,383.3 L713.0,383.3 L714.5,383.3 L716.0,383.3 L717.5,383.3 L719.0,383.3 L720.5,383.3 L722.0,383.3 L723.5,383.3 L725.0,383.3 L726.5,383.3 L728.0,383.3 L729.5,383.3 L731.0,383.3 L732.5,383.3 L734.0,383.3 L735.5,383.3 L737.0,383.3 L738.5,383.3 L740.0,383.3 L741.5,383.3 L743.0,383.3 L744.5,383.3 L746.0,383.3 L747.5,383.3 L749.0,383.3 L750.5,383.3 L752.0,383.3 L753.5,383.3 L755.0,383.3 L756.5,383.3 L758.0,383.3 L759.5,383.3 L761.0,383.3 L762.5,383.3 L764.0,383.3 L765.5,383.3 L767.0,383.3 L768.5,383.3 L770.0,383.3 L771.5,383.3 L773.0,383.3 L774.5,383.3 L776.0,383.3 L777.5,383.3 L779.0,383.3 L780.5,383.3 L782.0,383.3 L783.5,383.3 L785.0,383.3 L786.5,383.3 L788.0,383.3 L789.5,383.3 L791.0,383.3 L792.5,383.3 L794.0,383.3 L795.5,383.3 L797.0,383.3 L798.5,383.3 L800.0,383.3 L801.5,383.3 L803.0,383.3 L804.5,383.3 L806.0,383.3 L807.5,383.3 L809.0,383.3 L810.5,383.3 L812.0,383.3 L813.5,383.3 L815.0,383.3 L816.5,383.3 L818.0,383.3 L819.5,383.3 L821.0,383.3 L822.5,383.3 L824.0,383.3 L825.5,383.3 L827.0,383.3 L828.5,383.3 L830.0,383.3 L831.5,383.3 L833.0,383.3 L834.5,383.3 L836.0,383.3 L837.5,383.3 L839.0,383.3 L840.5,383.3 L842.0,383.3 L843.5,383.3 L845.0,383.3 L846.5,383.3 L848.0,383.3 L849.5,383.3 L851.0,383.3 L852.5,383.3 L854.0,383.3 L855.5,383.3 L857.0,383.3 L858.5,383.3 L860.0,383.3 L861.5,383.3 L863.0,383.3 L864.5,383.3 L866.0,383.3 L867.5,383.3 L869.0,383.3 L870.5,383.3 L872.0,383.3 L873.5,383.3 L875.0,383.3 L876.5,383.3 L878.0,383.3 L879.5,383.3 L881.0,383.3 L882.5,383.3 L884.0,383.3 L885.5,383.3 L887.0,383.3 L888.5,383.3 L890.0,383.3 L891.5,383.3 L893.0,383.3 L894.5,383.3 L896.0,383.3 L897.5,383.3 L899.0,383.3 L900.5,383.3 L902.0,383.3 L903.5,383.3 L905.0,383.3 L906.5,383.3 L908.0,383.3 L909.5,383.3 L911.0,383.3 L912.5,383.3 L914.0,383.3 L915.5,383.3 L917.0,383.3 L918.5,383.3 L920.0,383.3 L921.5,383.3 L923.0,383.3 L924.5,383.3 L926.0,383.3 L927.5,383.3 L929.0,383.3 L930.5,383.3 L932.0,383.3 L933.5,383.3 L935.0,383.3 L936.5,383.3 L938.0,383.3 L939.5,383.3 L941.0,383.3 L942.5,383.3 L944.0,383.3 L945.5,383.3 L947.0,383.3 L948.5,383.3 L950.0,383.3 L951.5,383.3 L953.0,383.3 L954.5,383.3 L956.0,383.3 L957.5,383.3 L959.0,383.3 L960.5,383.3 L962.0,383.3 L963.5,383.3 L965.0,383.3 L966.5,383.3 L968.0,383.3 L969.5,383.3 L971.0,383.3 L972.5,383.3 L974.0,383.3 L975.5,383.3 L977.0,383.3 L978.5,383.3 L980.0,383.3 L981.5,383.3 L983.0,383.3 L984.5,383.3 L986.0,383.3 L987.5,383.3 L989.0,383.3 L990.5,383.3 L992.0,383.3 L993.5,383.3 L995.0,383.3 L996.5,383.3 L998.0,383.3 L999.5,383.3 L1001.0,383.3 L1002.5,383.3 L1004.0,383.3 L1005.5,383.3 L1007.0,383.3 L1008.5,383.3 L1010.0,383.3 L1011.5,383.3 L1013.0,383.3 L1014.5,383.3 L1016.0,383.3 L1017.5,383.3 L1019.0,383.3 L1020.5,383.3 L1022.0,383.3 L1023.5,383.3 L1025.0,383.3 L1026.5,383.3 L1028.0,383.3 L1029.5,383.3 L1031.0,383.3 L1032.5,383.3 L1034.0,383.3 L1035.5,383.3 L1037.0,383.3 L1038.5,383.3 L1040.0,383.3 L1041.5,383.3 L1043.0,383.3 L1044.5,383.3 L1046.0,383.3 L1047.5,383.3 L1049.0,383.3 L1050.5,383.3 L1052.0,383.3 L1053.5,383.3 L1055.0,383.3 L1056.5,383.3 L1058.0,383.3 L1059.5,383.3 L1061.0,383.3 L1062.5,383.3 L1064.0,383.3 L1065.5,383.3 L1067.0,383.3 L1068.5,383.3 L1070.0,383.3 L1071.5,383.3 L1073.0,383.3 L1074.5,383.3 L1076.0,383.3 L1077.5,383.3 L1079.0,383.3 L1080.5,383.3 L1082.0,383.3 L1083.5,383.3 L1085.0,383.3 L1086.5,383.3 L1088.0,383.3 L1089.5,383.3 L1091.0,383.3 L1092.5,383.3 L1093.5,383.3 L1093.5,383.54 Z" fill="#27a46c" stroke="none"/>
<path d="M221.0,383.3 L222.5,383.3 L224.0,383.3 L225.5,383.3 L227.0,383.3 L228.5,383.3 L230.0,383.3 L231.5,383.3 L233.0,383.3 L234.5,383.3 L236.0,383.3 L237.5,383.2 L239.0,383.2 L240.5,383.2 L242.0,383.2 L243.5,383.2 L245.0,383.2 L246.5,383.2 L248.0,383.2 L249.5,383.2 L251.0,383.1 L252.5,383.1 L254.0,383.1 L255.5,383.1 L257.0,383.1 L258.5,383.1 L260.0,383.0 L261.5,383.0 L263.0,383.0 L264.5,383.0 L266.0,382.9 L267.5,382.9 L269.0,382.9 L270.5,382.8 L272.0,382.8 L273.5,382.7 L275.0,382.6 L276.5,382.5 L278.0,382.4 L279.5,382.3 L281.0,382.2 L282.5,382.1 L284.0,381.9 L285.5,381.8 L287.0,381.6 L288.5,381.4 L290.0,381.3 L291.5,381.1 L293.0,380.9 L294.5,380.7 L296.0,380.4 L297.5,380.2 L299.0,379.9 L300.5,379.6 L302.0,379.3 L303.5,379.0 L305.0,378.6 L306.5,378.3 L308.0,377.8 L309.5,377.4 L311.0,376.9 L312.5,376.4 L314.0,375.9 L315.5,375.3 L317.0,374.7 L318.5,374.0 L320.0,373.3 L321.5,372.6 L323.0,371.8 L324.5,371.0 L326.0,370.2 L327.5,369.3 L329.0,368.4 L330.5,367.5 L332.0,366.6 L333.5,365.7 L335.0,364.7 L336.5,363.7 L338.0,362.6 L339.5,361.5 L341.0,360.4 L342.5,359.2 L344.0,357.9 L345.5,356.6 L347.0,355.2 L348.5,353.7 L350.0,352.1 L351.5,350.5 L353.0,348.9 L354.5,347.2 L356.0,345.5 L357.5,343.8 L359.0,342.2 L360.5,340.5 L362.0,338.9 L363.5,337.2 L365.0,335.6 L366.5,333.9 L368.0,332.3 L369.5,330.6 L371.0,329.0 L372.5,327.3 L374.0,325.7 L375.5,324.0 L377.0,322.4 L378.5,320.8 L380.0,319.2 L381.5,317.6 L383.0,316.0 L384.5,314.4 L386.0,312.9 L387.5,311.5 L389.0,310.1 L390.5,308.8 L392.0,307.5 L393.5,306.3 L395.0,305.2 L396.5,304.2 L398.0,303.2 L399.5,302.3 L401.0,301.5 L402.5,300.7 L404.0,300.1 L405.5,299.5 L407.0,298.9 L408.5,298.4 L410.0,298.0 L411.5,297.7 L413.0,297.5 L414.5,297.3 L416.0,297.2 L417.5,297.2 L419.0,297.3 L420.5,297.5 L422.0,297.8 L423.5,298.1 L425.0,298.5 L426.5,299.0 L428.0,299.6 L429.5,300.2 L431.0,300.9 L432.5,301.6 L434.0,302.5 L435.5,303.4 L437.0,304.4 L438.5,305.4 L440.0,306.5 L441.5,307.7 L443.0,308.8 L444.5,310.1 L446.0,311.3 L447.5,312.6 L449.0,313.9 L450.5,315.3 L452.0,316.6 L453.5,318.0 L455.0,319.5 L456.5,320.9 L458.0,322.3 L459.5,323.8 L461.0,325.3 L462.5,326.7 L464.0,328.2 L465.5,329.7 L467.0,331.3 L468.5,332.8 L470.0,334.3 L471.5,335.9 L473.0,337.5 L474.5,339.1 L476.0,340.7 L477.5,342.3 L479.0,343.9 L480.5,345.5 L482.0,347.2 L483.5,348.8 L485.0,350.4 L486.5,351.9 L488.0,353.5 L489.5,355.0 L491.0,356.4 L492.5,357.8 L494.0,359.2 L495.5,360.5 L497.0,361.8 L498.5,363.0 L500.0,364.1 L501.5,365.2 L503.0,366.3 L504.5,367.2 L506.0,368.1 L507.5,369.0 L509.0,369.8 L510.5,370.6 L512.0,371.4 L513.5,372.1 L515.0,372.7 L516.5,373.4 L518.0,374.0 L519.5,374.6 L521.0,375.1 L522.5,375.6 L524.0,376.1 L525.5,376.6 L527.0,377.0 L528.5,377.5 L530.0,377.9 L531.5,378.2 L533.0,378.6 L534.5,378.9 L536.0,379.3 L537.5,379.6 L539.0,379.8 L540.5,380.1 L542.0,380.3 L543.5,380.6 L545.0,380.8 L546.5,381.0 L548.0,381.2 L549.5,381.3 L551.0,381.5 L552.5,381.6 L554.0,381.8 L555.5,381.9 L557.0,382.0 L558.5,382.1 L560.0,382.2 L561.5,382.3 L563.0,382.4 L564.5,382.5 L566.0,382.6 L567.5,382.7 L569.0,382.7 L570.5,382.8 L572.0,382.8 L573.5,382.9 L575.0,382.9 L576.5,382.9 L578.0,383.0 L579.5,383.0 L581.0,383.0 L582.5,383.0 L584.0,383.1 L585.5,383.1 L587.0,383.1 L588.5,383.1 L590.0,383.1 L591.5,383.2 L593.0,383.2 L594.5,383.2 L596.0,383.2 L597.5,383.2 L599.0,383.2 L600.5,383.2 L602.0,383.2 L603.5,383.2 L605.0,383.2 L606.5,383.2 L608.0,383.2 L609.5,383.2 L611.0,383.2 L612.5,383.2 L614.0,383.2 L615.5,383.2 L617.0,383.2 L618.5,383.2 L620.0,383.2 L621.5,383.2 L623.0,383.2 L624.5,383.2 L626.0,383.2 L627.5,383.2 L629.0,383.2 L630.5,383.2 L632.0,383.2 L633.5,383.2 L635.0,383.2 L636.5,383.2 L638.0,383.2 L639.5,383.2 L641.0,383.2 L642.5,383.2 L644.0,383.2 L645.5,383.2 L647.0,383.2 L648.5,383.2 L650.0,383.2 L651.5,383.2 L653.0,383.2 L654.5,383.2 L656.0,383.2 L657.5,383.2 L659.0,383.2 L660.5,383.2 L662.0,383.2 L663.5,383.2 L665.0,383.2 L666.5,383.2 L668.0,383.2 L669.5,383.2 L671.0,383.2 L672.5,383.2 L674.0,383.2 L675.5,383.2 L677.0,383.2 L678.5,383.2 L680.0,383.2 L681.5,383.2 L683.0,383.2 L684.5,383.2 L686.0,383.2 L687.5,383.2 L689.0,383.2 L690.5,383.2 L692.0,383.2 L693.5,383.2 L695.0,383.2 L696.5,383.2 L698.0,383.2 L699.5,383.2 L701.0,383.2 L702.5,383.2 L704.0,383.2 L705.5,383.2 L707.0,383.2 L708.5,383.2 L710.0,383.2 L711.5,383.3 L713.0,383.3 L714.5,383.3 L716.0,383.3 L717.5,383.3 L719.0,383.3 L720.5,383.3 L722.0,383.3 L723.5,383.3 L725.0,383.3 L726.5,383.3 L728.0,383.3 L729.5,383.3 L731.0,383.3 L732.5,383.3 L734.0,383.3 L735.5,383.3 L737.0,383.3 L738.5,383.3 L740.0,383.3 L741.5,383.3 L743.0,383.3 L744.5,383.3 L746.0,383.3 L747.5,383.3 L749.0,383.3 L750.5,383.3 L752.0,383.3 L753.5,383.3 L755.0,383.3 L756.5,383.3 L758.0,383.3 L759.5,383.3 L761.0,383.3 L762.5,383.3 L764.0,383.3 L765.5,383.3 L767.0,383.3 L768.5,383.3 L770.0,383.3 L771.5,383.3 L773.0,383.3 L774.5,383.3 L776.0,383.3 L777.5,383.3 L779.0,383.3 L780.5,383.3 L782.0,383.3 L783.5,383.3 L785.0,383.3 L786.5,383.3 L788.0,383.3 L789.5,383.3 L791.0,383.3 L792.5,383.3 L794.0,383.3 L795.5,383.3 L797.0,383.3 L798.5,383.3 L800.0,383.3 L801.5,383.3 L803.0,383.3 L804.5,383.3 L806.0,383.3 L807.5,383.3 L809.0,383.3 L810.5,383.3 L812.0,383.3 L813.5,383.3 L815.0,383.3 L816.5,383.3 L818.0,383.3 L819.5,383.3 L821.0,383.3 L822.5,383.3 L824.0,383.3 L825.5,383.3 L827.0,383.3 L828.5,383.3 L830.0,383.3 L831.5,383.3 L833.0,383.3 L834.5,383.3 L836.0,383.3 L837.5,383.3 L839.0,383.3 L840.5,383.3 L842.0,383.3 L843.5,383.3 L845.0,383.3 L846.5,383.3 L848.0,383.3 L849.5,383.3 L851.0,383.3 L852.5,383.3 L854.0,383.3 L855.5,383.3 L857.0,383.3 L858.5,383.3 L860.0,383.3 L861.5,383.3 L863.0,383.3 L864.5,383.3 L866.0,383.3 L867.5,383.3 L869.0,383.3 L870.5,383.3 L872.0,383.3 L873.5,383.3 L875.0,383.3 L876.5,383.3 L878.0,383.3 L879.5,383.3 L881.0,383.3 L882.5,383.3 L884.0,383.3 L885.5,383.3 L887.0,383.3 L888.5,383.3 L890.0,383.3 L891.5,383.3 L893.0,383.3 L894.5,383.3 L896.0,383.3 L897.5,383.3 L899.0,383.3 L900.5,383.3 L902.0,383.3 L903.5,383.3 L905.0,383.3 L906.5,383.3 L908.0,383.3 L909.5,383.3 L911.0,383.3 L912.5,383.3 L914.0,383.3 L915.5,383.3 L917.0,383.3 L918.5,383.3 L920.0,383.3 L921.5,383.3 L923.0,383.3 L924.5,383.3 L926.0,383.3 L927.5,383.3 L929.0,383.3 L930.5,383.3 L932.0,383.3 L933.5,383.3 L935.0,383.3 L936.5,383.3 L938.0,383.3 L939.5,383.3 L941.0,383.3 L942.5,383.3 L944.0,383.3 L945.5,383.3 L947.0,383.3 L948.5,383.3 L950.0,383.3 L951.5,383.3 L953.0,383.3 L954.5,383.3 L956.0,383.3 L957.5,383.3 L959.0,383.3 L960.5,383.3 L962.0,383.3 L963.5,383.3 L965.0,383.3 L966.5,383.3 L968.0,383.3 L969.5,383.3 L971.0,383.3 L972.5,383.3 L974.0,383.3 L975.5,383.3 L977.0,383.3 L978.5,383.3 L980.0,383.3 L981.5,383.3 L983.0,383.3 L984.5,383.3 L986.0,383.3 L987.5,383.3 L989.0,383.3 L990.5,383.3 L992.0,383.3 L993.5,383.3 L995.0,383.3 L996.5,383.3 L998.0,383.3 L999.5,383.3 L1001.0,383.3 L1002.5,383.3 L1004.0,383.3 L1005.5,383.3 L1007.0,383.3 L1008.5,383.3 L1010.0,383.3 L1011.5,383.3 L1013.0,383.3 L1014.5,383.3 L1016.0,383.3 L1017.5,383.3 L1019.0,383.3 L1020.5,383.3 L1022.0,383.3 L1023.5,383.3 L1025.0,383.3 L1026.5,383.3 L1028.0,383.3 L1029.5,383.3 L1031.0,383.3 L1032.5,383.3 L1034.0,383.3 L1035.5,383.3 L1037.0,383.3 L1038.5,383.3 L1040.0,383.3 L1041.5,383.3 L1043.0,383.3 L1044.5,383.3 L1046.0,383.3 L1047.5,383.3 L1049.0,383.3 L1050.5,383.3 L1052.0,383.3 L1053.5,383.3 L1055.0,383.3 L1056.5,383.3 L1058.0,383.3 L1059.5,383.3 L1061.0,383.3 L1062.5,383.3 L1064.0,383.3 L1065.5,383.3 L1067.0,383.3 L1068.5,383.3 L1070.0,383.3 L1071.5,383.3 L1073.0,383.3 L1074.5,383.3 L1076.0,383.3 L1077.5,383.3 L1079.0,383.3 L1080.5,383.3 L1082.0,383.3 L1083.5,383.3 L1085.0,383.3 L1086.5,383.3 L1088.0,383.3 L1089.5,383.3 L1091.0,383.3 L1092.5,383.3 L1093.5,383.3" fill="none" stroke="#000" stroke-width="3.0" stroke-linejoin="round" stroke-linecap="round"/>
<path d="M221.0,432.12 L221.0,431.9 L222.5,431.9 L224.0,431.9 L225.5,431.9 L227.0,431.9 L228.5,431.9 L230.0,431.9 L231.5,431.8 L233.0,431.8 L234.5,431.8 L236.0,431.8 L237.5,431.8 L239.0,431.8 L240.5,431.7 L242.0,431.7 L243.5,431.7 L245.0,431.6 L246.5,431.6 L248.0,431.6 L249.5,431.5 L251.0,431.5 L252.5,431.4 L254.0,431.3 L255.5,431.2 L257.0,431.1 L258.5,430.9 L260.0,430.8 L261.5,430.6 L263.0,430.4 L264.5,430.1 L266.0,429.9 L267.5,429.7 L269.0,429.4 L270.5,429.1 L272.0,428.9 L273.5,428.6 L275.0,428.2 L276.5,427.9 L278.0,427.5 L279.5,427.1 L281.0,426.7 L282.5,426.3 L284.0,425.9 L285.5,425.4 L287.0,424.9 L288.5,424.4 L290.0,423.8 L291.5,423.3 L293.0,422.6 L294.5,422.0 L296.0,421.3 L297.5,420.6 L299.0,419.9 L300.5,419.1 L302.0,418.4 L303.5,417.6 L305.0,416.7 L306.5,415.8 L308.0,414.9 L309.5,414.0 L311.0,413.0 L312.5,412.0 L314.0,411.0 L315.5,410.0 L317.0,408.9 L318.5,407.8 L320.0,406.6 L321.5,405.5 L323.0,404.3 L324.5,403.1 L326.0,401.9 L327.5,400.6 L329.0,399.3 L330.5,398.0 L332.0,396.7 L333.5,395.3 L335.0,393.9 L336.5,392.5 L338.0,391.0 L339.5,389.5 L341.0,388.0 L342.5,386.4 L344.0,384.8 L345.5,383.2 L347.0,381.5 L348.5,379.9 L350.0,378.3 L351.5,376.8 L353.0,375.3 L354.5,373.8 L356.0,372.4 L357.5,371.1 L359.0,369.8 L360.5,368.6 L362.0,367.4 L363.5,366.3 L365.0,365.2 L366.5,364.2 L368.0,363.2 L369.5,362.3 L371.0,361.5 L372.5,360.8 L374.0,360.1 L375.5,359.5 L377.0,358.9 L378.5,358.4 L380.0,358.0 L381.5,357.7 L383.0,357.4 L384.5,357.2 L386.0,357.0 L387.5,357.0 L389.0,357.0 L390.5,357.1 L392.0,357.2 L393.5,357.4 L395.0,357.7 L396.5,358.0 L398.0,358.3 L399.5,358.7 L401.0,359.2 L402.5,359.7 L404.0,360.3 L405.5,360.9 L407.0,361.6 L408.5,362.4 L410.0,363.2 L411.5,364.0 L413.0,364.9 L414.5,365.8 L416.0,366.7 L417.5,367.6 L419.0,368.6 L420.5,369.5 L422.0,370.5 L423.5,371.5 L425.0,372.6 L426.5,373.6 L428.0,374.7 L429.5,375.8 L431.0,376.9 L432.5,378.0 L434.0,379.2 L435.5,380.4 L437.0,381.6 L438.5,382.8 L440.0,384.0 L441.5,385.3 L443.0,386.6 L444.5,387.8 L446.0,389.0 L447.5,390.2 L449.0,391.4 L450.5,392.5 L452.0,393.6 L453.5,394.6 L455.0,395.6 L456.5,396.5 L458.0,397.4 L459.5,398.3 L461.0,399.1 L462.5,399.9 L464.0,400.7 L465.5,401.5 L467.0,402.2 L468.5,402.9 L470.0,403.5 L471.5,404.1 L473.0,404.7 L474.5,405.3 L476.0,405.8 L477.5,406.4 L479.0,406.9 L480.5,407.4 L482.0,407.9 L483.5,408.3 L485.0,408.8 L486.5,409.3 L488.0,409.7 L489.5,410.2 L491.0,410.6 L492.5,411.0 L494.0,411.5 L495.5,411.9 L497.0,412.3 L498.5,412.7 L500.0,413.1 L501.5,413.6 L503.0,414.0 L504.5,414.4 L506.0,414.8 L507.5,415.2 L509.0,415.7 L510.5,416.1 L512.0,416.5 L513.5,417.0 L515.0,417.4 L516.5,417.8 L518.0,418.2 L519.5,418.6 L521.0,419.0 L522.5,419.5 L524.0,419.9 L525.5,420.3 L527.0,420.7 L528.5,421.1 L530.0,421.5 L531.5,421.8 L533.0,422.2 L534.5,422.6 L536.0,423.0 L537.5,423.3 L539.0,423.7 L540.5,424.1 L542.0,424.4 L543.5,424.7 L545.0,425.1 L546.5,425.4 L548.0,425.7 L549.5,426.0 L551.0,426.3 L552.5,426.6 L554.0,426.9 L555.5,427.1 L557.0,427.4 L558.5,427.6 L560.0,427.8 L561.5,428.0 L563.0,428.2 L564.5,428.4 L566.0,428.6 L567.5,428.8 L569.0,428.9 L570.5,429.1 L572.0,429.2 L573.5,429.4 L575.0,429.5 L576.5,429.6 L578.0,429.8 L579.5,429.9 L581.0,430.0 L582.5,430.1 L584.0,430.3 L585.5,430.4 L587.0,430.5 L588.5,430.6 L590.0,430.7 L591.5,430.8 L593.0,430.8 L594.5,430.9 L596.0,431.0 L597.5,431.0 L599.0,431.1 L600.5,431.1 L602.0,431.2 L603.5,431.2 L605.0,431.3 L606.5,431.3 L608.0,431.3 L609.5,431.3 L611.0,431.4 L612.5,431.4 L614.0,431.4 L615.5,431.5 L617.0,431.5 L618.5,431.5 L620.0,431.5 L621.5,431.6 L623.0,431.6 L624.5,431.6 L626.0,431.6 L627.5,431.6 L629.0,431.7 L630.5,431.7 L632.0,431.7 L633.5,431.7 L635.0,431.7 L636.5,431.7 L638.0,431.7 L639.5,431.7 L641.0,431.8 L642.5,431.8 L644.0,431.8 L645.5,431.8 L647.0,431.8 L648.5,431.8 L650.0,431.8 L651.5,431.8 L653.0,431.8 L654.5,431.8 L656.0,431.8 L657.5,431.8 L659.0,431.8 L660.5,431.8 L662.0,431.8 L663.5,431.8 L665.0,431.8 L666.5,431.8 L668.0,431.8 L669.5,431.8 L671.0,431.8 L672.5,431.8 L674.0,431.8 L675.5,431.8 L677.0,431.8 L678.5,431.8 L680.0,431.8 L681.5,431.8 L683.0,431.8 L684.5,431.8 L686.0,431.8 L687.5,431.8 L689.0,431.8 L690.5,431.8 L692.0,431.8 L693.5,431.8 L695.0,431.8 L696.5,431.8 L698.0,431.8 L699.5,431.8 L701.0,431.8 L702.5,431.8 L704.0,431.8 L705.5,431.8 L707.0,431.8 L708.5,431.8 L710.0,431.8 L711.5,431.8 L713.0,431.8 L714.5,431.8 L716.0,431.8 L717.5,431.8 L719.0,431.8 L720.5,431.8 L722.0,431.8 L723.5,431.8 L725.0,431.8 L726.5,431.8 L728.0,431.8 L729.5,431.8 L731.0,431.8 L732.5,431.8 L734.0,431.8 L735.5,431.8 L737.0,431.8 L738.5,431.8 L740.0,431.8 L741.5,431.8 L743.0,431.8 L744.5,431.8 L746.0,431.8 L747.5,431.8 L749.0,431.8 L750.5,431.8 L752.0,431.8 L753.5,431.8 L755.0,431.8 L756.5,431.9 L758.0,431.9 L759.5,431.9 L761.0,431.9 L762.5,431.9 L764.0,431.9 L765.5,431.9 L767.0,431.9 L768.5,431.9 L770.0,431.9 L771.5,431.9 L773.0,431.9 L774.5,431.9 L776.0,431.9 L777.5,431.9 L779.0,431.9 L780.5,431.9 L782.0,431.9 L783.5,431.9 L785.0,431.9 L786.5,431.9 L788.0,431.9 L789.5,431.9 L791.0,431.9 L792.5,431.9 L794.0,431.9 L795.5,431.9 L797.0,431.9 L798.5,431.9 L800.0,431.9 L801.5,431.9 L803.0,431.9 L804.5,431.9 L806.0,431.9 L807.5,431.9 L809.0,431.9 L810.5,431.9 L812.0,431.9 L813.5,431.9 L815.0,431.9 L816.5,431.9 L818.0,431.9 L819.5,431.9 L821.0,431.9 L822.5,431.9 L824.0,431.9 L825.5,431.9 L827.0,431.9 L828.5,431.9 L830.0,431.9 L831.5,431.9 L833.0,431.9 L834.5,431.9 L836.0,431.9 L837.5,431.9 L839.0,431.9 L840.5,431.9 L842.0,431.9 L843.5,431.9 L845.0,431.9 L846.5,431.9 L848.0,431.9 L849.5,431.9 L851.0,431.9 L852.5,431.9 L854.0,431.9 L855.5,431.9 L857.0,431.9 L858.5,431.9 L860.0,431.9 L861.5,431.9 L863.0,431.9 L864.5,431.9 L866.0,431.9 L867.5,431.9 L869.0,431.9 L870.5,431.9 L872.0,431.9 L873.5,431.9 L875.0,431.9 L876.5,431.9 L878.0,431.9 L879.5,431.9 L881.0,431.9 L882.5,431.9 L884.0,431.9 L885.5,431.9 L887.0,431.9 L888.5,431.9 L890.0,431.9 L891.5,431.9 L893.0,431.9 L894.5,431.9 L896.0,431.9 L897.5,431.9 L899.0,431.9 L900.5,431.9 L902.0,431.9 L903.5,431.9 L905.0,431.9 L906.5,431.9 L908.0,431.9 L909.5,431.9 L911.0,431.9 L912.5,431.9 L914.0,431.9 L915.5,431.9 L917.0,431.9 L918.5,431.9 L920.0,431.9 L921.5,431.9 L923.0,431.9 L924.5,431.9 L926.0,431.9 L927.5,431.9 L929.0,431.9 L930.5,431.9 L932.0,431.9 L933.5,431.9 L935.0,431.9 L936.5,431.9 L938.0,431.9 L939.5,431.9 L941.0,431.9 L942.5,431.9 L944.0,431.9 L945.5,431.9 L947.0,431.9 L948.5,431.9 L950.0,431.9 L951.5,431.9 L953.0,431.9 L954.5,431.9 L956.0,431.9 L957.5,431.9 L959.0,431.9 L960.5,431.9 L962.0,431.9 L963.5,431.9 L965.0,431.9 L966.5,431.9 L968.0,431.9 L969.5,431.9 L971.0,431.9 L972.5,431.9 L974.0,431.9 L975.5,431.9 L977.0,431.9 L978.5,431.9 L980.0,431.9 L981.5,431.9 L983.0,431.9 L984.5,431.9 L986.0,431.9 L987.5,431.9 L989.0,431.9 L990.5,431.9 L992.0,431.9 L993.5,431.9 L995.0,431.9 L996.5,431.9 L998.0,431.9 L999.5,431.9 L1001.0,431.9 L1002.5,431.9 L1004.0,431.9 L1005.5,431.9 L1007.0,431.9 L1008.5,431.9 L1010.0,431.9 L1011.5,431.9 L1013.0,431.9 L1014.5,431.9 L1016.0,431.9 L1017.5,431.9 L1019.0,431.9 L1020.5,431.9 L1022.0,431.9 L1023.5,431.9 L1025.0,431.9 L1026.5,431.9 L1028.0,431.9 L1029.5,431.9 L1031.0,431.9 L1032.5,431.9 L1034.0,431.9 L1035.5,431.9 L1037.0,431.9 L1038.5,431.9 L1040.0,431.9 L1041.5,431.9 L1043.0,431.9 L1044.5,431.9 L1046.0,431.9 L1047.5,431.9 L1049.0,431.9 L1050.5,431.9 L1052.0,431.9 L1053.5,431.9 L1055.0,431.9 L1056.5,431.9 L1058.0,431.9 L1059.5,431.9 L1061.0,431.9 L1062.5,431.9 L1064.0,431.9 L1065.5,431.9 L1067.0,431.9 L1068.5,431.9 L1070.0,431.9 L1071.5,431.9 L1073.0,431.9 L1074.5,431.9 L1076.0,431.9 L1077.5,431.9 L1079.0,431.9 L1080.5,431.9 L1082.0,431.9 L1083.5,431.9 L1085.0,431.9 L1086.5,431.9 L1088.0,431.9 L1089.5,431.9 L1091.0,431.9 L1092.5,431.9 L1093.5,431.9 L1093.5,432.12 Z" fill="#46bd56" stroke="none"/>
<path d="M221.0,431.9 L222.5,431.9 L224.0,431.9 L225.5,431.9 L227.0,431.9 L228.5,431.9 L230.0,431.9 L231.5,431.8 L233.0,431.8 L234.5,431.8 L236.0,431.8 L237.5,431.8 L239.0,431.8 L240.5,431.7 L242.0,431.7 L243.5,431.7 L245.0,431.6 L246.5,431.6 L248.0,431.6 L249.5,431.5 L251.0,431.5 L252.5,431.4 L254.0,431.3 L255.5,431.2 L257.0,431.1 L258.5,430.9 L260.0,430.8 L261.5,430.6 L263.0,430.4 L264.5,430.1 L266.0,429.9 L267.5,429.7 L269.0,429.4 L270.5,429.1 L272.0,428.9 L273.5,428.6 L275.0,428.2 L276.5,427.9 L278.0,427.5 L279.5,427.1 L281.0,426.7 L282.5,426.3 L284.0,425.9 L285.5,425.4 L287.0,424.9 L288.5,424.4 L290.0,423.8 L291.5,423.3 L293.0,422.6 L294.5,422.0 L296.0,421.3 L297.5,420.6 L299.0,419.9 L300.5,419.1 L302.0,418.4 L303.5,417.6 L305.0,416.7 L306.5,415.8 L308.0,414.9 L309.5,414.0 L311.0,413.0 L312.5,412.0 L314.0,411.0 L315.5,410.0 L317.0,408.9 L318.5,407.8 L320.0,406.6 L321.5,405.5 L323.0,404.3 L324.5,403.1 L326.0,401.9 L327.5,400.6 L329.0,399.3 L330.5,398.0 L332.0,396.7 L333.5,395.3 L335.0,393.9 L336.5,392.5 L338.0,391.0 L339.5,389.5 L341.0,388.0 L342.5,386.4 L344.0,384.8 L345.5,383.2 L347.0,381.5 L348.5,379.9 L350.0,378.3 L351.5,376.8 L353.0,375.3 L354.5,373.8 L356.0,372.4 L357.5,371.1 L359.0,369.8 L360.5,368.6 L362.0,367.4 L363.5,366.3 L365.0,365.2 L366.5,364.2 L368.0,363.2 L369.5,362.3 L371.0,361.5 L372.5,360.8 L374.0,360.1 L375.5,359.5 L377.0,358.9 L378.5,358.4 L380.0,358.0 L381.5,357.7 L383.0,357.4 L384.5,357.2 L386.0,357.0 L387.5,357.0 L389.0,357.0 L390.5,357.1 L392.0,357.2 L393.5,357.4 L395.0,357.7 L396.5,358.0 L398.0,358.3 L399.5,358.7 L401.0,359.2 L402.5,359.7 L404.0,360.3 L405.5,360.9 L407.0,361.6 L408.5,362.4 L410.0,363.2 L411.5,364.0 L413.0,364.9 L414.5,365.8 L416.0,366.7 L417.5,367.6 L419.0,368.6 L420.5,369.5 L422.0,370.5 L423.5,371.5 L425.0,372.6 L426.5,373.6 L428.0,374.7 L429.5,375.8 L431.0,376.9 L432.5,378.0 L434.0,379.2 L435.5,380.4 L437.0,381.6 L438.5,382.8 L440.0,384.0 L441.5,385.3 L443.0,386.6 L444.5,387.8 L446.0,389.0 L447.5,390.2 L449.0,391.4 L450.5,392.5 L452.0,393.6 L453.5,394.6 L455.0,395.6 L456.5,396.5 L458.0,397.4 L459.5,398.3 L461.0,399.1 L462.5,399.9 L464.0,400.7 L465.5,401.5 L467.0,402.2 L468.5,402.9 L470.0,403.5 L471.5,404.1 L473.0,404.7 L474.5,405.3 L476.0,405.8 L477.5,406.4 L479.0,406.9 L480.5,407.4 L482.0,407.9 L483.5,408.3 L485.0,408.8 L486.5,409.3 L488.0,409.7 L489.5,410.2 L491.0,410.6 L492.5,411.0 L494.0,411.5 L495.5,411.9 L497.0,412.3 L498.5,412.7 L500.0,413.1 L501.5,413.6 L503.0,414.0 L504.5,414.4 L506.0,414.8 L507.5,415.2 L509.0,415.7 L510.5,416.1 L512.0,416.5 L513.5,417.0 L515.0,417.4 L516.5,417.8 L518.0,418.2 L519.5,418.6 L521.0,419.0 L522.5,419.5 L524.0,419.9 L525.5,420.3 L527.0,420.7 L528.5,421.1 L530.0,421.5 L531.5,421.8 L533.0,422.2 L534.5,422.6 L536.0,423.0 L537.5,423.3 L539.0,423.7 L540.5,424.1 L542.0,424.4 L543.5,424.7 L545.0,425.1 L546.5,425.4 L548.0,425.7 L549.5,426.0 L551.0,426.3 L552.5,426.6 L554.0,426.9 L555.5,427.1 L557.0,427.4 L558.5,427.6 L560.0,427.8 L561.5,428.0 L563.0,428.2 L564.5,428.4 L566.0,428.6 L567.5,428.8 L569.0,428.9 L570.5,429.1 L572.0,429.2 L573.5,429.4 L575.0,429.5 L576.5,429.6 L578.0,429.8 L579.5,429.9 L581.0,430.0 L582.5,430.1 L584.0,430.3 L585.5,430.4 L587.0,430.5 L588.5,430.6 L590.0,430.7 L591.5,430.8 L593.0,430.8 L594.5,430.9 L596.0,431.0 L597.5,431.0 L599.0,431.1 L600.5,431.1 L602.0,431.2 L603.5,431.2 L605.0,431.3 L606.5,431.3 L608.0,431.3 L609.5,431.3 L611.0,431.4 L612.5,431.4 L614.0,431.4 L615.5,431.5 L617.0,431.5 L618.5,431.5 L620.0,431.5 L621.5,431.6 L623.0,431.6 L624.5,431.6 L626.0,431.6 L627.5,431.6 L629.0,431.7 L630.5,431.7 L632.0,431.7 L633.5,431.7 L635.0,431.7 L636.5,431.7 L638.0,431.7 L639.5,431.7 L641.0,431.8 L642.5,431.8 L644.0,431.8 L645.5,431.8 L647.0,431.8 L648.5,431.8 L650.0,431.8 L651.5,431.8 L653.0,431.8 L654.5,431.8 L656.0,431.8 L657.5,431.8 L659.0,431.8 L660.5,431.8 L662.0,431.8 L663.5,431.8 L665.0,431.8 L666.5,431.8 L668.0,431.8 L669.5,431.8 L671.0,431.8 L672.5,431.8 L674.0,431.8 L675.5,431.8 L677.0,431.8 L678.5,431.8 L680.0,431.8 L681.5,431.8 L683.0,431.8 L684.5,431.8 L686.0,431.8 L687.5,431.8 L689.0,431.8 L690.5,431.8 L692.0,431.8 L693.5,431.8 L695.0,431.8 L696.5,431.8 L698.0,431.8 L699.5,431.8 L701.0,431.8 L702.5,431.8 L704.0,431.8 L705.5,431.8 L707.0,431.8 L708.5,431.8 L710.0,431.8 L711.5,431.8 L713.0,431.8 L714.5,431.8 L716.0,431.8 L717.5,431.8 L719.0,431.8 L720.5,431.8 L722.0,431.8 L723.5,431.8 L725.0,431.8 L726.5,431.8 L728.0,431.8 L729.5,431.8 L731.0,431.8 L732.5,431.8 L734.0,431.8 L735.5,431.8 L737.0,431.8 L738.5,431.8 L740.0,431.8 L741.5,431.8 L743.0,431.8 L744.5,431.8 L746.0,431.8 L747.5,431.8 L749.0,431.8 L750.5,431.8 L752.0,431.8 L753.5,431.8 L755.0,431.8 L756.5,431.9 L758.0,431.9 L759.5,431.9 L761.0,431.9 L762.5,431.9 L764.0,431.9 L765.5,431.9 L767.0,431.9 L768.5,431.9 L770.0,431.9 L771.5,431.9 L773.0,431.9 L774.5,431.9 L776.0,431.9 L777.5,431.9 L779.0,431.9 L780.5,431.9 L782.0,431.9 L783.5,431.9 L785.0,431.9 L786.5,431.9 L788.0,431.9 L789.5,431.9 L791.0,431.9 L792.5,431.9 L794.0,431.9 L795.5,431.9 L797.0,431.9 L798.5,431.9 L800.0,431.9 L801.5,431.9 L803.0,431.9 L804.5,431.9 L806.0,431.9 L807.5,431.9 L809.0,431.9 L810.5,431.9 L812.0,431.9 L813.5,431.9 L815.0,431.9 L816.5,431.9 L818.0,431.9 L819.5,431.9 L821.0,431.9 L822.5,431.9 L824.0,431.9 L825.5,431.9 L827.0,431.9 L828.5,431.9 L830.0,431.9 L831.5,431.9 L833.0,431.9 L834.5,431.9 L836.0,431.9 L837.5,431.9 L839.0,431.9 L840.5,431.9 L842.0,431.9 L843.5,431.9 L845.0,431.9 L846.5,431.9 L848.0,431.9 L849.5,431.9 L851.0,431.9 L852.5,431.9 L854.0,431.9 L855.5,431.9 L857.0,431.9 L858.5,431.9 L860.0,431.9 L861.5,431.9 L863.0,431.9 L864.5,431.9 L866.0,431.9 L867.5,431.9 L869.0,431.9 L870.5,431.9 L872.0,431.9 L873.5,431.9 L875.0,431.9 L876.5,431.9 L878.0,431.9 L879.5,431.9 L881.0,431.9 L882.5,431.9 L884.0,431.9 L885.5,431.9 L887.0,431.9 L888.5,431.9 L890.0,431.9 L891.5,431.9 L893.0,431.9 L894.5,431.9 L896.0,431.9 L897.5,431.9 L899.0,431.9 L900.5,431.9 L902.0,431.9 L903.5,431.9 L905.0,431.9 L906.5,431.9 L908.0,431.9 L909.5,431.9 L911.0,431.9 L912.5,431.9 L914.0,431.9 L915.5,431.9 L917.0,431.9 L918.5,431.9 L920.0,431.9 L921.5,431.9 L923.0,431.9 L924.5,431.9 L926.0,431.9 L927.5,431.9 L929.0,431.9 L930.5,431.9 L932.0,431.9 L933.5,431.9 L935.0,431.9 L936.5,431.9 L938.0,431.9 L939.5,431.9 L941.0,431.9 L942.5,431.9 L944.0,431.9 L945.5,431.9 L947.0,431.9 L948.5,431.9 L950.0,431.9 L951.5,431.9 L953.0,431.9 L954.5,431.9 L956.0,431.9 L957.5,431.9 L959.0,431.9 L960.5,431.9 L962.0,431.9 L963.5,431.9 L965.0,431.9 L966.5,431.9 L968.0,431.9 L969.5,431.9 L971.0,431.9 L972.5,431.9 L974.0,431.9 L975.5,431.9 L977.0,431.9 L978.5,431.9 L980.0,431.9 L981.5,431.9 L983.0,431.9 L984.5,431.9 L986.0,431.9 L987.5,431.9 L989.0,431.9 L990.5,431.9 L992.0,431.9 L993.5,431.9 L995.0,431.9 L996.5,431.9 L998.0,431.9 L999.5,431.9 L1001.0,431.9 L1002.5,431.9 L1004.0,431.9 L1005.5,431.9 L1007.0,431.9 L1008.5,431.9 L1010.0,431.9 L1011.5,431.9 L1013.0,431.9 L1014.5,431.9 L1016.0,431.9 L1017.5,431.9 L1019.0,431.9 L1020.5,431.9 L1022.0,431.9 L1023.5,431.9 L1025.0,431.9 L1026.5,431.9 L1028.0,431.9 L1029.5,431.9 L1031.0,431.9 L1032.5,431.9 L1034.0,431.9 L1035.5,431.9 L1037.0,431.9 L1038.5,431.9 L1040.0,431.9 L1041.5,431.9 L1043.0,431.9 L1044.5,431.9 L1046.0,431.9 L1047.5,431.9 L1049.0,431.9 L1050.5,431.9 L1052.0,431.9 L1053.5,431.9 L1055.0,431.9 L1056.5,431.9 L1058.0,431.9 L1059.5,431.9 L1061.0,431.9 L1062.5,431.9 L1064.0,431.9 L1065.5,431.9 L1067.0,431.9 L1068.5,431.9 L1070.0,431.9 L1071.5,431.9 L1073.0,431.9 L1074.5,431.9 L1076.0,431.9 L1077.5,431.9 L1079.0,431.9 L1080.5,431.9 L1082.0,431.9 L1083.5,431.9 L1085.0,431.9 L1086.5,431.9 L1088.0,431.9 L1089.5,431.9 L1091.0,431.9 L1092.5,431.9 L1093.5,431.9" fill="none" stroke="#000" stroke-width="3.0" stroke-linejoin="round" stroke-linecap="round"/>
<path d="M221.0,480.69 L221.0,480.4 L222.5,480.4 L224.0,480.4 L225.5,480.4 L227.0,480.3 L228.5,480.3 L230.0,480.3 L231.5,480.3 L233.0,480.2 L234.5,480.2 L236.0,480.1 L237.5,480.1 L239.0,480.0 L240.5,480.0 L242.0,479.9 L243.5,479.9 L245.0,479.8 L246.5,479.7 L248.0,479.7 L249.5,479.6 L251.0,479.5 L252.5,479.4 L254.0,479.3 L255.5,479.2 L257.0,479.1 L258.5,479.0 L260.0,478.9 L261.5,478.7 L263.0,478.6 L264.5,478.4 L266.0,478.2 L267.5,478.0 L269.0,477.7 L270.5,477.5 L272.0,477.2 L273.5,476.9 L275.0,476.5 L276.5,476.1 L278.0,475.7 L279.5,475.3 L281.0,474.8 L282.5,474.3 L284.0,473.8 L285.5,473.3 L287.0,472.7 L288.5,472.2 L290.0,471.6 L291.5,471.0 L293.0,470.4 L294.5,469.7 L296.0,469.0 L297.5,468.3 L299.0,467.6 L300.5,466.9 L302.0,466.1 L303.5,465.4 L305.0,464.6 L306.5,463.8 L308.0,462.9 L309.5,462.1 L311.0,461.2 L312.5,460.3 L314.0,459.4 L315.5,458.5 L317.0,457.5 L318.5,456.6 L320.0,455.6 L321.5,454.6 L323.0,453.6 L324.5,452.6 L326.0,451.6 L327.5,450.6 L329.0,449.5 L330.5,448.4 L332.0,447.4 L333.5,446.3 L335.0,445.3 L336.5,444.2 L338.0,443.1 L339.5,442.1 L341.0,441.0 L342.5,440.0 L344.0,438.9 L345.5,437.9 L347.0,436.9 L348.5,435.9 L350.0,434.9 L351.5,433.9 L353.0,433.0 L354.5,432.1 L356.0,431.3 L357.5,430.4 L359.0,429.6 L360.5,428.9 L362.0,428.2 L363.5,427.5 L365.0,426.8 L366.5,426.2 L368.0,425.6 L369.5,425.0 L371.0,424.5 L372.5,424.1 L374.0,423.7 L375.5,423.4 L377.0,423.1 L378.5,422.8 L380.0,422.7 L381.5,422.5 L383.0,422.5 L384.5,422.5 L386.0,422.6 L387.5,422.7 L389.0,422.8 L390.5,423.0 L392.0,423.2 L393.5,423.4 L395.0,423.7 L396.5,423.9 L398.0,424.2 L399.5,424.5 L401.0,424.8 L402.5,425.2 L404.0,425.5 L405.5,425.9 L407.0,426.3 L408.5,426.7 L410.0,427.2 L411.5,427.6 L413.0,428.1 L414.5,428.5 L416.0,429.0 L417.5,429.4 L419.0,429.8 L420.5,430.2 L422.0,430.7 L423.5,431.1 L425.0,431.5 L426.5,431.9 L428.0,432.3 L429.5,432.7 L431.0,433.0 L432.5,433.4 L434.0,433.8 L435.5,434.2 L437.0,434.5 L438.5,434.9 L440.0,435.2 L441.5,435.5 L443.0,435.9 L444.5,436.2 L446.0,436.5 L447.5,436.8 L449.0,437.2 L450.5,437.5 L452.0,437.8 L453.5,438.1 L455.0,438.4 L456.5,438.6 L458.0,438.9 L459.5,439.2 L461.0,439.5 L462.5,439.8 L464.0,440.1 L465.5,440.4 L467.0,440.8 L468.5,441.2 L470.0,441.5 L471.5,442.0 L473.0,442.4 L474.5,442.9 L476.0,443.4 L477.5,443.9 L479.0,444.4 L480.5,444.9 L482.0,445.5 L483.5,446.1 L485.0,446.6 L486.5,447.2 L488.0,447.8 L489.5,448.4 L491.0,449.0 L492.5,449.6 L494.0,450.2 L495.5,450.8 L497.0,451.4 L498.5,452.0 L500.0,452.6 L501.5,453.2 L503.0,453.8 L504.5,454.4 L506.0,455.0 L507.5,455.6 L509.0,456.3 L510.5,456.9 L512.0,457.5 L513.5,458.1 L515.0,458.7 L516.5,459.3 L518.0,459.8 L519.5,460.4 L521.0,461.0 L522.5,461.5 L524.0,462.1 L525.5,462.6 L527.0,463.1 L528.5,463.7 L530.0,464.2 L531.5,464.7 L533.0,465.2 L534.5,465.6 L536.0,466.1 L537.5,466.5 L539.0,467.0 L540.5,467.4 L542.0,467.8 L543.5,468.2 L545.0,468.6 L546.5,468.9 L548.0,469.3 L549.5,469.6 L551.0,470.0 L552.5,470.3 L554.0,470.6 L555.5,470.9 L557.0,471.2 L558.5,471.5 L560.0,471.8 L561.5,472.1 L563.0,472.3 L564.5,472.6 L566.0,472.8 L567.5,473.1 L569.0,473.3 L570.5,473.5 L572.0,473.7 L573.5,474.0 L575.0,474.2 L576.5,474.4 L578.0,474.6 L579.5,474.7 L581.0,474.9 L582.5,475.1 L584.0,475.3 L585.5,475.4 L587.0,475.6 L588.5,475.7 L590.0,475.9 L591.5,476.0 L593.0,476.1 L594.5,476.2 L596.0,476.3 L597.5,476.4 L599.0,476.5 L600.5,476.6 L602.0,476.7 L603.5,476.7 L605.0,476.8 L606.5,476.8 L608.0,476.9 L609.5,476.9 L611.0,476.9 L612.5,476.9 L614.0,476.9 L615.5,476.9 L617.0,476.9 L618.5,476.9 L620.0,476.8 L621.5,476.8 L623.0,476.8 L624.5,476.7 L626.0,476.7 L627.5,476.6 L629.0,476.6 L630.5,476.6 L632.0,476.5 L633.5,476.5 L635.0,476.4 L636.5,476.4 L638.0,476.3 L639.5,476.3 L641.0,476.2 L642.5,476.2 L644.0,476.2 L645.5,476.1 L647.0,476.1 L648.5,476.1 L650.0,476.1 L651.5,476.1 L653.0,476.1 L654.5,476.1 L656.0,476.1 L657.5,476.1 L659.0,476.2 L660.5,476.3 L662.0,476.3 L663.5,476.4 L665.0,476.5 L666.5,476.6 L668.0,476.7 L669.5,476.8 L671.0,477.0 L672.5,477.1 L674.0,477.2 L675.5,477.3 L677.0,477.4 L678.5,477.5 L680.0,477.6 L681.5,477.7 L683.0,477.9 L684.5,478.0 L686.0,478.1 L687.5,478.2 L689.0,478.3 L690.5,478.4 L692.0,478.5 L693.5,478.6 L695.0,478.7 L696.5,478.8 L698.0,478.9 L699.5,479.0 L701.0,479.1 L702.5,479.2 L704.0,479.3 L705.5,479.4 L707.0,479.4 L708.5,479.5 L710.0,479.6 L711.5,479.6 L713.0,479.7 L714.5,479.7 L716.0,479.8 L717.5,479.8 L719.0,479.9 L720.5,479.9 L722.0,479.9 L723.5,480.0 L725.0,480.0 L726.5,480.0 L728.0,480.1 L729.5,480.1 L731.0,480.1 L732.5,480.1 L734.0,480.1 L735.5,480.2 L737.0,480.2 L738.5,480.2 L740.0,480.2 L741.5,480.2 L743.0,480.2 L744.5,480.2 L746.0,480.2 L747.5,480.3 L749.0,480.3 L750.5,480.3 L752.0,480.3 L753.5,480.3 L755.0,480.3 L756.5,480.3 L758.0,480.3 L759.5,480.3 L761.0,480.3 L762.5,480.3 L764.0,480.3 L765.5,480.3 L767.0,480.3 L768.5,480.3 L770.0,480.3 L771.5,480.3 L773.0,480.3 L774.5,480.3 L776.0,480.3 L777.5,480.3 L779.0,480.3 L780.5,480.3 L782.0,480.3 L783.5,480.3 L785.0,480.3 L786.5,480.3 L788.0,480.3 L789.5,480.3 L791.0,480.3 L792.5,480.3 L794.0,480.3 L795.5,480.3 L797.0,480.3 L798.5,480.3 L800.0,480.3 L801.5,480.3 L803.0,480.3 L804.5,480.3 L806.0,480.3 L807.5,480.3 L809.0,480.3 L810.5,480.3 L812.0,480.3 L813.5,480.3 L815.0,480.3 L816.5,480.3 L818.0,480.3 L819.5,480.3 L821.0,480.3 L822.5,480.3 L824.0,480.3 L825.5,480.3 L827.0,480.3 L828.5,480.3 L830.0,480.3 L831.5,480.3 L833.0,480.3 L834.5,480.3 L836.0,480.3 L837.5,480.3 L839.0,480.3 L840.5,480.4 L842.0,480.4 L843.5,480.4 L845.0,480.4 L846.5,480.4 L848.0,480.4 L849.5,480.4 L851.0,480.4 L852.5,480.4 L854.0,480.4 L855.5,480.4 L857.0,480.4 L858.5,480.4 L860.0,480.4 L861.5,480.4 L863.0,480.4 L864.5,480.4 L866.0,480.4 L867.5,480.4 L869.0,480.4 L870.5,480.4 L872.0,480.4 L873.5,480.4 L875.0,480.4 L876.5,480.4 L878.0,480.4 L879.5,480.4 L881.0,480.4 L882.5,480.4 L884.0,480.4 L885.5,480.4 L887.0,480.4 L888.5,480.4 L890.0,480.4 L891.5,480.4 L893.0,480.4 L894.5,480.4 L896.0,480.4 L897.5,480.4 L899.0,480.4 L900.5,480.4 L902.0,480.4 L903.5,480.4 L905.0,480.4 L906.5,480.4 L908.0,480.4 L909.5,480.4 L911.0,480.4 L912.5,480.4 L914.0,480.4 L915.5,480.4 L917.0,480.4 L918.5,480.4 L920.0,480.4 L921.5,480.4 L923.0,480.4 L924.5,480.4 L926.0,480.4 L927.5,480.4 L929.0,480.4 L930.5,480.4 L932.0,480.4 L933.5,480.4 L935.0,480.4 L936.5,480.4 L938.0,480.4 L939.5,480.4 L941.0,480.4 L942.5,480.4 L944.0,480.4 L945.5,480.4 L947.0,480.4 L948.5,480.4 L950.0,480.4 L951.5,480.4 L953.0,480.4 L954.5,480.4 L956.0,480.4 L957.5,480.4 L959.0,480.4 L960.5,480.4 L962.0,480.4 L963.5,480.4 L965.0,480.4 L966.5,480.4 L968.0,480.4 L969.5,480.4 L971.0,480.4 L972.5,480.4 L974.0,480.4 L975.5,480.4 L977.0,480.4 L978.5,480.4 L980.0,480.4 L981.5,480.4 L983.0,480.4 L984.5,480.4 L986.0,480.4 L987.5,480.4 L989.0,480.4 L990.5,480.4 L992.0,480.4 L993.5,480.4 L995.0,480.4 L996.5,480.4 L998.0,480.4 L999.5,480.4 L1001.0,480.4 L1002.5,480.4 L1004.0,480.4 L1005.5,480.4 L1007.0,480.4 L1008.5,480.4 L1010.0,480.4 L1011.5,480.4 L1013.0,480.4 L1014.5,480.4 L1016.0,480.4 L1017.5,480.4 L1019.0,480.4 L1020.5,480.4 L1022.0,480.4 L1023.5,480.4 L1025.0,480.4 L1026.5,480.4 L1028.0,480.4 L1029.5,480.4 L1031.0,480.4 L1032.5,480.4 L1034.0,480.4 L1035.5,480.4 L1037.0,480.4 L1038.5,480.4 L1040.0,480.4 L1041.5,480.4 L1043.0,480.4 L1044.5,480.4 L1046.0,480.4 L1047.5,480.4 L1049.0,480.4 L1050.5,480.4 L1052.0,480.4 L1053.5,480.4 L1055.0,480.4 L1056.5,480.4 L1058.0,480.4 L1059.5,480.4 L1061.0,480.4 L1062.5,480.4 L1064.0,480.4 L1065.5,480.4 L1067.0,480.4 L1068.5,480.4 L1070.0,480.4 L1071.5,480.4 L1073.0,480.4 L1074.5,480.4 L1076.0,480.4 L1077.5,480.4 L1079.0,480.4 L1080.5,480.4 L1082.0,480.4 L1083.5,480.4 L1085.0,480.4 L1086.5,480.4 L1088.0,480.4 L1089.5,480.4 L1091.0,480.4 L1092.5,480.4 L1093.5,480.4 L1093.5,480.69 Z" fill="#76d039" stroke="none"/>
<path d="M221.0,480.4 L222.5,480.4 L224.0,480.4 L225.5,480.4 L227.0,480.3 L228.5,480.3 L230.0,480.3 L231.5,480.3 L233.0,480.2 L234.5,480.2 L236.0,480.1 L237.5,480.1 L239.0,480.0 L240.5,480.0 L242.0,479.9 L243.5,479.9 L245.0,479.8 L246.5,479.7 L248.0,479.7 L249.5,479.6 L251.0,479.5 L252.5,479.4 L254.0,479.3 L255.5,479.2 L257.0,479.1 L258.5,479.0 L260.0,478.9 L261.5,478.7 L263.0,478.6 L264.5,478.4 L266.0,478.2 L267.5,478.0 L269.0,477.7 L270.5,477.5 L272.0,477.2 L273.5,476.9 L275.0,476.5 L276.5,476.1 L278.0,475.7 L279.5,475.3 L281.0,474.8 L282.5,474.3 L284.0,473.8 L285.5,473.3 L287.0,472.7 L288.5,472.2 L290.0,471.6 L291.5,471.0 L293.0,470.4 L294.5,469.7 L296.0,469.0 L297.5,468.3 L299.0,467.6 L300.5,466.9 L302.0,466.1 L303.5,465.4 L305.0,464.6 L306.5,463.8 L308.0,462.9 L309.5,462.1 L311.0,461.2 L312.5,460.3 L314.0,459.4 L315.5,458.5 L317.0,457.5 L318.5,456.6 L320.0,455.6 L321.5,454.6 L323.0,453.6 L324.5,452.6 L326.0,451.6 L327.5,450.6 L329.0,449.5 L330.5,448.4 L332.0,447.4 L333.5,446.3 L335.0,445.3 L336.5,444.2 L338.0,443.1 L339.5,442.1 L341.0,441.0 L342.5,440.0 L344.0,438.9 L345.5,437.9 L347.0,436.9 L348.5,435.9 L350.0,434.9 L351.5,433.9 L353.0,433.0 L354.5,432.1 L356.0,431.3 L357.5,430.4 L359.0,429.6 L360.5,428.9 L362.0,428.2 L363.5,427.5 L365.0,426.8 L366.5,426.2 L368.0,425.6 L369.5,425.0 L371.0,424.5 L372.5,424.1 L374.0,423.7 L375.5,423.4 L377.0,423.1 L378.5,422.8 L380.0,422.7 L381.5,422.5 L383.0,422.5 L384.5,422.5 L386.0,422.6 L387.5,422.7 L389.0,422.8 L390.5,423.0 L392.0,423.2 L393.5,423.4 L395.0,423.7 L396.5,423.9 L398.0,424.2 L399.5,424.5 L401.0,424.8 L402.5,425.2 L404.0,425.5 L405.5,425.9 L407.0,426.3 L408.5,426.7 L410.0,427.2 L411.5,427.6 L413.0,428.1 L414.5,428.5 L416.0,429.0 L417.5,429.4 L419.0,429.8 L420.5,430.2 L422.0,430.7 L423.5,431.1 L425.0,431.5 L426.5,431.9 L428.0,432.3 L429.5,432.7 L431.0,433.0 L432.5,433.4 L434.0,433.8 L435.5,434.2 L437.0,434.5 L438.5,434.9 L440.0,435.2 L441.5,435.5 L443.0,435.9 L444.5,436.2 L446.0,436.5 L447.5,436.8 L449.0,437.2 L450.5,437.5 L452.0,437.8 L453.5,438.1 L455.0,438.4 L456.5,438.6 L458.0,438.9 L459.5,439.2 L461.0,439.5 L462.5,439.8 L464.0,440.1 L465.5,440.4 L467.0,440.8 L468.5,441.2 L470.0,441.5 L471.5,442.0 L473.0,442.4 L474.5,442.9 L476.0,443.4 L477.5,443.9 L479.0,444.4 L480.5,444.9 L482.0,445.5 L483.5,446.1 L485.0,446.6 L486.5,447.2 L488.0,447.8 L489.5,448.4 L491.0,449.0 L492.5,449.6 L494.0,450.2 L495.5,450.8 L497.0,451.4 L498.5,452.0 L500.0,452.6 L501.5,453.2 L503.0,453.8 L504.5,454.4 L506.0,455.0 L507.5,455.6 L509.0,456.3 L510.5,456.9 L512.0,457.5 L513.5,458.1 L515.0,458.7 L516.5,459.3 L518.0,459.8 L519.5,460.4 L521.0,461.0 L522.5,461.5 L524.0,462.1 L525.5,462.6 L527.0,463.1 L528.5,463.7 L530.0,464.2 L531.5,464.7 L533.0,465.2 L534.5,465.6 L536.0,466.1 L537.5,466.5 L539.0,467.0 L540.5,467.4 L542.0,467.8 L543.5,468.2 L545.0,468.6 L546.5,468.9 L548.0,469.3 L549.5,469.6 L551.0,470.0 L552.5,470.3 L554.0,470.6 L555.5,470.9 L557.0,471.2 L558.5,471.5 L560.0,471.8 L561.5,472.1 L563.0,472.3 L564.5,472.6 L566.0,472.8 L567.5,473.1 L569.0,473.3 L570.5,473.5 L572.0,473.7 L573.5,474.0 L575.0,474.2 L576.5,474.4 L578.0,474.6 L579.5,474.7 L581.0,474.9 L582.5,475.1 L584.0,475.3 L585.5,475.4 L587.0,475.6 L588.5,475.7 L590.0,475.9 L591.5,476.0 L593.0,476.1 L594.5,476.2 L596.0,476.3 L597.5,476.4 L599.0,476.5 L600.5,476.6 L602.0,476.7 L603.5,476.7 L605.0,476.8 L606.5,476.8 L608.0,476.9 L609.5,476.9 L611.0,476.9 L612.5,476.9 L614.0,476.9 L615.5,476.9 L617.0,476.9 L618.5,476.9 L620.0,476.8 L621.5,476.8 L623.0,476.8 L624.5,476.7 L626.0,476.7 L627.5,476.6 L629.0,476.6 L630.5,476.6 L632.0,476.5 L633.5,476.5 L635.0,476.4 L636.5,476.4 L638.0,476.3 L639.5,476.3 L641.0,476.2 L642.5,476.2 L644.0,476.2 L645.5,476.1 L647.0,476.1 L648.5,476.1 L650.0,476.1 L651.5,476.1 L653.0,476.1 L654.5,476.1 L656.0,476.1 L657.5,476.1 L659.0,476.2 L660.5,476.3 L662.0,476.3 L663.5,476.4 L665.0,476.5 L666.5,476.6 L668.0,476.7 L669.5,476.8 L671.0,477.0 L672.5,477.1 L674.0,477.2 L675.5,477.3 L677.0,477.4 L678.5,477.5 L680.0,477.6 L681.5,477.7 L683.0,477.9 L684.5,478.0 L686.0,478.1 L687.5,478.2 L689.0,478.3 L690.5,478.4 L692.0,478.5 L693.5,478.6 L695.0,478.7 L696.5,478.8 L698.0,478.9 L699.5,479.0 L701.0,479.1 L702.5,479.2 L704.0,479.3 L705.5,479.4 L707.0,479.4 L708.5,479.5 L710.0,479.6 L711.5,479.6 L713.0,479.7 L714.5,479.7 L716.0,479.8 L717.5,479.8 L719.0,479.9 L720.5,479.9 L722.0,479.9 L723.5,480.0 L725.0,480.0 L726.5,480.0 L728.0,480.1 L729.5,480.1 L731.0,480.1 L732.5,480.1 L734.0,480.1 L735.5,480.2 L737.0,480.2 L738.5,480.2 L740.0,480.2 L741.5,480.2 L743.0,480.2 L744.5,480.2 L746.0,480.2 L747.5,480.3 L749.0,480.3 L750.5,480.3 L752.0,480.3 L753.5,480.3 L755.0,480.3 L756.5,480.3 L758.0,480.3 L759.5,480.3 L761.0,480.3 L762.5,480.3 L764.0,480.3 L765.5,480.3 L767.0,480.3 L768.5,480.3 L770.0,480.3 L771.5,480.3 L773.0,480.3 L774.5,480.3 L776.0,480.3 L777.5,480.3 L779.0,480.3 L780.5,480.3 L782.0,480.3 L783.5,480.3 L785.0,480.3 L786.5,480.3 L788.0,480.3 L789.5,480.3 L791.0,480.3 L792.5,480.3 L794.0,480.3 L795.5,480.3 L797.0,480.3 L798.5,480.3 L800.0,480.3 L801.5,480.3 L803.0,480.3 L804.5,480.3 L806.0,480.3 L807.5,480.3 L809.0,480.3 L810.5,480.3 L812.0,480.3 L813.5,480.3 L815.0,480.3 L816.5,480.3 L818.0,480.3 L819.5,480.3 L821.0,480.3 L822.5,480.3 L824.0,480.3 L825.5,480.3 L827.0,480.3 L828.5,480.3 L830.0,480.3 L831.5,480.3 L833.0,480.3 L834.5,480.3 L836.0,480.3 L837.5,480.3 L839.0,480.3 L840.5,480.4 L842.0,480.4 L843.5,480.4 L845.0,480.4 L846.5,480.4 L848.0,480.4 L849.5,480.4 L851.0,480.4 L852.5,480.4 L854.0,480.4 L855.5,480.4 L857.0,480.4 L858.5,480.4 L860.0,480.4 L861.5,480.4 L863.0,480.4 L864.5,480.4 L866.0,480.4 L867.5,480.4 L869.0,480.4 L870.5,480.4 L872.0,480.4 L873.5,480.4 L875.0,480.4 L876.5,480.4 L878.0,480.4 L879.5,480.4 L881.0,480.4 L882.5,480.4 L884.0,480.4 L885.5,480.4 L887.0,480.4 L888.5,480.4 L890.0,480.4 L891.5,480.4 L893.0,480.4 L894.5,480.4 L896.0,480.4 L897.5,480.4 L899.0,480.4 L900.5,480.4 L902.0,480.4 L903.5,480.4 L905.0,480.4 L906.5,480.4 L908.0,480.4 L909.5,480.4 L911.0,480.4 L912.5,480.4 L914.0,480.4 L915.5,480.4 L917.0,480.4 L918.5,480.4 L920.0,480.4 L921.5,480.4 L923.0,480.4 L924.5,480.4 L926.0,480.4 L927.5,480.4 L929.0,480.4 L930.5,480.4 L932.0,480.4 L933.5,480.4 L935.0,480.4 L936.5,480.4 L938.0,480.4 L939.5,480.4 L941.0,480.4 L942.5,480.4 L944.0,480.4 L945.5,480.4 L947.0,480.4 L948.5,480.4 L950.0,480.4 L951.5,480.4 L953.0,480.4 L954.5,480.4 L956.0,480.4 L957.5,480.4 L959.0,480.4 L960.5,480.4 L962.0,480.4 L963.5,480.4 L965.0,480.4 L966.5,480.4 L968.0,480.4 L969.5,480.4 L971.0,480.4 L972.5,480.4 L974.0,480.4 L975.5,480.4 L977.0,480.4 L978.5,480.4 L980.0,480.4 L981.5,480.4 L983.0,480.4 L984.5,480.4 L986.0,480.4 L987.5,480.4 L989.0,480.4 L990.5,480.4 L992.0,480.4 L993.5,480.4 L995.0,480.4 L996.5,480.4 L998.0,480.4 L999.5,480.4 L1001.0,480.4 L1002.5,480.4 L1004.0,480.4 L1005.5,480.4 L1007.0,480.4 L1008.5,480.4 L1010.0,480.4 L1011.5,480.4 L1013.0,480.4 L1014.5,480.4 L1016.0,480.4 L1017.5,480.4 L1019.0,480.4 L1020.5,480.4 L1022.0,480.4 L1023.5,480.4 L1025.0,480.4 L1026.5,480.4 L1028.0,480.4 L1029.5,480.4 L1031.0,480.4 L1032.5,480.4 L1034.0,480.4 L1035.5,480.4 L1037.0,480.4 L1038.5,480.4 L1040.0,480.4 L1041.5,480.4 L1043.0,480.4 L1044.5,480.4 L1046.0,480.4 L1047.5,480.4 L1049.0,480.4 L1050.5,480.4 L1052.0,480.4 L1053.5,480.4 L1055.0,480.4 L1056.5,480.4 L1058.0,480.4 L1059.5,480.4 L1061.0,480.4 L1062.5,480.4 L1064.0,480.4 L1065.5,480.4 L1067.0,480.4 L1068.5,480.4 L1070.0,480.4 L1071.5,480.4 L1073.0,480.4 L1074.5,480.4 L1076.0,480.4 L1077.5,480.4 L1079.0,480.4 L1080.5,480.4 L1082.0,480.4 L1083.5,480.4 L1085.0,480.4 L1086.5,480.4 L1088.0,480.4 L1089.5,480.4 L1091.0,480.4 L1092.5,480.4 L1093.5,480.4" fill="none" stroke="#000" stroke-width="3.0" stroke-linejoin="round" stroke-linecap="round"/>
<path d="M221.0,529.27 L221.0,529.0 L222.5,529.0 L224.0,529.0 L225.5,529.0 L227.0,529.0 L228.5,529.0 L230.0,528.9 L231.5,528.9 L233.0,528.9 L234.5,528.9 L236.0,528.9 L237.5,528.8 L239.0,528.8 L240.5,528.8 L242.0,528.8 L243.5,528.7 L245.0,528.7 L246.5,528.6 L248.0,528.6 L249.5,528.5 L251.0,528.5 L252.5,528.4 L254.0,528.3 L255.5,528.2 L257.0,528.1 L258.5,528.0 L260.0,527.8 L261.5,527.7 L263.0,527.5 L264.5,527.3 L266.0,527.1 L267.5,526.9 L269.0,526.7 L270.5,526.5 L272.0,526.2 L273.5,526.0 L275.0,525.7 L276.5,525.4 L278.0,525.0 L279.5,524.7 L281.0,524.4 L282.5,524.0 L284.0,523.6 L285.5,523.2 L287.0,522.7 L288.5,522.3 L290.0,521.8 L291.5,521.3 L293.0,520.7 L294.5,520.2 L296.0,519.6 L297.5,518.9 L299.0,518.3 L300.5,517.6 L302.0,516.9 L303.5,516.2 L305.0,515.5 L306.5,514.7 L308.0,513.9 L309.5,513.0 L311.0,512.2 L312.5,511.3 L314.0,510.4 L315.5,509.4 L317.0,508.5 L318.5,507.5 L320.0,506.5 L321.5,505.5 L323.0,504.5 L324.5,503.5 L326.0,502.5 L327.5,501.4 L329.0,500.3 L330.5,499.2 L332.0,498.2 L333.5,497.1 L335.0,496.0 L336.5,494.9 L338.0,493.7 L339.5,492.6 L341.0,491.5 L342.5,490.4 L344.0,489.3 L345.5,488.2 L347.0,487.1 L348.5,485.9 L350.0,484.8 L351.5,483.8 L353.0,482.7 L354.5,481.6 L356.0,480.6 L357.5,479.6 L359.0,478.6 L360.5,477.6 L362.0,476.7 L363.5,475.7 L365.0,474.8 L366.5,473.9 L368.0,473.1 L369.5,472.2 L371.0,471.4 L372.5,470.7 L374.0,469.9 L375.5,469.2 L377.0,468.5 L378.5,467.8 L380.0,467.2 L381.5,466.6 L383.0,466.0 L384.5,465.5 L386.0,465.0 L387.5,464.5 L389.0,464.2 L390.5,463.8 L392.0,463.5 L393.5,463.3 L395.0,463.1 L396.5,462.9 L398.0,462.9 L399.5,462.9 L401.0,462.9 L402.5,463.0 L404.0,463.3 L405.5,463.5 L407.0,463.9 L408.5,464.3 L410.0,464.7 L411.5,465.2 L413.0,465.8 L414.5,466.4 L416.0,467.0 L417.5,467.6 L419.0,468.3 L420.5,469.0 L422.0,469.8 L423.5,470.6 L425.0,471.5 L426.5,472.4 L428.0,473.3 L429.5,474.3 L431.0,475.3 L432.5,476.4 L434.0,477.4 L435.5,478.5 L437.0,479.7 L438.5,480.8 L440.0,482.0 L441.5,483.2 L443.0,484.4 L444.5,485.6 L446.0,486.8 L447.5,488.0 L449.0,489.2 L450.5,490.4 L452.0,491.5 L453.5,492.7 L455.0,493.8 L456.5,494.9 L458.0,495.9 L459.5,496.9 L461.0,497.8 L462.5,498.7 L464.0,499.6 L465.5,500.5 L467.0,501.3 L468.5,502.1 L470.0,502.8 L471.5,503.6 L473.0,504.3 L474.5,504.9 L476.0,505.5 L477.5,506.1 L479.0,506.6 L480.5,507.0 L482.0,507.4 L483.5,507.7 L485.0,508.0 L486.5,508.2 L488.0,508.4 L489.5,508.6 L491.0,508.7 L492.5,508.8 L494.0,508.8 L495.5,508.9 L497.0,508.9 L498.5,508.8 L500.0,508.8 L501.5,508.7 L503.0,508.7 L504.5,508.6 L506.0,508.5 L507.5,508.4 L509.0,508.3 L510.5,508.2 L512.0,508.1 L513.5,507.9 L515.0,507.8 L516.5,507.7 L518.0,507.6 L519.5,507.6 L521.0,507.5 L522.5,507.5 L524.0,507.5 L525.5,507.5 L527.0,507.5 L528.5,507.5 L530.0,507.6 L531.5,507.7 L533.0,507.7 L534.5,507.9 L536.0,508.0 L537.5,508.1 L539.0,508.3 L540.5,508.6 L542.0,508.8 L543.5,509.0 L545.0,509.3 L546.5,509.6 L548.0,509.9 L549.5,510.1 L551.0,510.4 L552.5,510.7 L554.0,511.0 L555.5,511.3 L557.0,511.6 L558.5,512.0 L560.0,512.3 L561.5,512.6 L563.0,512.9 L564.5,513.3 L566.0,513.6 L567.5,514.0 L569.0,514.3 L570.5,514.7 L572.0,515.0 L573.5,515.4 L575.0,515.7 L576.5,516.1 L578.0,516.4 L579.5,516.8 L581.0,517.2 L582.5,517.5 L584.0,517.9 L585.5,518.2 L587.0,518.5 L588.5,518.8 L590.0,519.1 L591.5,519.4 L593.0,519.7 L594.5,520.0 L596.0,520.2 L597.5,520.5 L599.0,520.7 L600.5,520.9 L602.0,521.1 L603.5,521.3 L605.0,521.5 L606.5,521.7 L608.0,521.9 L609.5,522.1 L611.0,522.3 L612.5,522.4 L614.0,522.6 L615.5,522.8 L617.0,522.9 L618.5,523.1 L620.0,523.3 L621.5,523.4 L623.0,523.6 L624.5,523.7 L626.0,523.9 L627.5,524.0 L629.0,524.2 L630.5,524.3 L632.0,524.4 L633.5,524.6 L635.0,524.7 L636.5,524.8 L638.0,525.0 L639.5,525.1 L641.0,525.2 L642.5,525.4 L644.0,525.5 L645.5,525.6 L647.0,525.7 L648.5,525.8 L650.0,525.9 L651.5,526.1 L653.0,526.2 L654.5,526.3 L656.0,526.4 L657.5,526.5 L659.0,526.6 L660.5,526.7 L662.0,526.8 L663.5,526.9 L665.0,527.0 L666.5,527.1 L668.0,527.2 L669.5,527.3 L671.0,527.4 L672.5,527.5 L674.0,527.6 L675.5,527.6 L677.0,527.7 L678.5,527.8 L680.0,527.9 L681.5,528.0 L683.0,528.0 L684.5,528.1 L686.0,528.2 L687.5,528.2 L689.0,528.3 L690.5,528.3 L692.0,528.4 L693.5,528.4 L695.0,528.5 L696.5,528.5 L698.0,528.6 L699.5,528.6 L701.0,528.6 L702.5,528.7 L704.0,528.7 L705.5,528.7 L707.0,528.7 L708.5,528.7 L710.0,528.7 L711.5,528.7 L713.0,528.8 L714.5,528.8 L716.0,528.8 L717.5,528.8 L719.0,528.8 L720.5,528.8 L722.0,528.8 L723.5,528.8 L725.0,528.8 L726.5,528.8 L728.0,528.8 L729.5,528.8 L731.0,528.9 L732.5,528.9 L734.0,528.9 L735.5,528.9 L737.0,528.9 L738.5,528.9 L740.0,528.9 L741.5,528.9 L743.0,528.9 L744.5,528.9 L746.0,528.9 L747.5,528.9 L749.0,528.9 L750.5,528.9 L752.0,528.9 L753.5,528.9 L755.0,528.9 L756.5,528.9 L758.0,528.9 L759.5,529.0 L761.0,529.0 L762.5,529.0 L764.0,529.0 L765.5,529.0 L767.0,529.0 L768.5,529.0 L770.0,529.0 L771.5,529.0 L773.0,529.0 L774.5,529.0 L776.0,529.0 L777.5,529.0 L779.0,529.0 L780.5,529.0 L782.0,529.0 L783.5,529.0 L785.0,529.0 L786.5,529.0 L788.0,529.0 L789.5,529.0 L791.0,529.0 L792.5,529.0 L794.0,529.0 L795.5,529.0 L797.0,529.0 L798.5,529.0 L800.0,529.0 L801.5,529.0 L803.0,529.0 L804.5,529.0 L806.0,529.0 L807.5,529.0 L809.0,529.0 L810.5,529.0 L812.0,529.0 L813.5,529.0 L815.0,529.0 L816.5,529.0 L818.0,529.0 L819.5,529.0 L821.0,529.0 L822.5,529.0 L824.0,529.0 L825.5,529.0 L827.0,529.0 L828.5,529.0 L830.0,529.0 L831.5,529.0 L833.0,529.0 L834.5,529.0 L836.0,529.0 L837.5,529.0 L839.0,529.0 L840.5,529.0 L842.0,529.0 L843.5,529.0 L845.0,529.0 L846.5,529.0 L848.0,529.0 L849.5,529.0 L851.0,529.0 L852.5,529.0 L854.0,529.0 L855.5,529.0 L857.0,529.0 L858.5,529.0 L860.0,529.0 L861.5,529.0 L863.0,529.0 L864.5,529.0 L866.0,529.0 L867.5,529.0 L869.0,529.0 L870.5,529.0 L872.0,529.0 L873.5,529.0 L875.0,529.0 L876.5,529.0 L878.0,529.0 L879.5,529.0 L881.0,529.0 L882.5,529.0 L884.0,529.0 L885.5,529.0 L887.0,529.0 L888.5,529.0 L890.0,529.0 L891.5,529.0 L893.0,529.0 L894.5,529.0 L896.0,529.0 L897.5,529.0 L899.0,529.0 L900.5,529.0 L902.0,529.0 L903.5,529.0 L905.0,529.0 L906.5,529.0 L908.0,529.0 L909.5,529.0 L911.0,529.0 L912.5,529.0 L914.0,529.0 L915.5,529.0 L917.0,529.0 L918.5,529.0 L920.0,529.0 L921.5,529.0 L923.0,529.0 L924.5,529.0 L926.0,529.0 L927.5,529.0 L929.0,529.0 L930.5,529.0 L932.0,529.0 L933.5,529.0 L935.0,529.0 L936.5,529.0 L938.0,529.0 L939.5,529.0 L941.0,529.0 L942.5,529.0 L944.0,529.0 L945.5,529.0 L947.0,529.0 L948.5,529.0 L950.0,529.0 L951.5,529.0 L953.0,529.0 L954.5,529.0 L956.0,529.0 L957.5,529.0 L959.0,529.0 L960.5,529.0 L962.0,529.0 L963.5,529.0 L965.0,529.0 L966.5,529.0 L968.0,529.0 L969.5,529.0 L971.0,529.0 L972.5,529.0 L974.0,529.0 L975.5,529.0 L977.0,529.0 L978.5,529.0 L980.0,529.0 L981.5,529.0 L983.0,529.0 L984.5,529.0 L986.0,529.0 L987.5,529.0 L989.0,529.0 L990.5,529.0 L992.0,529.0 L993.5,529.0 L995.0,529.0 L996.5,529.0 L998.0,529.0 L999.5,529.0 L1001.0,529.0 L1002.5,529.0 L1004.0,529.0 L1005.5,529.0 L1007.0,529.0 L1008.5,529.0 L1010.0,529.0 L1011.5,529.0 L1013.0,529.0 L1014.5,529.0 L1016.0,529.0 L1017.5,529.0 L1019.0,529.0 L1020.5,529.0 L1022.0,529.0 L1023.5,529.0 L1025.0,529.0 L1026.5,529.0 L1028.0,529.0 L1029.5,529.0 L1031.0,529.0 L1032.5,529.0 L1034.0,529.0 L1035.5,529.0 L1037.0,529.0 L1038.5,529.0 L1040.0,529.0 L1041.5,529.0 L1043.0,529.0 L1044.5,529.0 L1046.0,529.0 L1047.5,529.0 L1049.0,529.0 L1050.5,529.0 L1052.0,529.0 L1053.5,529.0 L1055.0,529.0 L1056.5,529.0 L1058.0,529.0 L1059.5,529.0 L1061.0,529.0 L1062.5,529.0 L1064.0,529.0 L1065.5,529.0 L1067.0,529.0 L1068.5,529.0 L1070.0,529.0 L1071.5,529.0 L1073.0,529.0 L1074.5,529.0 L1076.0,529.0 L1077.5,529.0 L1079.0,529.0 L1080.5,529.0 L1082.0,529.0 L1083.5,529.0 L1085.0,529.0 L1086.5,529.0 L1088.0,529.0 L1089.5,529.0 L1091.0,529.0 L1092.5,529.0 L1093.5,529.0 L1093.5,529.27 Z" fill="#b6dc1c" stroke="none"/>
<path d="M221.0,529.0 L222.5,529.0 L224.0,529.0 L225.5,529.0 L227.0,529.0 L228.5,529.0 L230.0,528.9 L231.5,528.9 L233.0,528.9 L234.5,528.9 L236.0,528.9 L237.5,528.8 L239.0,528.8 L240.5,528.8 L242.0,528.8 L243.5,528.7 L245.0,528.7 L246.5,528.6 L248.0,528.6 L249.5,528.5 L251.0,528.5 L252.5,528.4 L254.0,528.3 L255.5,528.2 L257.0,528.1 L258.5,528.0 L260.0,527.8 L261.5,527.7 L263.0,527.5 L264.5,527.3 L266.0,527.1 L267.5,526.9 L269.0,526.7 L270.5,526.5 L272.0,526.2 L273.5,526.0 L275.0,525.7 L276.5,525.4 L278.0,525.0 L279.5,524.7 L281.0,524.4 L282.5,524.0 L284.0,523.6 L285.5,523.2 L287.0,522.7 L288.5,522.3 L290.0,521.8 L291.5,521.3 L293.0,520.7 L294.5,520.2 L296.0,519.6 L297.5,518.9 L299.0,518.3 L300.5,517.6 L302.0,516.9 L303.5,516.2 L305.0,515.5 L306.5,514.7 L308.0,513.9 L309.5,513.0 L311.0,512.2 L312.5,511.3 L314.0,510.4 L315.5,509.4 L317.0,508.5 L318.5,507.5 L320.0,506.5 L321.5,505.5 L323.0,504.5 L324.5,503.5 L326.0,502.5 L327.5,501.4 L329.0,500.3 L330.5,499.2 L332.0,498.2 L333.5,497.1 L335.0,496.0 L336.5,494.9 L338.0,493.7 L339.5,492.6 L341.0,491.5 L342.5,490.4 L344.0,489.3 L345.5,488.2 L347.0,487.1 L348.5,485.9 L350.0,484.8 L351.5,483.8 L353.0,482.7 L354.5,481.6 L356.0,480.6 L357.5,479.6 L359.0,478.6 L360.5,477.6 L362.0,476.7 L363.5,475.7 L365.0,474.8 L366.5,473.9 L368.0,473.1 L369.5,472.2 L371.0,471.4 L372.5,470.7 L374.0,469.9 L375.5,469.2 L377.0,468.5 L378.5,467.8 L380.0,467.2 L381.5,466.6 L383.0,466.0 L384.5,465.5 L386.0,465.0 L387.5,464.5 L389.0,464.2 L390.5,463.8 L392.0,463.5 L393.5,463.3 L395.0,463.1 L396.5,462.9 L398.0,462.9 L399.5,462.9 L401.0,462.9 L402.5,463.0 L404.0,463.3 L405.5,463.5 L407.0,463.9 L408.5,464.3 L410.0,464.7 L411.5,465.2 L413.0,465.8 L414.5,466.4 L416.0,467.0 L417.5,467.6 L419.0,468.3 L420.5,469.0 L422.0,469.8 L423.5,470.6 L425.0,471.5 L426.5,472.4 L428.0,473.3 L429.5,474.3 L431.0,475.3 L432.5,476.4 L434.0,477.4 L435.5,478.5 L437.0,479.7 L438.5,480.8 L440.0,482.0 L441.5,483.2 L443.0,484.4 L444.5,485.6 L446.0,486.8 L447.5,488.0 L449.0,489.2 L450.5,490.4 L452.0,491.5 L453.5,492.7 L455.0,493.8 L456.5,494.9 L458.0,495.9 L459.5,496.9 L461.0,497.8 L462.5,498.7 L464.0,499.6 L465.5,500.5 L467.0,501.3 L468.5,502.1 L470.0,502.8 L471.5,503.6 L473.0,504.3 L474.5,504.9 L476.0,505.5 L477.5,506.1 L479.0,506.6 L480.5,507.0 L482.0,507.4 L483.5,507.7 L485.0,508.0 L486.5,508.2 L488.0,508.4 L489.5,508.6 L491.0,508.7 L492.5,508.8 L494.0,508.8 L495.5,508.9 L497.0,508.9 L498.5,508.8 L500.0,508.8 L501.5,508.7 L503.0,508.7 L504.5,508.6 L506.0,508.5 L507.5,508.4 L509.0,508.3 L510.5,508.2 L512.0,508.1 L513.5,507.9 L515.0,507.8 L516.5,507.7 L518.0,507.6 L519.5,507.6 L521.0,507.5 L522.5,507.5 L524.0,507.5 L525.5,507.5 L527.0,507.5 L528.5,507.5 L530.0,507.6 L531.5,507.7 L533.0,507.7 L534.5,507.9 L536.0,508.0 L537.5,508.1 L539.0,508.3 L540.5,508.6 L542.0,508.8 L543.5,509.0 L545.0,509.3 L546.5,509.6 L548.0,509.9 L549.5,510.1 L551.0,510.4 L552.5,510.7 L554.0,511.0 L555.5,511.3 L557.0,511.6 L558.5,512.0 L560.0,512.3 L561.5,512.6 L563.0,512.9 L564.5,513.3 L566.0,513.6 L567.5,514.0 L569.0,514.3 L570.5,514.7 L572.0,515.0 L573.5,515.4 L575.0,515.7 L576.5,516.1 L578.0,516.4 L579.5,516.8 L581.0,517.2 L582.5,517.5 L584.0,517.9 L585.5,518.2 L587.0,518.5 L588.5,518.8 L590.0,519.1 L591.5,519.4 L593.0,519.7 L594.5,520.0 L596.0,520.2 L597.5,520.5 L599.0,520.7 L600.5,520.9 L602.0,521.1 L603.5,521.3 L605.0,521.5 L606.5,521.7 L608.0,521.9 L609.5,522.1 L611.0,522.3 L612.5,522.4 L614.0,522.6 L615.5,522.8 L617.0,522.9 L618.5,523.1 L620.0,523.3 L621.5,523.4 L623.0,523.6 L624.5,523.7 L626.0,523.9 L627.5,524.0 L629.0,524.2 L630.5,524.3 L632.0,524.4 L633.5,524.6 L635.0,524.7 L636.5,524.8 L638.0,525.0 L639.5,525.1 L641.0,525.2 L642.5,525.4 L644.0,525.5 L645.5,525.6 L647.0,525.7 L648.5,525.8 L650.0,525.9 L651.5,526.1 L653.0,526.2 L654.5,526.3 L656.0,526.4 L657.5,526.5 L659.0,526.6 L660.5,526.7 L662.0,526.8 L663.5,526.9 L665.0,527.0 L666.5,527.1 L668.0,527.2 L669.5,527.3 L671.0,527.4 L672.5,527.5 L674.0,527.6 L675.5,527.6 L677.0,527.7 L678.5,527.8 L680.0,527.9 L681.5,528.0 L683.0,528.0 L684.5,528.1 L686.0,528.2 L687.5,528.2 L689.0,528.3 L690.5,528.3 L692.0,528.4 L693.5,528.4 L695.0,528.5 L696.5,528.5 L698.0,528.6 L699.5,528.6 L701.0,528.6 L702.5,528.7 L704.0,528.7 L705.5,528.7 L707.0,528.7 L708.5,528.7 L710.0,528.7 L711.5,528.7 L713.0,528.8 L714.5,528.8 L716.0,528.8 L717.5,528.8 L719.0,528.8 L720.5,528.8 L722.0,528.8 L723.5,528.8 L725.0,528.8 L726.5,528.8 L728.0,528.8 L729.5,528.8 L731.0,528.9 L732.5,528.9 L734.0,528.9 L735.5,528.9 L737.0,528.9 L738.5,528.9 L740.0,528.9 L741.5,528.9 L743.0,528.9 L744.5,528.9 L746.0,528.9 L747.5,528.9 L749.0,528.9 L750.5,528.9 L752.0,528.9 L753.5,528.9 L755.0,528.9 L756.5,528.9 L758.0,528.9 L759.5,529.0 L761.0,529.0 L762.5,529.0 L764.0,529.0 L765.5,529.0 L767.0,529.0 L768.5,529.0 L770.0,529.0 L771.5,529.0 L773.0,529.0 L774.5,529.0 L776.0,529.0 L777.5,529.0 L779.0,529.0 L780.5,529.0 L782.0,529.0 L783.5,529.0 L785.0,529.0 L786.5,529.0 L788.0,529.0 L789.5,529.0 L791.0,529.0 L792.5,529.0 L794.0,529.0 L795.5,529.0 L797.0,529.0 L798.5,529.0 L800.0,529.0 L801.5,529.0 L803.0,529.0 L804.5,529.0 L806.0,529.0 L807.5,529.0 L809.0,529.0 L810.5,529.0 L812.0,529.0 L813.5,529.0 L815.0,529.0 L816.5,529.0 L818.0,529.0 L819.5,529.0 L821.0,529.0 L822.5,529.0 L824.0,529.0 L825.5,529.0 L827.0,529.0 L828.5,529.0 L830.0,529.0 L831.5,529.0 L833.0,529.0 L834.5,529.0 L836.0,529.0 L837.5,529.0 L839.0,529.0 L840.5,529.0 L842.0,529.0 L843.5,529.0 L845.0,529.0 L846.5,529.0 L848.0,529.0 L849.5,529.0 L851.0,529.0 L852.5,529.0 L854.0,529.0 L855.5,529.0 L857.0,529.0 L858.5,529.0 L860.0,529.0 L861.5,529.0 L863.0,529.0 L864.5,529.0 L866.0,529.0 L867.5,529.0 L869.0,529.0 L870.5,529.0 L872.0,529.0 L873.5,529.0 L875.0,529.0 L876.5,529.0 L878.0,529.0 L879.5,529.0 L881.0,529.0 L882.5,529.0 L884.0,529.0 L885.5,529.0 L887.0,529.0 L888.5,529.0 L890.0,529.0 L891.5,529.0 L893.0,529.0 L894.5,529.0 L896.0,529.0 L897.5,529.0 L899.0,529.0 L900.5,529.0 L902.0,529.0 L903.5,529.0 L905.0,529.0 L906.5,529.0 L908.0,529.0 L909.5,529.0 L911.0,529.0 L912.5,529.0 L914.0,529.0 L915.5,529.0 L917.0,529.0 L918.5,529.0 L920.0,529.0 L921.5,529.0 L923.0,529.0 L924.5,529.0 L926.0,529.0 L927.5,529.0 L929.0,529.0 L930.5,529.0 L932.0,529.0 L933.5,529.0 L935.0,529.0 L936.5,529.0 L938.0,529.0 L939.5,529.0 L941.0,529.0 L942.5,529.0 L944.0,529.0 L945.5,529.0 L947.0,529.0 L948.5,529.0 L950.0,529.0 L951.5,529.0 L953.0,529.0 L954.5,529.0 L956.0,529.0 L957.5,529.0 L959.0,529.0 L960.5,529.0 L962.0,529.0 L963.5,529.0 L965.0,529.0 L966.5,529.0 L968.0,529.0 L969.5,529.0 L971.0,529.0 L972.5,529.0 L974.0,529.0 L975.5,529.0 L977.0,529.0 L978.5,529.0 L980.0,529.0 L981.5,529.0 L983.0,529.0 L984.5,529.0 L986.0,529.0 L987.5,529.0 L989.0,529.0 L990.5,529.0 L992.0,529.0 L993.5,529.0 L995.0,529.0 L996.5,529.0 L998.0,529.0 L999.5,529.0 L1001.0,529.0 L1002.5,529.0 L1004.0,529.0 L1005.5,529.0 L1007.0,529.0 L1008.5,529.0 L1010.0,529.0 L1011.5,529.0 L1013.0,529.0 L1014.5,529.0 L1016.0,529.0 L1017.5,529.0 L1019.0,529.0 L1020.5,529.0 L1022.0,529.0 L1023.5,529.0 L1025.0,529.0 L1026.5,529.0 L1028.0,529.0 L1029.5,529.0 L1031.0,529.0 L1032.5,529.0 L1034.0,529.0 L1035.5,529.0 L1037.0,529.0 L1038.5,529.0 L1040.0,529.0 L1041.5,529.0 L1043.0,529.0 L1044.5,529.0 L1046.0,529.0 L1047.5,529.0 L1049.0,529.0 L1050.5,529.0 L1052.0,529.0 L1053.5,529.0 L1055.0,529.0 L1056.5,529.0 L1058.0,529.0 L1059.5,529.0 L1061.0,529.0 L1062.5,529.0 L1064.0,529.0 L1065.5,529.0 L1067.0,529.0 L1068.5,529.0 L1070.0,529.0 L1071.5,529.0 L1073.0,529.0 L1074.5,529.0 L1076.0,529.0 L1077.5,529.0 L1079.0,529.0 L1080.5,529.0 L1082.0,529.0 L1083.5,529.0 L1085.0,529.0 L1086.5,529.0 L1088.0,529.0 L1089.5,529.0 L1091.0,529.0 L1092.5,529.0 L1093.5,529.0" fill="none" stroke="#000" stroke-width="3.0" stroke-linejoin="round" stroke-linecap="round"/>
<path d="M221.0,577.85 L221.0,577.6 L222.5,577.6 L224.0,577.6 L225.5,577.6 L227.0,577.5 L228.5,577.5 L230.0,577.5 L231.5,577.5 L233.0,577.4 L234.5,577.4 L236.0,577.4 L237.5,577.3 L239.0,577.3 L240.5,577.2 L242.0,577.2 L243.5,577.1 L245.0,577.1 L246.5,577.0 L248.0,577.0 L249.5,576.9 L251.0,576.8 L252.5,576.7 L254.0,576.6 L255.5,576.6 L257.0,576.4 L258.5,576.3 L260.0,576.2 L261.5,576.1 L263.0,575.9 L264.5,575.7 L266.0,575.6 L267.5,575.4 L269.0,575.2 L270.5,575.0 L272.0,574.7 L273.5,574.5 L275.0,574.2 L276.5,574.0 L278.0,573.7 L279.5,573.4 L281.0,573.0 L282.5,572.7 L284.0,572.3 L285.5,572.0 L287.0,571.6 L288.5,571.2 L290.0,570.7 L291.5,570.3 L293.0,569.8 L294.5,569.4 L296.0,568.9 L297.5,568.4 L299.0,567.9 L300.5,567.3 L302.0,566.8 L303.5,566.2 L305.0,565.6 L306.5,565.0 L308.0,564.4 L309.5,563.8 L311.0,563.2 L312.5,562.5 L314.0,561.9 L315.5,561.2 L317.0,560.5 L318.5,559.8 L320.0,559.2 L321.5,558.5 L323.0,557.8 L324.5,557.1 L326.0,556.4 L327.5,555.7 L329.0,555.0 L330.5,554.3 L332.0,553.6 L333.5,552.9 L335.0,552.2 L336.5,551.5 L338.0,550.8 L339.5,550.2 L341.0,549.5 L342.5,548.8 L344.0,548.2 L345.5,547.6 L347.0,546.9 L348.5,546.3 L350.0,545.7 L351.5,545.1 L353.0,544.6 L354.5,544.1 L356.0,543.5 L357.5,543.1 L359.0,542.6 L360.5,542.1 L362.0,541.7 L363.5,541.3 L365.0,540.9 L366.5,540.5 L368.0,540.2 L369.5,539.9 L371.0,539.6 L372.5,539.4 L374.0,539.2 L375.5,539.0 L377.0,538.9 L378.5,538.8 L380.0,538.7 L381.5,538.6 L383.0,538.5 L384.5,538.4 L386.0,538.4 L387.5,538.3 L389.0,538.3 L390.5,538.3 L392.0,538.4 L393.5,538.4 L395.0,538.5 L396.5,538.6 L398.0,538.7 L399.5,538.9 L401.0,539.0 L402.5,539.2 L404.0,539.4 L405.5,539.6 L407.0,539.7 L408.5,540.0 L410.0,540.2 L411.5,540.4 L413.0,540.6 L414.5,540.9 L416.0,541.1 L417.5,541.4 L419.0,541.7 L420.5,542.0 L422.0,542.4 L423.5,542.7 L425.0,543.0 L426.5,543.4 L428.0,543.8 L429.5,544.1 L431.0,544.5 L432.5,544.8 L434.0,545.1 L435.5,545.4 L437.0,545.7 L438.5,545.9 L440.0,546.2 L441.5,546.4 L443.0,546.7 L444.5,546.9 L446.0,547.1 L447.5,547.2 L449.0,547.4 L450.5,547.5 L452.0,547.6 L453.5,547.7 L455.0,547.8 L456.5,547.8 L458.0,547.9 L459.5,547.9 L461.0,548.0 L462.5,548.0 L464.0,548.0 L465.5,548.0 L467.0,548.1 L468.5,548.1 L470.0,548.0 L471.5,548.0 L473.0,548.0 L474.5,548.0 L476.0,547.9 L477.5,547.9 L479.0,547.8 L480.5,547.7 L482.0,547.7 L483.5,547.6 L485.0,547.6 L486.5,547.5 L488.0,547.5 L489.5,547.5 L491.0,547.4 L492.5,547.4 L494.0,547.4 L495.5,547.3 L497.0,547.3 L498.5,547.3 L500.0,547.3 L501.5,547.2 L503.0,547.2 L504.5,547.2 L506.0,547.2 L507.5,547.2 L509.0,547.1 L510.5,547.1 L512.0,547.1 L513.5,547.1 L515.0,547.1 L516.5,547.0 L518.0,547.0 L519.5,547.0 L521.0,547.0 L522.5,547.0 L524.0,547.0 L525.5,547.0 L527.0,547.0 L528.5,547.0 L530.0,547.0 L531.5,547.0 L533.0,547.0 L534.5,547.0 L536.0,547.0 L537.5,547.0 L539.0,547.0 L540.5,547.1 L542.0,547.1 L543.5,547.1 L545.0,547.2 L546.5,547.2 L548.0,547.3 L549.5,547.3 L551.0,547.4 L552.5,547.5 L554.0,547.6 L555.5,547.7 L557.0,547.8 L558.5,548.0 L560.0,548.1 L561.5,548.3 L563.0,548.5 L564.5,548.6 L566.0,548.8 L567.5,549.1 L569.0,549.3 L570.5,549.5 L572.0,549.8 L573.5,550.0 L575.0,550.3 L576.5,550.5 L578.0,550.8 L579.5,551.1 L581.0,551.4 L582.5,551.7 L584.0,552.0 L585.5,552.3 L587.0,552.6 L588.5,552.9 L590.0,553.2 L591.5,553.5 L593.0,553.8 L594.5,554.1 L596.0,554.4 L597.5,554.8 L599.0,555.1 L600.5,555.5 L602.0,555.9 L603.5,556.3 L605.0,556.7 L606.5,557.1 L608.0,557.6 L609.5,558.0 L611.0,558.5 L612.5,559.0 L614.0,559.4 L615.5,559.9 L617.0,560.3 L618.5,560.8 L620.0,561.2 L621.5,561.7 L623.0,562.1 L624.5,562.5 L626.0,562.9 L627.5,563.3 L629.0,563.7 L630.5,564.1 L632.0,564.5 L633.5,564.9 L635.0,565.2 L636.5,565.6 L638.0,565.9 L639.5,566.2 L641.0,566.5 L642.5,566.8 L644.0,567.1 L645.5,567.4 L647.0,567.7 L648.5,568.0 L650.0,568.2 L651.5,568.5 L653.0,568.7 L654.5,569.0 L656.0,569.2 L657.5,569.5 L659.0,569.7 L660.5,569.9 L662.0,570.2 L663.5,570.4 L665.0,570.6 L666.5,570.8 L668.0,571.0 L669.5,571.3 L671.0,571.5 L672.5,571.7 L674.0,571.9 L675.5,572.1 L677.0,572.3 L678.5,572.5 L680.0,572.7 L681.5,572.9 L683.0,573.0 L684.5,573.2 L686.0,573.4 L687.5,573.6 L689.0,573.7 L690.5,573.9 L692.0,574.0 L693.5,574.2 L695.0,574.3 L696.5,574.4 L698.0,574.6 L699.5,574.7 L701.0,574.8 L702.5,575.0 L704.0,575.1 L705.5,575.2 L707.0,575.3 L708.5,575.4 L710.0,575.5 L711.5,575.6 L713.0,575.6 L714.5,575.7 L716.0,575.8 L717.5,575.9 L719.0,576.0 L720.5,576.0 L722.0,576.1 L723.5,576.2 L725.0,576.3 L726.5,576.3 L728.0,576.4 L729.5,576.5 L731.0,576.5 L732.5,576.6 L734.0,576.6 L735.5,576.7 L737.0,576.7 L738.5,576.8 L740.0,576.8 L741.5,576.8 L743.0,576.9 L744.5,576.9 L746.0,576.9 L747.5,577.0 L749.0,577.0 L750.5,577.0 L752.0,577.1 L753.5,577.1 L755.0,577.1 L756.5,577.1 L758.0,577.1 L759.5,577.2 L761.0,577.2 L762.5,577.2 L764.0,577.2 L765.5,577.2 L767.0,577.2 L768.5,577.3 L770.0,577.3 L771.5,577.3 L773.0,577.3 L774.5,577.3 L776.0,577.3 L777.5,577.3 L779.0,577.3 L780.5,577.3 L782.0,577.3 L783.5,577.3 L785.0,577.4 L786.5,577.4 L788.0,577.4 L789.5,577.4 L791.0,577.4 L792.5,577.4 L794.0,577.4 L795.5,577.4 L797.0,577.4 L798.5,577.4 L800.0,577.4 L801.5,577.4 L803.0,577.4 L804.5,577.4 L806.0,577.4 L807.5,577.4 L809.0,577.4 L810.5,577.4 L812.0,577.4 L813.5,577.4 L815.0,577.4 L816.5,577.4 L818.0,577.4 L819.5,577.4 L821.0,577.4 L822.5,577.4 L824.0,577.4 L825.5,577.4 L827.0,577.4 L828.5,577.4 L830.0,577.4 L831.5,577.4 L833.0,577.4 L834.5,577.4 L836.0,577.4 L837.5,577.4 L839.0,577.5 L840.5,577.5 L842.0,577.5 L843.5,577.5 L845.0,577.5 L846.5,577.5 L848.0,577.5 L849.5,577.5 L851.0,577.5 L852.5,577.5 L854.0,577.5 L855.5,577.5 L857.0,577.5 L858.5,577.5 L860.0,577.5 L861.5,577.5 L863.0,577.5 L864.5,577.5 L866.0,577.5 L867.5,577.5 L869.0,577.5 L870.5,577.5 L872.0,577.5 L873.5,577.5 L875.0,577.5 L876.5,577.5 L878.0,577.5 L879.5,577.5 L881.0,577.5 L882.5,577.5 L884.0,577.5 L885.5,577.5 L887.0,577.5 L888.5,577.5 L890.0,577.5 L891.5,577.5 L893.0,577.5 L894.5,577.5 L896.0,577.5 L897.5,577.5 L899.0,577.5 L900.5,577.5 L902.0,577.5 L903.5,577.5 L905.0,577.5 L906.5,577.5 L908.0,577.5 L909.5,577.5 L911.0,577.5 L912.5,577.5 L914.0,577.5 L915.5,577.5 L917.0,577.5 L918.5,577.5 L920.0,577.5 L921.5,577.5 L923.0,577.5 L924.5,577.5 L926.0,577.5 L927.5,577.5 L929.0,577.5 L930.5,577.5 L932.0,577.5 L933.5,577.5 L935.0,577.5 L936.5,577.5 L938.0,577.5 L939.5,577.5 L941.0,577.5 L942.5,577.5 L944.0,577.6 L945.5,577.6 L947.0,577.6 L948.5,577.6 L950.0,577.6 L951.5,577.6 L953.0,577.6 L954.5,577.6 L956.0,577.6 L957.5,577.6 L959.0,577.6 L960.5,577.6 L962.0,577.6 L963.5,577.6 L965.0,577.6 L966.5,577.6 L968.0,577.6 L969.5,577.6 L971.0,577.6 L972.5,577.6 L974.0,577.6 L975.5,577.6 L977.0,577.6 L978.5,577.6 L980.0,577.6 L981.5,577.6 L983.0,577.6 L984.5,577.6 L986.0,577.6 L987.5,577.6 L989.0,577.6 L990.5,577.6 L992.0,577.6 L993.5,577.6 L995.0,577.6 L996.5,577.6 L998.0,577.6 L999.5,577.6 L1001.0,577.6 L1002.5,577.6 L1004.0,577.6 L1005.5,577.6 L1007.0,577.6 L1008.5,577.6 L1010.0,577.6 L1011.5,577.6 L1013.0,577.6 L1014.5,577.6 L1016.0,577.6 L1017.5,577.6 L1019.0,577.6 L1020.5,577.6 L1022.0,577.6 L1023.5,577.6 L1025.0,577.6 L1026.5,577.6 L1028.0,577.6 L1029.5,577.6 L1031.0,577.6 L1032.5,577.6 L1034.0,577.6 L1035.5,577.6 L1037.0,577.6 L1038.5,577.6 L1040.0,577.6 L1041.5,577.6 L1043.0,577.6 L1044.5,577.6 L1046.0,577.6 L1047.5,577.6 L1049.0,577.6 L1050.5,577.6 L1052.0,577.6 L1053.5,577.6 L1055.0,577.6 L1056.5,577.6 L1058.0,577.6 L1059.5,577.6 L1061.0,577.6 L1062.5,577.6 L1064.0,577.6 L1065.5,577.6 L1067.0,577.6 L1068.5,577.6 L1070.0,577.6 L1071.5,577.6 L1073.0,577.6 L1074.5,577.6 L1076.0,577.6 L1077.5,577.6 L1079.0,577.6 L1080.5,577.6 L1082.0,577.6 L1083.5,577.6 L1085.0,577.6 L1086.5,577.6 L1088.0,577.6 L1089.5,577.6 L1091.0,577.6 L1092.5,577.6 L1093.5,577.6 L1093.5,577.85 Z" fill="#fce51e" stroke="none"/>
<path d="M221.0,577.6 L222.5,577.6 L224.0,577.6 L225.5,577.6 L227.0,577.5 L228.5,577.5 L230.0,577.5 L231.5,577.5 L233.0,577.4 L234.5,577.4 L236.0,577.4 L237.5,577.3 L239.0,577.3 L240.5,577.2 L242.0,577.2 L243.5,577.1 L245.0,577.1 L246.5,577.0 L248.0,577.0 L249.5,576.9 L251.0,576.8 L252.5,576.7 L254.0,576.6 L255.5,576.6 L257.0,576.4 L258.5,576.3 L260.0,576.2 L261.5,576.1 L263.0,575.9 L264.5,575.7 L266.0,575.6 L267.5,575.4 L269.0,575.2 L270.5,575.0 L272.0,574.7 L273.5,574.5 L275.0,574.2 L276.5,574.0 L278.0,573.7 L279.5,573.4 L281.0,573.0 L282.5,572.7 L284.0,572.3 L285.5,572.0 L287.0,571.6 L288.5,571.2 L290.0,570.7 L291.5,570.3 L293.0,569.8 L294.5,569.4 L296.0,568.9 L297.5,568.4 L299.0,567.9 L300.5,567.3 L302.0,566.8 L303.5,566.2 L305.0,565.6 L306.5,565.0 L308.0,564.4 L309.5,563.8 L311.0,563.2 L312.5,562.5 L314.0,561.9 L315.5,561.2 L317.0,560.5 L318.5,559.8 L320.0,559.2 L321.5,558.5 L323.0,557.8 L324.5,557.1 L326.0,556.4 L327.5,555.7 L329.0,555.0 L330.5,554.3 L332.0,553.6 L333.5,552.9 L335.0,552.2 L336.5,551.5 L338.0,550.8 L339.5,550.2 L341.0,549.5 L342.5,548.8 L344.0,548.2 L345.5,547.6 L347.0,546.9 L348.5,546.3 L350.0,545.7 L351.5,545.1 L353.0,544.6 L354.5,544.1 L356.0,543.5 L357.5,543.1 L359.0,542.6 L360.5,542.1 L362.0,541.7 L363.5,541.3 L365.0,540.9 L366.5,540.5 L368.0,540.2 L369.5,539.9 L371.0,539.6 L372.5,539.4 L374.0,539.2 L375.5,539.0 L377.0,538.9 L378.5,538.8 L380.0,538.7 L381.5,538.6 L383.0,538.5 L384.5,538.4 L386.0,538.4 L387.5,538.3 L389.0,538.3 L390.5,538.3 L392.0,538.4 L393.5,538.4 L395.0,538.5 L396.5,538.6 L398.0,538.7 L399.5,538.9 L401.0,539.0 L402.5,539.2 L404.0,539.4 L405.5,539.6 L407.0,539.7 L408.5,540.0 L410.0,540.2 L411.5,540.4 L413.0,540.6 L414.5,540.9 L416.0,541.1 L417.5,541.4 L419.0,541.7 L420.5,542.0 L422.0,542.4 L423.5,542.7 L425.0,543.0 L426.5,543.4 L428.0,543.8 L429.5,544.1 L431.0,544.5 L432.5,544.8 L434.0,545.1 L435.5,545.4 L437.0,545.7 L438.5,545.9 L440.0,546.2 L441.5,546.4 L443.0,546.7 L444.5,546.9 L446.0,547.1 L447.5,547.2 L449.0,547.4 L450.5,547.5 L452.0,547.6 L453.5,547.7 L455.0,547.8 L456.5,547.8 L458.0,547.9 L459.5,547.9 L461.0,548.0 L462.5,548.0 L464.0,548.0 L465.5,548.0 L467.0,548.1 L468.5,548.1 L470.0,548.0 L471.5,548.0 L473.0,548.0 L474.5,548.0 L476.0,547.9 L477.5,547.9 L479.0,547.8 L480.5,547.7 L482.0,547.7 L483.5,547.6 L485.0,547.6 L486.5,547.5 L488.0,547.5 L489.5,547.5 L491.0,547.4 L492.5,547.4 L494.0,547.4 L495.5,547.3 L497.0,547.3 L498.5,547.3 L500.0,547.3 L501.5,547.2 L503.0,547.2 L504.5,547.2 L506.0,547.2 L507.5,547.2 L509.0,547.1 L510.5,547.1 L512.0,547.1 L513.5,547.1 L515.0,547.1 L516.5,547.0 L518.0,547.0 L519.5,547.0 L521.0,547.0 L522.5,547.0 L524.0,547.0 L525.5,547.0 L527.0,547.0 L528.5,547.0 L530.0,547.0 L531.5,547.0 L533.0,547.0 L534.5,547.0 L536.0,547.0 L537.5,547.0 L539.0,547.0 L540.5,547.1 L542.0,547.1 L543.5,547.1 L545.0,547.2 L546.5,547.2 L548.0,547.3 L549.5,547.3 L551.0,547.4 L552.5,547.5 L554.0,547.6 L555.5,547.7 L557.0,547.8 L558.5,548.0 L560.0,548.1 L561.5,548.3 L563.0,548.5 L564.5,548.6 L566.0,548.8 L567.5,549.1 L569.0,549.3 L570.5,549.5 L572.0,549.8 L573.5,550.0 L575.0,550.3 L576.5,550.5 L578.0,550.8 L579.5,551.1 L581.0,551.4 L582.5,551.7 L584.0,552.0 L585.5,552.3 L587.0,552.6 L588.5,552.9 L590.0,553.2 L591.5,553.5 L593.0,553.8 L594.5,554.1 L596.0,554.4 L597.5,554.8 L599.0,555.1 L600.5,555.5 L602.0,555.9 L603.5,556.3 L605.0,556.7 L606.5,557.1 L608.0,557.6 L609.5,558.0 L611.0,558.5 L612.5,559.0 L614.0,559.4 L615.5,559.9 L617.0,560.3 L618.5,560.8 L620.0,561.2 L621.5,561.7 L623.0,562.1 L624.5,562.5 L626.0,562.9 L627.5,563.3 L629.0,563.7 L630.5,564.1 L632.0,564.5 L633.5,564.9 L635.0,565.2 L636.5,565.6 L638.0,565.9 L639.5,566.2 L641.0,566.5 L642.5,566.8 L644.0,567.1 L645.5,567.4 L647.0,567.7 L648.5,568.0 L650.0,568.2 L651.5,568.5 L653.0,568.7 L654.5,569.0 L656.0,569.2 L657.5,569.5 L659.0,569.7 L660.5,569.9 L662.0,570.2 L663.5,570.4 L665.0,570.6 L666.5,570.8 L668.0,571.0 L669.5,571.3 L671.0,571.5 L672.5,571.7 L674.0,571.9 L675.5,572.1 L677.0,572.3 L678.5,572.5 L680.0,572.7 L681.5,572.9 L683.0,573.0 L684.5,573.2 L686.0,573.4 L687.5,573.6 L689.0,573.7 L690.5,573.9 L692.0,574.0 L693.5,574.2 L695.0,574.3 L696.5,574.4 L698.0,574.6 L699.5,574.7 L701.0,574.8 L702.5,575.0 L704.0,575.1 L705.5,575.2 L707.0,575.3 L708.5,575.4 L710.0,575.5 L711.5,575.6 L713.0,575.6 L714.5,575.7 L716.0,575.8 L717.5,575.9 L719.0,576.0 L720.5,576.0 L722.0,576.1 L723.5,576.2 L725.0,576.3 L726.5,576.3 L728.0,576.4 L729.5,576.5 L731.0,576.5 L732.5,576.6 L734.0,576.6 L735.5,576.7 L737.0,576.7 L738.5,576.8 L740.0,576.8 L741.5,576.8 L743.0,576.9 L744.5,576.9 L746.0,576.9 L747.5,577.0 L749.0,577.0 L750.5,577.0 L752.0,577.1 L753.5,577.1 L755.0,577.1 L756.5,577.1 L758.0,577.1 L759.5,577.2 L761.0,577.2 L762.5,577.2 L764.0,577.2 L765.5,577.2 L767.0,577.2 L768.5,577.3 L770.0,577.3 L771.5,577.3 L773.0,577.3 L774.5,577.3 L776.0,577.3 L777.5,577.3 L779.0,577.3 L780.5,577.3 L782.0,577.3 L783.5,577.3 L785.0,577.4 L786.5,577.4 L788.0,577.4 L789.5,577.4 L791.0,577.4 L792.5,577.4 L794.0,577.4 L795.5,577.4 L797.0,577.4 L798.5,577.4 L800.0,577.4 L801.5,577.4 L803.0,577.4 L804.5,577.4 L806.0,577.4 L807.5,577.4 L809.0,577.4 L810.5,577.4 L812.0,577.4 L813.5,577.4 L815.0,577.4 L816.5,577.4 L818.0,577.4 L819.5,577.4 L821.0,577.4 L822.5,577.4 L824.0,577.4 L825.5,577.4 L827.0,577.4 L828.5,577.4 L830.0,577.4 L831.5,577.4 L833.0,577.4 L834.5,577.4 L836.0,577.4 L837.5,577.4 L839.0,577.5 L840.5,577.5 L842.0,577.5 L843.5,577.5 L845.0,577.5 L846.5,577.5 L848.0,577.5 L849.5,577.5 L851.0,577.5 L852.5,577.5 L854.0,577.5 L855.5,577.5 L857.0,577.5 L858.5,577.5 L860.0,577.5 L861.5,577.5 L863.0,577.5 L864.5,577.5 L866.0,577.5 L867.5,577.5 L869.0,577.5 L870.5,577.5 L872.0,577.5 L873.5,577.5 L875.0,577.5 L876.5,577.5 L878.0,577.5 L879.5,577.5 L881.0,577.5 L882.5,577.5 L884.0,577.5 L885.5,577.5 L887.0,577.5 L888.5,577.5 L890.0,577.5 L891.5,577.5 L893.0,577.5 L894.5,577.5 L896.0,577.5 L897.5,577.5 L899.0,577.5 L900.5,577.5 L902.0,577.5 L903.5,577.5 L905.0,577.5 L906.5,577.5 L908.0,577.5 L909.5,577.5 L911.0,577.5 L912.5,577.5 L914.0,577.5 L915.5,577.5 L917.0,577.5 L918.5,577.5 L920.0,577.5 L921.5,577.5 L923.0,577.5 L924.5,577.5 L926.0,577.5 L927.5,577.5 L929.0,577.5 L930.5,577.5 L932.0,577.5 L933.5,577.5 L935.0,577.5 L936.5,577.5 L938.0,577.5 L939.5,577.5 L941.0,577.5 L942.5,577.5 L944.0,577.6 L945.5,577.6 L947.0,577.6 L948.5,577.6 L950.0,577.6 L951.5,577.6 L953.0,577.6 L954.5,577.6 L956.0,577.6 L957.5,577.6 L959.0,577.6 L960.5,577.6 L962.0,577.6 L963.5,577.6 L965.0,577.6 L966.5,577.6 L968.0,577.6 L969.5,577.6 L971.0,577.6 L972.5,577.6 L974.0,577.6 L975.5,577.6 L977.0,577.6 L978.5,577.6 L980.0,577.6 L981.5,577.6 L983.0,577.6 L984.5,577.6 L986.0,577.6 L987.5,577.6 L989.0,577.6 L990.5,577.6 L992.0,577.6 L993.5,577.6 L995.0,577.6 L996.5,577.6 L998.0,577.6 L999.5,577.6 L1001.0,577.6 L1002.5,577.6 L1004.0,577.6 L1005.5,577.6 L1007.0,577.6 L1008.5,577.6 L1010.0,577.6 L1011.5,577.6 L1013.0,577.6 L1014.5,577.6 L1016.0,577.6 L1017.5,577.6 L1019.0,577.6 L1020.5,577.6 L1022.0,577.6 L1023.5,577.6 L1025.0,577.6 L1026.5,577.6 L1028.0,577.6 L1029.5,577.6 L1031.0,577.6 L1032.5,577.6 L1034.0,577.6 L1035.5,577.6 L1037.0,577.6 L1038.5,577.6 L1040.0,577.6 L1041.5,577.6 L1043.0,577.6 L1044.5,577.6 L1046.0,577.6 L1047.5,577.6 L1049.0,577.6 L1050.5,577.6 L1052.0,577.6 L1053.5,577.6 L1055.0,577.6 L1056.5,577.6 L1058.0,577.6 L1059.5,577.6 L1061.0,577.6 L1062.5,577.6 L1064.0,577.6 L1065.5,577.6 L1067.0,577.6 L1068.5,577.6 L1070.0,577.6 L1071.5,577.6 L1073.0,577.6 L1074.5,577.6 L1076.0,577.6 L1077.5,577.6 L1079.0,577.6 L1080.5,577.6 L1082.0,577.6 L1083.5,577.6 L1085.0,577.6 L1086.5,577.6 L1088.0,577.6 L1089.5,577.6 L1091.0,577.6 L1092.5,577.6 L1093.5,577.6" fill="none" stroke="#000" stroke-width="3.0" stroke-linejoin="round" stroke-linecap="round"/>
</g>
<g stroke="#262626" stroke-width="2.9">
<line x1="170.00" y1="43.50" x2="177.00" y2="43.50"/>
<line x1="170.00" y1="92.08" x2="177.00" y2="92.08"/>
<line x1="170.00" y1="140.65" x2="177.00" y2="140.65"/>
<line x1="170.00" y1="189.23" x2="177.00" y2="189.23"/>
<line x1="170.00" y1="237.81" x2="177.00" y2="237.81"/>
<line x1="170.00" y1="286.38" x2="177.00" y2="286.38"/>
<line x1="170.00" y1="334.96" x2="177.00" y2="334.96"/>
<line x1="170.00" y1="383.54" x2="177.00" y2="383.54"/>
<line x1="170.00" y1="432.12" x2="177.00" y2="432.12"/>
<line x1="170.00" y1="480.69" x2="177.00" y2="480.69"/>
<line x1="170.00" y1="529.27" x2="177.00" y2="529.27"/>
<line x1="170.00" y1="577.85" x2="177.00" y2="577.85"/>
<line x1="185.40" y1="606.80" x2="185.40" y2="613.80"/>
<line x1="537.50" y1="606.80" x2="537.50" y2="613.80"/>
<line x1="889.60" y1="606.80" x2="889.60" y2="613.80"/>
</g>
<g fill="#3c3c3c" font-size="23.45" text-anchor="end" stroke="#3c3c3c" stroke-width="0.2">
<text transform="translate(163.50,52.00) scale(1,1.0)">January</text>
<text transform="translate(163.50,100.63) scale(1,1.0)">February</text>
<text transform="translate(163.50,149.26) scale(1,1.0)">March</text>
<text transform="translate(163.50,197.90) scale(1,1.0)">April</text>
<text transform="translate(163.50,246.53) scale(1,1.0)">May</text>
<text transform="translate(163.50,295.16) scale(1,1.0)">June</text>
<text transform="translate(163.50,343.79) scale(1,1.0)">July</text>
<text transform="translate(163.50,392.42) scale(1,1.0)">August</text>
<text transform="translate(163.50,441.06) scale(1,1.0)">September</text>
<text transform="translate(163.50,489.69) scale(1,1.0)">October</text>
<text transform="translate(163.50,538.32) scale(1,1.0)">November</text>
<text transform="translate(163.50,586.95) scale(1,1.0)">December</text>
</g>
<g fill="#3c3c3c" font-size="23.45" text-anchor="middle" stroke="#3c3c3c" stroke-width="0.2">
<text transform="translate(185.40,637.00) scale(1,1.0)">0</text>
<text transform="translate(537.50,637.00) scale(1,1.0)">5</text>
<text x="889.60" y="637.00" text-anchor="start">0</text>
</g>
<path transform="translate(0.00,0.20)" fill="#3c3c3c" d="M885.0,620.1 L885.0,636.8 L882.8,636.8 L882.8,623.4 C881.7,624.5 880.1,625.4 878.4,625.9 L878.4,624.0 C880.4,623.3 882.0,621.9 883.3,620.1 Z"/>
<text transform="translate(656.70,671.00) scale(1,1.0)" font-size="29.25" fill="#000" text-anchor="middle" stroke="#000" stroke-width="0.2">windSpeed</text>
<text transform="translate(36.00,311.70) rotate(-90) scale(1,1.0)" font-size="29.25" fill="#000" text-anchor="middle" stroke="#000" stroke-width="0.2">fct_rev(Month)</text>
</svg></body></html>
